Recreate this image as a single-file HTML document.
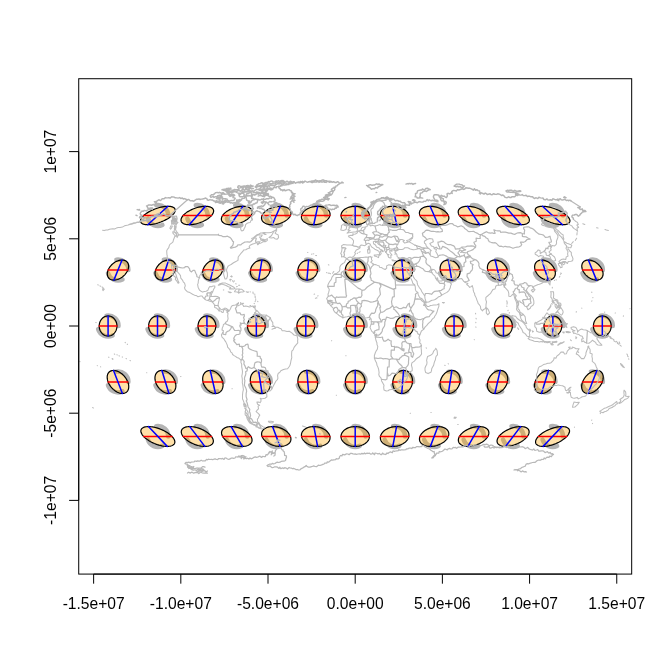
<!DOCTYPE html>
<html><head><meta charset="utf-8"><title>Tissot indicatrix - Robinson</title>
<style>html,body{margin:0;padding:0;background:#fff;width:672px;height:672px;overflow:hidden;font-family:"Liberation Sans",sans-serif}</style></head>
<body>
<svg width="672" height="672" viewBox="0 0 672 672" style="display:block;position:absolute;left:0;top:0">
<rect width="672" height="672" fill="#fff"/>
<defs><clipPath id="pc"><rect x="78.72" y="78.72" width="552.96" height="495.36"/></clipPath></defs>
<g clip-path="url(#pc)">
<g fill="none" stroke="#b4b4b4" stroke-width="4.5" stroke-linecap="round"><path d="M168.31 436.49A10.46 10.46 0 0 0 156.29 426.14M147.86 439.58A10.46 10.46 0 0 0 162.41 445.90"/><path d="M207.78 436.49A10.46 10.46 0 0 0 195.76 426.14M187.33 439.58A10.46 10.46 0 0 0 201.88 445.90"/><path d="M247.25 436.49A10.46 10.46 0 0 0 235.23 426.14M226.80 439.58A10.46 10.46 0 0 0 241.34 445.90"/><path d="M286.72 436.49A10.46 10.46 0 0 0 274.70 426.14M266.27 439.58A10.46 10.46 0 0 0 280.81 445.90"/><path d="M326.19 436.49A10.46 10.46 0 0 0 314.17 426.14M305.74 439.58A10.46 10.46 0 0 0 320.28 445.90"/><path d="M365.66 436.49A10.46 10.46 0 0 0 353.64 426.14M345.21 439.58A10.46 10.46 0 0 0 359.75 445.90"/><path d="M405.13 436.49A10.46 10.46 0 0 0 393.11 426.14M384.67 439.58A10.46 10.46 0 0 0 399.22 445.90"/><path d="M444.60 436.49A10.46 10.46 0 0 0 432.57 426.14M424.14 439.58A10.46 10.46 0 0 0 438.69 445.90"/><path d="M484.07 436.49A10.46 10.46 0 0 0 472.04 426.14M463.61 439.58A10.46 10.46 0 0 0 478.16 445.90"/><path d="M523.54 436.49A10.46 10.46 0 0 0 511.51 426.14M503.08 439.58A10.46 10.46 0 0 0 517.63 445.90"/><path d="M563.01 436.49A10.46 10.46 0 0 0 550.98 426.14M542.55 439.58A10.46 10.46 0 0 0 557.10 445.90"/><path d="M128.43 381.95A10.46 10.46 0 0 0 116.40 371.60M107.97 385.04A10.46 10.46 0 0 0 122.52 391.37"/><path d="M175.88 381.95A10.46 10.46 0 0 0 163.85 371.60M155.42 385.04A10.46 10.46 0 0 0 169.97 391.37"/><path d="M223.32 381.95A10.46 10.46 0 0 0 211.30 371.60M202.87 385.04A10.46 10.46 0 0 0 217.41 391.37"/><path d="M270.77 381.95A10.46 10.46 0 0 0 258.74 371.60M250.31 385.04A10.46 10.46 0 0 0 264.86 391.37"/><path d="M318.22 381.95A10.46 10.46 0 0 0 306.19 371.60M297.76 385.04A10.46 10.46 0 0 0 312.31 391.37"/><path d="M365.66 381.95A10.46 10.46 0 0 0 353.64 371.60M345.21 385.04A10.46 10.46 0 0 0 359.75 391.37"/><path d="M413.11 381.95A10.46 10.46 0 0 0 401.08 371.60M392.65 385.04A10.46 10.46 0 0 0 407.20 391.37"/><path d="M460.56 381.95A10.46 10.46 0 0 0 448.53 371.60M440.10 385.04A10.46 10.46 0 0 0 454.65 391.37"/><path d="M508.00 381.95A10.46 10.46 0 0 0 495.98 371.60M487.54 385.04A10.46 10.46 0 0 0 502.09 391.37"/><path d="M555.45 381.95A10.46 10.46 0 0 0 543.42 371.60M534.99 385.04A10.46 10.46 0 0 0 549.54 391.37"/><path d="M602.90 381.95A10.46 10.46 0 0 0 590.87 371.60M582.44 385.04A10.46 10.46 0 0 0 596.99 391.37"/><path d="M118.55 326.00A10.46 10.46 0 0 0 106.52 315.66M98.09 329.09A10.46 10.46 0 0 0 112.64 335.42"/><path d="M167.97 326.00A10.46 10.46 0 0 0 155.94 315.66M147.51 329.09A10.46 10.46 0 0 0 162.06 335.42"/><path d="M217.39 326.00A10.46 10.46 0 0 0 205.37 315.66M196.93 329.09A10.46 10.46 0 0 0 211.48 335.42"/><path d="M266.82 326.00A10.46 10.46 0 0 0 254.79 315.66M246.36 329.09A10.46 10.46 0 0 0 260.91 335.42"/><path d="M316.24 326.00A10.46 10.46 0 0 0 304.21 315.66M295.78 329.09A10.46 10.46 0 0 0 310.33 335.42"/><path d="M365.66 326.00A10.46 10.46 0 0 0 353.64 315.66M345.21 329.09A10.46 10.46 0 0 0 359.75 335.42"/><path d="M415.09 326.00A10.46 10.46 0 0 0 403.06 315.66M394.63 329.09A10.46 10.46 0 0 0 409.18 335.42"/><path d="M464.51 326.00A10.46 10.46 0 0 0 452.48 315.66M444.05 329.09A10.46 10.46 0 0 0 458.60 335.42"/><path d="M513.93 326.00A10.46 10.46 0 0 0 501.91 315.66M493.48 329.09A10.46 10.46 0 0 0 508.02 335.42"/><path d="M563.36 326.00A10.46 10.46 0 0 0 551.33 315.66M542.90 329.09A10.46 10.46 0 0 0 557.45 335.42"/><path d="M612.78 326.00A10.46 10.46 0 0 0 600.75 315.66M592.32 329.09A10.46 10.46 0 0 0 606.87 335.42"/><path d="M128.43 270.05A10.46 10.46 0 0 0 116.40 259.71M107.97 273.14A10.46 10.46 0 0 0 122.52 279.47"/><path d="M175.88 270.05A10.46 10.46 0 0 0 163.85 259.71M155.42 273.14A10.46 10.46 0 0 0 169.97 279.47"/><path d="M223.32 270.05A10.46 10.46 0 0 0 211.30 259.71M202.87 273.14A10.46 10.46 0 0 0 217.41 279.47"/><path d="M270.77 270.05A10.46 10.46 0 0 0 258.74 259.71M250.31 273.14A10.46 10.46 0 0 0 264.86 279.47"/><path d="M318.22 270.05A10.46 10.46 0 0 0 306.19 259.71M297.76 273.14A10.46 10.46 0 0 0 312.31 279.47"/><path d="M365.66 270.05A10.46 10.46 0 0 0 353.64 259.71M345.21 273.14A10.46 10.46 0 0 0 359.75 279.47"/><path d="M413.11 270.05A10.46 10.46 0 0 0 401.08 259.71M392.65 273.14A10.46 10.46 0 0 0 407.20 279.47"/><path d="M460.56 270.05A10.46 10.46 0 0 0 448.53 259.71M440.10 273.14A10.46 10.46 0 0 0 454.65 279.47"/><path d="M508.00 270.05A10.46 10.46 0 0 0 495.98 259.71M487.54 273.14A10.46 10.46 0 0 0 502.09 279.47"/><path d="M555.45 270.05A10.46 10.46 0 0 0 543.42 259.71M534.99 273.14A10.46 10.46 0 0 0 549.54 279.47"/><path d="M602.90 270.05A10.46 10.46 0 0 0 590.87 259.71M582.44 273.14A10.46 10.46 0 0 0 596.99 279.47"/><path d="M168.31 215.51A10.46 10.46 0 0 0 156.29 205.17M147.86 218.61A10.46 10.46 0 0 0 162.41 224.93"/><path d="M207.78 215.51A10.46 10.46 0 0 0 195.76 205.17M187.33 218.61A10.46 10.46 0 0 0 201.88 224.93"/><path d="M247.25 215.51A10.46 10.46 0 0 0 235.23 205.17M226.80 218.61A10.46 10.46 0 0 0 241.34 224.93"/><path d="M286.72 215.51A10.46 10.46 0 0 0 274.70 205.17M266.27 218.61A10.46 10.46 0 0 0 280.81 224.93"/><path d="M326.19 215.51A10.46 10.46 0 0 0 314.17 205.17M305.74 218.61A10.46 10.46 0 0 0 320.28 224.93"/><path d="M365.66 215.51A10.46 10.46 0 0 0 353.64 205.17M345.21 218.61A10.46 10.46 0 0 0 359.75 224.93"/><path d="M405.13 215.51A10.46 10.46 0 0 0 393.11 205.17M384.67 218.61A10.46 10.46 0 0 0 399.22 224.93"/><path d="M444.60 215.51A10.46 10.46 0 0 0 432.57 205.17M424.14 218.61A10.46 10.46 0 0 0 438.69 224.93"/><path d="M484.07 215.51A10.46 10.46 0 0 0 472.04 205.17M463.61 218.61A10.46 10.46 0 0 0 478.16 224.93"/><path d="M523.54 215.51A10.46 10.46 0 0 0 511.51 205.17M503.08 218.61A10.46 10.46 0 0 0 517.63 224.93"/><path d="M563.01 215.51A10.46 10.46 0 0 0 550.98 205.17M542.55 218.61A10.46 10.46 0 0 0 557.10 224.93"/></g>
<g fill="#ffa500" fill-opacity="0.34" stroke="#000" stroke-width="1.2" stroke-linejoin="round"><polygon points="172.03,436.49 171.16,435.62 170.19,434.77 169.13,433.92 167.97,433.10 166.74,432.30 165.45,431.53 164.09,430.80 162.69,430.12 161.25,429.48 159.79,428.90 158.31,428.37 156.83,427.91 155.35,427.51 153.90,427.18 152.47,426.92 151.08,426.73 149.75,426.62 148.48,426.58 147.28,426.62 146.16,426.73 145.13,426.92 144.19,427.18 143.36,427.51 142.64,427.91 142.04,428.37 141.56,428.90 141.20,429.48 140.96,430.12 140.86,430.80 140.88,431.53 141.04,432.30 141.32,433.10 141.73,433.92 142.26,434.77 142.91,435.62 143.67,436.49 144.54,437.35 145.51,438.21 146.58,439.05 147.73,439.87 148.96,440.67 150.26,441.44 151.61,442.17 153.01,442.85 154.45,443.49 155.92,444.07 157.40,444.60 158.88,445.06 160.35,445.46 161.81,445.79 163.23,446.05 164.62,446.24 165.95,446.35 167.22,446.39 168.43,446.35 169.55,446.24 170.58,446.05 171.51,445.79 172.34,445.46 173.06,445.06 173.66,444.60 174.15,444.07 174.51,443.49 174.74,442.85 174.85,442.17 174.82,441.44 174.67,440.67 174.38,439.87 173.98,439.05 173.45,438.21 172.80,437.35 172.03,436.49"/><polygon points="211.50,436.49 210.80,435.62 209.99,434.77 209.08,433.92 208.08,433.10 207.01,432.30 205.85,431.53 204.64,430.80 203.37,430.12 202.05,429.48 200.69,428.90 199.31,428.37 197.92,427.91 196.52,427.51 195.13,427.18 193.75,426.92 192.40,426.73 191.09,426.62 189.82,426.58 188.62,426.62 187.47,426.73 186.41,426.92 185.42,427.18 184.53,427.51 183.74,427.91 183.04,428.37 182.46,428.90 181.99,429.48 181.64,430.12 181.40,430.80 181.29,431.53 181.30,432.30 181.43,433.10 181.68,433.92 182.05,434.77 182.54,435.62 183.14,436.49 183.85,437.35 184.66,438.21 185.56,439.05 186.56,439.87 187.64,440.67 188.79,441.44 190.00,442.17 191.28,442.85 192.60,443.49 193.95,444.07 195.33,444.60 196.72,445.06 198.12,445.46 199.52,445.79 200.89,446.05 202.24,446.24 203.56,446.35 204.82,446.39 206.03,446.35 207.17,446.24 208.24,446.05 209.22,445.79 210.11,445.46 210.91,445.06 211.60,444.60 212.18,444.07 212.65,443.49 213.01,442.85 213.24,442.17 213.35,441.44 213.34,440.67 213.21,439.87 212.96,439.05 212.59,438.21 212.10,437.35 211.50,436.49"/><polygon points="250.97,436.49 250.43,435.62 249.78,434.77 249.03,433.92 248.19,433.10 247.27,432.30 246.26,431.53 245.18,430.80 244.04,430.12 242.84,429.48 241.60,428.90 240.32,428.37 239.01,427.91 237.69,427.51 236.36,427.18 235.03,426.92 233.72,426.73 232.42,426.62 231.17,426.58 229.95,426.62 228.79,426.73 227.69,426.92 226.66,427.18 225.70,427.51 224.83,427.91 224.05,428.37 223.37,428.90 222.79,429.48 222.31,430.12 221.95,430.80 221.70,431.53 221.56,432.30 221.54,433.10 221.64,433.92 221.85,434.77 222.17,435.62 222.61,436.49 223.15,437.35 223.80,438.21 224.55,439.05 225.39,439.87 226.31,440.67 227.32,441.44 228.40,442.17 229.54,442.85 230.74,443.49 231.98,444.07 233.26,444.60 234.57,445.06 235.89,445.46 237.23,445.79 238.55,446.05 239.87,446.24 241.16,446.35 242.41,446.39 243.63,446.35 244.79,446.24 245.89,446.05 246.93,445.79 247.88,445.46 248.75,445.06 249.53,444.60 250.22,444.07 250.80,443.49 251.27,442.85 251.63,442.17 251.89,441.44 252.02,440.67 252.04,439.87 251.95,439.05 251.73,438.21 251.41,437.35 250.97,436.49"/><polygon points="290.44,436.49 290.06,435.62 289.58,434.77 288.99,433.92 288.31,433.10 287.53,432.30 286.67,431.53 285.73,430.80 284.72,430.12 283.64,429.48 282.51,428.90 281.32,428.37 280.11,427.91 278.86,427.51 277.59,427.18 276.31,426.92 275.03,426.73 273.76,426.62 272.51,426.58 271.29,426.62 270.11,426.73 268.97,426.92 267.89,427.18 266.87,427.51 265.92,427.91 265.05,428.37 264.27,428.90 263.58,429.48 262.99,430.12 262.49,430.80 262.10,431.53 261.82,432.30 261.65,433.10 261.59,433.92 261.64,434.77 261.81,435.62 262.08,436.49 262.46,437.35 262.94,438.21 263.53,439.05 264.22,439.87 264.99,440.67 265.85,441.44 266.79,442.17 267.81,442.85 268.88,443.49 270.02,444.07 271.20,444.60 272.42,445.06 273.66,445.46 274.93,445.79 276.21,446.05 277.49,446.24 278.76,446.35 280.01,446.39 281.23,446.35 282.42,446.24 283.55,446.05 284.63,445.79 285.65,445.46 286.60,445.06 287.47,444.60 288.25,444.07 288.94,443.49 289.54,442.85 290.03,442.17 290.42,441.44 290.70,440.67 290.87,439.87 290.93,439.05 290.88,438.21 290.72,437.35 290.44,436.49"/><polygon points="329.91,436.49 329.70,435.62 329.37,434.77 328.94,433.92 328.42,433.10 327.79,432.30 327.08,431.53 326.27,430.80 325.39,430.12 324.43,429.48 323.41,428.90 322.33,428.37 321.20,427.91 320.03,427.51 318.82,427.18 317.59,426.92 316.35,426.73 315.10,426.62 313.86,426.58 312.63,426.62 311.42,426.73 310.25,426.92 309.12,427.18 308.04,427.51 307.02,427.91 306.06,428.37 305.18,428.90 304.38,429.48 303.66,430.12 303.04,430.80 302.51,431.53 302.08,432.30 301.76,433.10 301.55,433.92 301.44,434.77 301.44,435.62 301.55,436.49 301.77,437.35 302.09,438.21 302.52,439.05 303.04,439.87 303.67,440.67 304.39,441.44 305.19,442.17 306.07,442.85 307.03,443.49 308.05,444.07 309.13,444.60 310.26,445.06 311.44,445.46 312.64,445.79 313.87,446.05 315.11,446.24 316.36,446.35 317.60,446.39 318.83,446.35 320.04,446.24 321.21,446.05 322.34,445.79 323.42,445.46 324.45,445.06 325.40,444.60 326.28,444.07 327.08,443.49 327.80,442.85 328.42,442.17 328.95,441.44 329.38,440.67 329.70,439.87 329.91,439.05 330.02,438.21 330.02,437.35 329.91,436.49"/><polygon points="369.38,436.49 369.33,435.62 369.17,434.77 368.90,433.92 368.53,433.10 368.05,432.30 367.48,431.53 366.82,430.80 366.06,430.12 365.23,429.48 364.32,428.90 363.33,428.37 362.29,427.91 361.19,427.51 360.05,427.18 358.87,426.92 357.66,426.73 356.44,426.62 355.20,426.58 353.96,426.62 352.74,426.73 351.53,426.92 350.35,427.18 349.21,427.51 348.11,427.91 347.07,428.37 346.08,428.90 345.17,429.48 344.34,430.12 343.58,430.80 342.92,431.53 342.35,432.30 341.87,433.10 341.50,433.92 341.23,434.77 341.07,435.62 341.02,436.49 341.07,437.35 341.23,438.21 341.50,439.05 341.87,439.87 342.35,440.67 342.92,441.44 343.58,442.17 344.34,442.85 345.17,443.49 346.08,444.07 347.07,444.60 348.11,445.06 349.21,445.46 350.35,445.79 351.53,446.05 352.74,446.24 353.96,446.35 355.20,446.39 356.44,446.35 357.66,446.24 358.87,446.05 360.05,445.79 361.19,445.46 362.29,445.06 363.33,444.60 364.32,444.07 365.23,443.49 366.06,442.85 366.82,442.17 367.48,441.44 368.05,440.67 368.53,439.87 368.90,439.05 369.17,438.21 369.33,437.35 369.38,436.49"/><polygon points="408.85,436.49 408.96,435.62 408.96,434.77 408.85,433.92 408.64,433.10 408.32,432.30 407.89,431.53 407.36,430.80 406.74,430.12 406.02,429.48 405.22,428.90 404.34,428.37 403.38,427.91 402.36,427.51 401.28,427.18 400.15,426.92 398.98,426.73 397.77,426.62 396.54,426.58 395.30,426.62 394.05,426.73 392.81,426.92 391.58,427.18 390.37,427.51 389.20,427.91 388.07,428.37 386.99,428.90 385.97,429.48 385.01,430.12 384.13,430.80 383.32,431.53 382.61,432.30 381.98,433.10 381.46,433.92 381.03,434.77 380.70,435.62 380.49,436.49 380.38,437.35 380.38,438.21 380.49,439.05 380.70,439.87 381.02,440.67 381.45,441.44 381.98,442.17 382.60,442.85 383.32,443.49 384.12,444.07 385.00,444.60 385.95,445.06 386.98,445.46 388.06,445.79 389.19,446.05 390.36,446.24 391.57,446.35 392.80,446.39 394.04,446.35 395.29,446.24 396.53,446.05 397.76,445.79 398.96,445.46 400.14,445.06 401.27,444.60 402.35,444.07 403.37,443.49 404.33,442.85 405.21,442.17 406.01,441.44 406.73,440.67 407.36,439.87 407.88,439.05 408.31,438.21 408.63,437.35 408.85,436.49"/><polygon points="448.32,436.49 448.59,435.62 448.76,434.77 448.81,433.92 448.75,433.10 448.58,432.30 448.30,431.53 447.91,430.80 447.41,430.12 446.82,429.48 446.13,428.90 445.35,428.37 444.48,427.91 443.53,427.51 442.51,427.18 441.43,426.92 440.29,426.73 439.11,426.62 437.89,426.58 436.64,426.62 435.37,426.73 434.09,426.92 432.81,427.18 431.54,427.51 430.29,427.91 429.08,428.37 427.89,428.90 426.76,429.48 425.68,430.12 424.67,430.80 423.73,431.53 422.87,432.30 422.09,433.10 421.41,433.92 420.82,434.77 420.34,435.62 419.96,436.49 419.68,437.35 419.52,438.21 419.47,439.05 419.53,439.87 419.70,440.67 419.98,441.44 420.37,442.17 420.86,442.85 421.46,443.49 422.15,444.07 422.93,444.60 423.80,445.06 424.75,445.46 425.77,445.79 426.85,446.05 427.98,446.24 429.17,446.35 430.39,446.39 431.64,446.35 432.91,446.24 434.19,446.05 435.47,445.79 436.74,445.46 437.98,445.06 439.20,444.60 440.38,444.07 441.52,443.49 442.59,442.85 443.61,442.17 444.55,441.44 445.41,440.67 446.18,439.87 446.87,439.05 447.46,438.21 447.94,437.35 448.32,436.49"/><polygon points="487.79,436.49 488.23,435.62 488.55,434.77 488.76,433.92 488.86,433.10 488.84,432.30 488.70,431.53 488.45,430.80 488.09,430.12 487.61,429.48 487.03,428.90 486.35,428.37 485.57,427.91 484.70,427.51 483.74,427.18 482.71,426.92 481.61,426.73 480.45,426.62 479.23,426.58 477.98,426.62 476.68,426.73 475.37,426.92 474.04,427.18 472.71,427.51 471.39,427.91 470.08,428.37 468.80,428.90 467.56,429.48 466.36,430.12 465.22,430.80 464.14,431.53 463.13,432.30 462.21,433.10 461.37,433.92 460.62,434.77 459.97,435.62 459.43,436.49 458.99,437.35 458.67,438.21 458.45,439.05 458.36,439.87 458.38,440.67 458.51,441.44 458.77,442.17 459.13,442.85 459.60,443.49 460.18,444.07 460.87,444.60 461.65,445.06 462.52,445.46 463.47,445.79 464.51,446.05 465.61,446.24 466.77,446.35 467.99,446.39 469.24,446.35 470.53,446.24 471.85,446.05 473.17,445.79 474.51,445.46 475.83,445.06 477.14,444.60 478.42,444.07 479.66,443.49 480.86,442.85 482.00,442.17 483.08,441.44 484.09,440.67 485.01,439.87 485.85,439.05 486.60,438.21 487.25,437.35 487.79,436.49"/><polygon points="527.26,436.49 527.86,435.62 528.35,434.77 528.72,433.92 528.97,433.10 529.10,432.30 529.11,431.53 529.00,430.80 528.76,430.12 528.41,429.48 527.94,428.90 527.36,428.37 526.66,427.91 525.87,427.51 524.98,427.18 523.99,426.92 522.93,426.73 521.78,426.62 520.58,426.58 519.31,426.62 518.00,426.73 516.65,426.92 515.27,427.18 513.88,427.51 512.48,427.91 511.09,428.37 509.71,428.90 508.35,429.48 507.03,430.12 505.76,430.80 504.55,431.53 503.39,432.30 502.32,433.10 501.32,433.92 500.41,434.77 499.60,435.62 498.90,436.49 498.30,437.35 497.81,438.21 497.44,439.05 497.19,439.87 497.06,440.67 497.05,441.44 497.16,442.17 497.39,442.85 497.75,443.49 498.22,444.07 498.80,444.60 499.49,445.06 500.29,445.46 501.18,445.79 502.16,446.05 503.23,446.24 504.37,446.35 505.58,446.39 506.84,446.35 508.16,446.24 509.51,446.05 510.88,445.79 512.28,445.46 513.68,445.06 515.07,444.60 516.45,444.07 517.80,443.49 519.12,442.85 520.40,442.17 521.61,441.44 522.76,440.67 523.84,439.87 524.84,439.05 525.74,438.21 526.55,437.35 527.26,436.49"/><polygon points="566.73,436.49 567.49,435.62 568.14,434.77 568.67,433.92 569.08,433.10 569.36,432.30 569.52,431.53 569.54,430.80 569.44,430.12 569.20,429.48 568.84,428.90 568.36,428.37 567.76,427.91 567.04,427.51 566.21,427.18 565.27,426.92 564.24,426.73 563.12,426.62 561.92,426.58 560.65,426.62 559.32,426.73 557.93,426.92 556.50,427.18 555.05,427.51 553.57,427.91 552.09,428.37 550.61,428.90 549.15,429.48 547.71,430.12 546.31,430.80 544.95,431.53 543.66,432.30 542.43,433.10 541.27,433.92 540.21,434.77 539.24,435.62 538.37,436.49 537.60,437.35 536.95,438.21 536.42,439.05 536.02,439.87 535.73,440.67 535.58,441.44 535.55,442.17 535.66,442.85 535.89,443.49 536.25,444.07 536.74,444.60 537.34,445.06 538.06,445.46 538.89,445.79 539.82,446.05 540.85,446.24 541.97,446.35 543.18,446.39 544.45,446.35 545.78,446.24 547.17,446.05 548.59,445.79 550.05,445.46 551.52,445.06 553.00,444.60 554.48,444.07 555.95,443.49 557.39,442.85 558.79,442.17 560.14,441.44 561.44,440.67 562.67,439.87 563.82,439.05 564.89,438.21 565.86,437.35 566.73,436.49"/><polygon points="127.81,381.95 127.39,380.95 126.89,379.95 126.33,378.97 125.71,378.01 125.02,377.08 124.28,376.19 123.50,375.35 122.67,374.55 121.81,373.81 120.91,373.13 120.00,372.52 119.07,371.98 118.13,371.52 117.19,371.13 116.25,370.83 115.33,370.61 114.43,370.48 113.55,370.44 112.71,370.48 111.91,370.61 111.16,370.83 110.45,371.13 109.81,371.52 109.22,371.98 108.71,372.52 108.26,373.13 107.89,373.81 107.59,374.55 107.37,375.35 107.24,376.19 107.18,377.08 107.21,378.01 107.32,378.97 107.51,379.95 107.78,380.95 108.12,381.95 108.55,382.95 109.04,383.95 109.60,384.93 110.23,385.89 110.91,386.81 111.65,387.71 112.44,388.55 113.26,389.35 114.13,390.09 115.02,390.77 115.94,391.38 116.87,391.92 117.81,392.38 118.75,392.77 119.68,393.07 120.61,393.29 121.51,393.42 122.38,393.46 123.22,393.42 124.02,393.29 124.78,393.07 125.48,392.77 126.13,392.38 126.71,391.92 127.23,391.38 127.68,390.77 128.05,390.09 128.35,389.35 128.56,388.55 128.70,387.71 128.75,386.81 128.73,385.89 128.62,384.93 128.43,383.95 128.16,382.95 127.81,381.95"/><polygon points="175.26,381.95 174.91,380.95 174.49,379.95 174.01,378.97 173.46,378.01 172.84,377.08 172.17,376.19 171.45,375.35 170.68,374.55 169.88,373.81 169.04,373.13 168.17,372.52 167.28,371.98 166.37,371.52 165.46,371.13 164.55,370.83 163.64,370.61 162.75,370.48 161.88,370.44 161.04,370.48 160.23,370.61 159.45,370.83 158.73,371.13 158.05,371.52 157.43,371.98 156.87,372.52 156.38,373.13 155.96,373.81 155.60,374.55 155.33,375.35 155.12,376.19 155.00,377.08 154.96,378.01 154.99,378.97 155.11,379.95 155.30,380.95 155.57,381.95 155.92,382.95 156.33,383.95 156.82,384.93 157.37,385.89 157.99,386.81 158.66,387.71 159.38,388.55 160.14,389.35 160.95,390.09 161.79,390.77 162.66,391.38 163.55,391.92 164.45,392.38 165.37,392.77 166.28,393.07 167.18,393.29 168.07,393.42 168.95,393.46 169.79,393.42 170.60,393.29 171.37,393.07 172.10,392.77 172.77,392.38 173.39,391.92 173.95,391.38 174.45,390.77 174.87,390.09 175.22,389.35 175.50,388.55 175.70,387.71 175.83,386.81 175.87,385.89 175.84,384.93 175.72,383.95 175.53,382.95 175.26,381.95"/><polygon points="222.70,381.95 222.44,380.95 222.09,379.95 221.68,378.97 221.20,378.01 220.66,377.08 220.06,376.19 219.40,375.35 218.70,374.55 217.95,373.81 217.16,373.13 216.34,372.52 215.49,371.98 214.62,371.52 213.74,371.13 212.85,370.83 211.96,370.61 211.08,370.48 210.21,370.44 209.36,370.48 208.54,370.61 207.75,370.83 207.00,371.13 206.30,371.52 205.64,371.98 205.04,372.52 204.50,373.13 204.03,373.81 203.62,374.55 203.28,375.35 203.01,376.19 202.82,377.08 202.70,378.01 202.67,378.97 202.71,379.95 202.82,380.95 203.02,381.95 203.29,382.95 203.63,383.95 204.04,384.93 204.52,385.89 205.06,386.81 205.66,387.71 206.32,388.55 207.02,389.35 207.77,390.09 208.56,390.77 209.38,391.38 210.23,391.92 211.10,392.38 211.98,392.77 212.87,393.07 213.76,393.29 214.64,393.42 215.51,393.46 216.36,393.42 217.18,393.29 217.97,393.07 218.72,392.77 219.42,392.38 220.08,391.92 220.68,391.38 221.22,390.77 221.69,390.09 222.10,389.35 222.44,388.55 222.71,387.71 222.90,386.81 223.02,385.89 223.05,384.93 223.01,383.95 222.90,382.95 222.70,381.95"/><polygon points="270.15,381.95 269.96,380.95 269.69,379.95 269.36,378.97 268.95,378.01 268.48,377.08 267.95,376.19 267.36,375.35 266.71,374.55 266.02,373.81 265.28,373.13 264.51,372.52 263.70,371.98 262.87,371.52 262.01,371.13 261.15,370.83 260.28,370.61 259.41,370.48 258.54,370.44 257.69,370.48 256.86,370.61 256.05,370.83 255.28,371.13 254.55,371.52 253.86,371.98 253.21,372.52 252.63,373.13 252.10,373.81 251.63,374.55 251.23,375.35 250.90,376.19 250.64,377.08 250.45,378.01 250.34,378.97 250.31,379.95 250.35,380.95 250.46,381.95 250.66,382.95 250.92,383.95 251.26,384.93 251.66,385.89 252.13,386.81 252.67,387.71 253.26,388.55 253.90,389.35 254.60,390.09 255.33,390.77 256.11,391.38 256.91,391.92 257.75,392.38 258.60,392.77 259.47,393.07 260.34,393.29 261.21,393.42 262.07,393.46 262.92,393.42 263.76,393.29 264.56,393.07 265.33,392.77 266.07,392.38 266.76,391.92 267.40,391.38 267.99,390.77 268.52,390.09 268.98,389.35 269.38,388.55 269.71,387.71 269.97,386.81 270.16,385.89 270.27,384.93 270.31,383.95 270.27,382.95 270.15,381.95"/><polygon points="317.60,381.95 317.48,380.95 317.29,379.95 317.03,378.97 316.70,378.01 316.30,377.08 315.84,376.19 315.31,375.35 314.73,374.55 314.09,373.81 313.40,373.13 312.68,372.52 311.91,371.98 311.11,371.52 310.29,371.13 309.45,370.83 308.59,370.61 307.73,370.48 306.87,370.44 306.02,370.48 305.17,370.61 304.35,370.83 303.56,371.13 302.79,371.52 302.07,371.98 301.38,372.52 300.75,373.13 300.17,373.81 299.65,374.55 299.18,375.35 298.79,376.19 298.46,377.08 298.20,378.01 298.02,378.97 297.91,379.95 297.87,380.95 297.91,381.95 298.02,382.95 298.21,383.95 298.47,384.93 298.81,385.89 299.21,386.81 299.67,387.71 300.20,388.55 300.78,389.35 301.42,390.09 302.10,390.77 302.83,391.38 303.60,391.92 304.39,392.38 305.22,392.77 306.06,393.07 306.91,393.29 307.78,393.42 308.64,393.46 309.49,393.42 310.33,393.29 311.15,393.07 311.95,392.77 312.71,392.38 313.44,391.92 314.12,391.38 314.76,390.77 315.34,390.09 315.86,389.35 316.32,388.55 316.72,387.71 317.05,386.81 317.30,385.89 317.49,384.93 317.60,383.95 317.64,382.95 317.60,381.95"/><polygon points="365.04,381.95 365.01,380.95 364.89,379.95 364.71,378.97 364.45,378.01 364.12,377.08 363.72,376.19 363.26,375.35 362.74,374.55 362.16,373.81 361.53,373.13 360.85,372.52 360.12,371.98 359.36,371.52 358.57,371.13 357.75,370.83 356.91,370.61 356.06,370.48 355.20,370.44 354.34,370.48 353.49,370.61 352.65,370.83 351.83,371.13 351.04,371.52 350.28,371.98 349.55,372.52 348.87,373.13 348.24,373.81 347.66,374.55 347.14,375.35 346.68,376.19 346.28,377.08 345.95,378.01 345.69,378.97 345.51,379.95 345.39,380.95 345.36,381.95 345.39,382.95 345.51,383.95 345.69,384.93 345.95,385.89 346.28,386.81 346.68,387.71 347.14,388.55 347.66,389.35 348.24,390.09 348.87,390.77 349.55,391.38 350.28,391.92 351.04,392.38 351.83,392.77 352.65,393.07 353.49,393.29 354.34,393.42 355.20,393.46 356.06,393.42 356.91,393.29 357.75,393.07 358.57,392.77 359.36,392.38 360.12,391.92 360.85,391.38 361.53,390.77 362.16,390.09 362.74,389.35 363.26,388.55 363.72,387.71 364.12,386.81 364.45,385.89 364.71,384.93 364.89,383.95 365.01,382.95 365.04,381.95"/><polygon points="412.49,381.95 412.53,380.95 412.49,379.95 412.38,378.97 412.20,378.01 411.94,377.08 411.61,376.19 411.22,375.35 410.75,374.55 410.23,373.81 409.65,373.13 409.02,372.52 408.33,371.98 407.61,371.52 406.84,371.13 406.05,370.83 405.23,370.61 404.38,370.48 403.53,370.44 402.67,370.48 401.81,370.61 400.95,370.83 400.11,371.13 399.29,371.52 398.49,371.98 397.72,372.52 397.00,373.13 396.31,373.81 395.67,374.55 395.09,375.35 394.56,376.19 394.10,377.08 393.70,378.01 393.37,378.97 393.11,379.95 392.92,380.95 392.80,381.95 392.76,382.95 392.80,383.95 392.91,384.93 393.10,385.89 393.35,386.81 393.68,387.71 394.08,388.55 394.54,389.35 395.06,390.09 395.64,390.77 396.28,391.38 396.96,391.92 397.69,392.38 398.45,392.77 399.25,393.07 400.07,393.29 400.91,393.42 401.76,393.46 402.62,393.42 403.49,393.29 404.34,393.07 405.18,392.77 406.01,392.38 406.80,391.92 407.57,391.38 408.30,390.77 408.98,390.09 409.62,389.35 410.20,388.55 410.73,387.71 411.19,386.81 411.59,385.89 411.93,384.93 412.19,383.95 412.38,382.95 412.49,381.95"/><polygon points="459.94,381.95 460.05,380.95 460.09,379.95 460.06,378.97 459.95,378.01 459.76,377.08 459.50,376.19 459.17,375.35 458.77,374.55 458.30,373.81 457.77,373.13 457.19,372.52 456.54,371.98 455.85,371.52 455.12,371.13 454.35,370.83 453.54,370.61 452.71,370.48 451.86,370.44 450.99,370.48 450.12,370.61 449.25,370.83 448.39,371.13 447.53,371.52 446.70,371.98 445.89,372.52 445.12,373.13 444.38,373.81 443.69,374.55 443.04,375.35 442.45,376.19 441.92,377.08 441.45,378.01 441.04,378.97 440.71,379.95 440.44,380.95 440.25,381.95 440.13,382.95 440.09,383.95 440.13,384.93 440.24,385.89 440.43,386.81 440.69,387.71 441.02,388.55 441.42,389.35 441.88,390.09 442.41,390.77 443.00,391.38 443.64,391.92 444.33,392.38 445.07,392.77 445.84,393.07 446.64,393.29 447.48,393.42 448.33,393.46 449.19,393.42 450.06,393.29 450.93,393.07 451.80,392.77 452.65,392.38 453.49,391.92 454.29,391.38 455.07,390.77 455.80,390.09 456.50,389.35 457.14,388.55 457.73,387.71 458.27,386.81 458.74,385.89 459.14,384.93 459.48,383.95 459.74,382.95 459.94,381.95"/><polygon points="507.38,381.95 507.58,380.95 507.69,379.95 507.73,378.97 507.70,378.01 507.58,377.08 507.39,376.19 507.12,375.35 506.78,374.55 506.37,373.81 505.90,373.13 505.36,372.52 504.76,371.98 504.10,371.52 503.40,371.13 502.65,370.83 501.86,370.61 501.04,370.48 500.19,370.44 499.32,370.48 498.44,370.61 497.55,370.83 496.66,371.13 495.78,371.52 494.91,371.98 494.06,372.52 493.24,373.13 492.45,373.81 491.70,374.55 491.00,375.35 490.34,376.19 489.74,377.08 489.20,378.01 488.72,378.97 488.31,379.95 487.96,380.95 487.70,381.95 487.50,382.95 487.39,383.95 487.35,384.93 487.38,385.89 487.50,386.81 487.69,387.71 487.96,388.55 488.30,389.35 488.71,390.09 489.18,390.77 489.72,391.38 490.32,391.92 490.98,392.38 491.68,392.77 492.43,393.07 493.22,393.29 494.04,393.42 494.89,393.46 495.76,393.42 496.64,393.29 497.53,393.07 498.42,392.77 499.30,392.38 500.17,391.92 501.02,391.38 501.84,390.77 502.63,390.09 503.38,389.35 504.08,388.55 504.74,387.71 505.34,386.81 505.88,385.89 506.36,384.93 506.77,383.95 507.11,382.95 507.38,381.95"/><polygon points="554.83,381.95 555.10,380.95 555.29,379.95 555.41,378.97 555.44,378.01 555.40,377.08 555.28,376.19 555.07,375.35 554.80,374.55 554.44,373.81 554.02,373.13 553.53,372.52 552.97,371.98 552.35,371.52 551.67,371.13 550.95,370.83 550.17,370.61 549.36,370.48 548.52,370.44 547.65,370.48 546.76,370.61 545.85,370.83 544.94,371.13 544.03,371.52 543.12,371.98 542.23,372.52 541.36,373.13 540.52,373.81 539.72,374.55 538.95,375.35 538.23,376.19 537.56,377.08 536.94,378.01 536.39,378.97 535.91,379.95 535.49,380.95 535.14,381.95 534.87,382.95 534.68,383.95 534.56,384.93 534.53,385.89 534.57,386.81 534.70,387.71 534.90,388.55 535.18,389.35 535.53,390.09 535.95,390.77 536.45,391.38 537.01,391.92 537.63,392.38 538.30,392.77 539.03,393.07 539.80,393.29 540.61,393.42 541.45,393.46 542.33,393.42 543.22,393.29 544.12,393.07 545.03,392.77 545.95,392.38 546.85,391.92 547.74,391.38 548.61,390.77 549.45,390.09 550.26,389.35 551.02,388.55 551.74,387.71 552.41,386.81 553.03,385.89 553.58,384.93 554.07,383.95 554.48,382.95 554.83,381.95"/><polygon points="602.28,381.95 602.62,380.95 602.89,379.95 603.08,378.97 603.19,378.01 603.22,377.08 603.16,376.19 603.03,375.35 602.81,374.55 602.51,373.81 602.14,373.13 601.69,372.52 601.18,371.98 600.59,371.52 599.95,371.13 599.24,370.83 598.49,370.61 597.69,370.48 596.85,370.44 595.97,370.48 595.07,370.61 594.15,370.83 593.21,371.13 592.27,371.52 591.33,371.98 590.40,372.52 589.49,373.13 588.59,373.81 587.73,374.55 586.90,375.35 586.12,376.19 585.38,377.08 584.69,378.01 584.07,378.97 583.51,379.95 583.01,380.95 582.59,381.95 582.24,382.95 581.97,383.95 581.78,384.93 581.67,385.89 581.65,386.81 581.70,387.71 581.84,388.55 582.05,389.35 582.35,390.09 582.72,390.77 583.17,391.38 583.69,391.92 584.27,392.38 584.92,392.77 585.62,393.07 586.38,393.29 587.18,393.42 588.02,393.46 588.89,393.42 589.79,393.29 590.72,393.07 591.65,392.77 592.59,392.38 593.53,391.92 594.46,391.38 595.38,390.77 596.27,390.09 597.14,389.35 597.96,388.55 598.75,387.71 599.49,386.81 600.17,385.89 600.80,384.93 601.36,383.95 601.85,382.95 602.28,381.95"/><polygon points="116.96,326.00 116.93,325.12 116.83,324.25 116.66,323.40 116.43,322.56 116.13,321.75 115.77,320.97 115.36,320.23 114.88,319.54 114.36,318.89 113.79,318.30 113.18,317.77 112.52,317.29 111.84,316.89 111.12,316.55 110.38,316.29 109.62,316.10 108.86,315.99 108.08,315.95 107.31,315.99 106.54,316.10 105.78,316.29 105.05,316.55 104.33,316.89 103.64,317.29 102.99,317.77 102.37,318.30 101.80,318.89 101.28,319.54 100.81,320.23 100.39,320.97 100.03,321.75 99.74,322.56 99.51,323.40 99.34,324.25 99.24,325.12 99.20,326.00 99.24,326.88 99.34,327.75 99.51,328.60 99.74,329.44 100.03,330.25 100.39,331.03 100.81,331.77 101.28,332.46 101.80,333.11 102.37,333.70 102.99,334.23 103.64,334.71 104.33,335.11 105.05,335.45 105.78,335.71 106.54,335.90 107.31,336.01 108.08,336.05 108.86,336.01 109.62,335.90 110.38,335.71 111.12,335.45 111.84,335.11 112.52,334.71 113.18,334.23 113.79,333.70 114.36,333.11 114.88,332.46 115.36,331.77 115.77,331.03 116.13,330.25 116.43,329.44 116.66,328.60 116.83,327.75 116.93,326.88 116.96,326.00"/><polygon points="166.39,326.00 166.35,325.12 166.25,324.25 166.08,323.40 165.85,322.56 165.55,321.75 165.20,320.97 164.78,320.23 164.31,319.54 163.78,318.89 163.21,318.30 162.60,317.77 161.95,317.29 161.26,316.89 160.54,316.55 159.80,316.29 159.05,316.10 158.28,315.99 157.51,315.95 156.73,315.99 155.96,316.10 155.21,316.29 154.47,316.55 153.75,316.89 153.07,317.29 152.41,317.77 151.80,318.30 151.23,318.89 150.70,319.54 150.23,320.23 149.82,320.97 149.46,321.75 149.16,322.56 148.93,323.40 148.76,324.25 148.66,325.12 148.63,326.00 148.66,326.88 148.76,327.75 148.93,328.60 149.16,329.44 149.46,330.25 149.82,331.03 150.23,331.77 150.70,332.46 151.23,333.11 151.80,333.70 152.41,334.23 153.07,334.71 153.75,335.11 154.47,335.45 155.21,335.71 155.96,335.90 156.73,336.01 157.51,336.05 158.28,336.01 159.05,335.90 159.80,335.71 160.54,335.45 161.26,335.11 161.95,334.71 162.60,334.23 163.21,333.70 163.78,333.11 164.31,332.46 164.78,331.77 165.20,331.03 165.55,330.25 165.85,329.44 166.08,328.60 166.25,327.75 166.35,326.88 166.39,326.00"/><polygon points="215.81,326.00 215.78,325.12 215.67,324.25 215.51,323.40 215.27,322.56 214.98,321.75 214.62,320.97 214.20,320.23 213.73,319.54 213.21,318.89 212.64,318.30 212.02,317.77 211.37,317.29 210.68,316.89 209.97,316.55 209.23,316.29 208.47,316.10 207.70,315.99 206.93,315.95 206.16,315.99 205.39,316.10 204.63,316.29 203.89,316.55 203.18,316.89 202.49,317.29 201.84,317.77 201.22,318.30 200.65,318.89 200.13,319.54 199.66,320.23 199.24,320.97 198.88,321.75 198.59,322.56 198.35,323.40 198.18,324.25 198.08,325.12 198.05,326.00 198.08,326.88 198.18,327.75 198.35,328.60 198.59,329.44 198.88,330.25 199.24,331.03 199.66,331.77 200.13,332.46 200.65,333.11 201.22,333.70 201.84,334.23 202.49,334.71 203.18,335.11 203.89,335.45 204.63,335.71 205.39,335.90 206.16,336.01 206.93,336.05 207.70,336.01 208.47,335.90 209.23,335.71 209.97,335.45 210.68,335.11 211.37,334.71 212.02,334.23 212.64,333.70 213.21,333.11 213.73,332.46 214.20,331.77 214.62,331.03 214.98,330.25 215.27,329.44 215.51,328.60 215.67,327.75 215.78,326.88 215.81,326.00"/><polygon points="265.23,326.00 265.20,325.12 265.10,324.25 264.93,323.40 264.70,322.56 264.40,321.75 264.04,320.97 263.63,320.23 263.16,319.54 262.63,318.89 262.06,318.30 261.45,317.77 260.79,317.29 260.11,316.89 259.39,316.55 258.65,316.29 257.89,316.10 257.13,315.99 256.35,315.95 255.58,315.99 254.81,316.10 254.05,316.29 253.32,316.55 252.60,316.89 251.91,317.29 251.26,317.77 250.65,318.30 250.07,318.89 249.55,319.54 249.08,320.23 248.66,320.97 248.31,321.75 248.01,322.56 247.78,323.40 247.61,324.25 247.51,325.12 247.47,326.00 247.51,326.88 247.61,327.75 247.78,328.60 248.01,329.44 248.31,330.25 248.66,331.03 249.08,331.77 249.55,332.46 250.07,333.11 250.65,333.70 251.26,334.23 251.91,334.71 252.60,335.11 253.32,335.45 254.05,335.71 254.81,335.90 255.58,336.01 256.35,336.05 257.13,336.01 257.89,335.90 258.65,335.71 259.39,335.45 260.11,335.11 260.79,334.71 261.45,334.23 262.06,333.70 262.63,333.11 263.16,332.46 263.63,331.77 264.04,331.03 264.40,330.25 264.70,329.44 264.93,328.60 265.10,327.75 265.20,326.88 265.23,326.00"/><polygon points="314.66,326.00 314.62,325.12 314.52,324.25 314.35,323.40 314.12,322.56 313.82,321.75 313.47,320.97 313.05,320.23 312.58,319.54 312.06,318.89 311.48,318.30 310.87,317.77 310.22,317.29 309.53,316.89 308.81,316.55 308.07,316.29 307.32,316.10 306.55,315.99 305.78,315.95 305.00,315.99 304.23,316.10 303.48,316.29 302.74,316.55 302.02,316.89 301.34,317.29 300.68,317.77 300.07,318.30 299.50,318.89 298.97,319.54 298.50,320.23 298.09,320.97 297.73,321.75 297.43,322.56 297.20,323.40 297.03,324.25 296.93,325.12 296.90,326.00 296.93,326.88 297.03,327.75 297.20,328.60 297.43,329.44 297.73,330.25 298.09,331.03 298.50,331.77 298.97,332.46 299.50,333.11 300.07,333.70 300.68,334.23 301.34,334.71 302.02,335.11 302.74,335.45 303.48,335.71 304.23,335.90 305.00,336.01 305.78,336.05 306.55,336.01 307.32,335.90 308.07,335.71 308.81,335.45 309.53,335.11 310.22,334.71 310.87,334.23 311.48,333.70 312.06,333.11 312.58,332.46 313.05,331.77 313.47,331.03 313.82,330.25 314.12,329.44 314.35,328.60 314.52,327.75 314.62,326.88 314.66,326.00"/><polygon points="364.08,326.00 364.05,325.12 363.94,324.25 363.78,323.40 363.54,322.56 363.25,321.75 362.89,320.97 362.47,320.23 362.00,319.54 361.48,318.89 360.91,318.30 360.29,317.77 359.64,317.29 358.95,316.89 358.24,316.55 357.50,316.29 356.74,316.10 355.97,315.99 355.20,315.95 354.43,315.99 353.66,316.10 352.90,316.29 352.16,316.55 351.45,316.89 350.76,317.29 350.11,317.77 349.49,318.30 348.92,318.89 348.40,319.54 347.93,320.23 347.51,320.97 347.15,321.75 346.86,322.56 346.62,323.40 346.46,324.25 346.35,325.12 346.32,326.00 346.35,326.88 346.46,327.75 346.62,328.60 346.86,329.44 347.15,330.25 347.51,331.03 347.93,331.77 348.40,332.46 348.92,333.11 349.49,333.70 350.11,334.23 350.76,334.71 351.45,335.11 352.16,335.45 352.90,335.71 353.66,335.90 354.43,336.01 355.20,336.05 355.97,336.01 356.74,335.90 357.50,335.71 358.24,335.45 358.95,335.11 359.64,334.71 360.29,334.23 360.91,333.70 361.48,333.11 362.00,332.46 362.47,331.77 362.89,331.03 363.25,330.25 363.54,329.44 363.78,328.60 363.94,327.75 364.05,326.88 364.08,326.00"/><polygon points="413.50,326.00 413.47,325.12 413.37,324.25 413.20,323.40 412.97,322.56 412.67,321.75 412.31,320.97 411.90,320.23 411.43,319.54 410.90,318.89 410.33,318.30 409.72,317.77 409.06,317.29 408.38,316.89 407.66,316.55 406.92,316.29 406.17,316.10 405.40,315.99 404.62,315.95 403.85,315.99 403.08,316.10 402.33,316.29 401.59,316.55 400.87,316.89 400.18,317.29 399.53,317.77 398.92,318.30 398.34,318.89 397.82,319.54 397.35,320.23 396.93,320.97 396.58,321.75 396.28,322.56 396.05,323.40 395.88,324.25 395.78,325.12 395.74,326.00 395.78,326.88 395.88,327.75 396.05,328.60 396.28,329.44 396.58,330.25 396.93,331.03 397.35,331.77 397.82,332.46 398.34,333.11 398.92,333.70 399.53,334.23 400.18,334.71 400.87,335.11 401.59,335.45 402.33,335.71 403.08,335.90 403.85,336.01 404.62,336.05 405.40,336.01 406.17,335.90 406.92,335.71 407.66,335.45 408.38,335.11 409.06,334.71 409.72,334.23 410.33,333.70 410.90,333.11 411.43,332.46 411.90,331.77 412.31,331.03 412.67,330.25 412.97,329.44 413.20,328.60 413.37,327.75 413.47,326.88 413.50,326.00"/><polygon points="462.93,326.00 462.89,325.12 462.79,324.25 462.62,323.40 462.39,322.56 462.09,321.75 461.74,320.97 461.32,320.23 460.85,319.54 460.33,318.89 459.75,318.30 459.14,317.77 458.49,317.29 457.80,316.89 457.08,316.55 456.35,316.29 455.59,316.10 454.82,315.99 454.05,315.95 453.27,315.99 452.51,316.10 451.75,316.29 451.01,316.55 450.29,316.89 449.61,317.29 448.95,317.77 448.34,318.30 447.77,318.89 447.24,319.54 446.77,320.23 446.36,320.97 446.00,321.75 445.70,322.56 445.47,323.40 445.30,324.25 445.20,325.12 445.17,326.00 445.20,326.88 445.30,327.75 445.47,328.60 445.70,329.44 446.00,330.25 446.36,331.03 446.77,331.77 447.24,332.46 447.77,333.11 448.34,333.70 448.95,334.23 449.61,334.71 450.29,335.11 451.01,335.45 451.75,335.71 452.51,335.90 453.27,336.01 454.05,336.05 454.82,336.01 455.59,335.90 456.35,335.71 457.08,335.45 457.80,335.11 458.49,334.71 459.14,334.23 459.75,333.70 460.33,333.11 460.85,332.46 461.32,331.77 461.74,331.03 462.09,330.25 462.39,329.44 462.62,328.60 462.79,327.75 462.89,326.88 462.93,326.00"/><polygon points="512.35,326.00 512.32,325.12 512.22,324.25 512.05,323.40 511.81,322.56 511.52,321.75 511.16,320.97 510.74,320.23 510.27,319.54 509.75,318.89 509.18,318.30 508.56,317.77 507.91,317.29 507.22,316.89 506.51,316.55 505.77,316.29 505.01,316.10 504.24,315.99 503.47,315.95 502.70,315.99 501.93,316.10 501.17,316.29 500.43,316.55 499.72,316.89 499.03,317.29 498.38,317.77 497.76,318.30 497.19,318.89 496.67,319.54 496.20,320.23 495.78,320.97 495.42,321.75 495.13,322.56 494.89,323.40 494.73,324.25 494.62,325.12 494.59,326.00 494.62,326.88 494.73,327.75 494.89,328.60 495.13,329.44 495.42,330.25 495.78,331.03 496.20,331.77 496.67,332.46 497.19,333.11 497.76,333.70 498.38,334.23 499.03,334.71 499.72,335.11 500.43,335.45 501.17,335.71 501.93,335.90 502.70,336.01 503.47,336.05 504.24,336.01 505.01,335.90 505.77,335.71 506.51,335.45 507.22,335.11 507.91,334.71 508.56,334.23 509.18,333.70 509.75,333.11 510.27,332.46 510.74,331.77 511.16,331.03 511.52,330.25 511.81,329.44 512.05,328.60 512.22,327.75 512.32,326.88 512.35,326.00"/><polygon points="561.77,326.00 561.74,325.12 561.64,324.25 561.47,323.40 561.24,322.56 560.94,321.75 560.58,320.97 560.17,320.23 559.70,319.54 559.17,318.89 558.60,318.30 557.99,317.77 557.33,317.29 556.65,316.89 555.93,316.55 555.19,316.29 554.44,316.10 553.67,315.99 552.89,315.95 552.12,315.99 551.35,316.10 550.60,316.29 549.86,316.55 549.14,316.89 548.45,317.29 547.80,317.77 547.19,318.30 546.62,318.89 546.09,319.54 545.62,320.23 545.20,320.97 544.85,321.75 544.55,322.56 544.32,323.40 544.15,324.25 544.05,325.12 544.01,326.00 544.05,326.88 544.15,327.75 544.32,328.60 544.55,329.44 544.85,330.25 545.20,331.03 545.62,331.77 546.09,332.46 546.62,333.11 547.19,333.70 547.80,334.23 548.45,334.71 549.14,335.11 549.86,335.45 550.60,335.71 551.35,335.90 552.12,336.01 552.89,336.05 553.67,336.01 554.44,335.90 555.19,335.71 555.93,335.45 556.65,335.11 557.33,334.71 557.99,334.23 558.60,333.70 559.17,333.11 559.70,332.46 560.17,331.77 560.58,331.03 560.94,330.25 561.24,329.44 561.47,328.60 561.64,327.75 561.74,326.88 561.77,326.00"/><polygon points="611.20,326.00 611.16,325.12 611.06,324.25 610.89,323.40 610.66,322.56 610.37,321.75 610.01,320.97 609.59,320.23 609.12,319.54 608.60,318.89 608.03,318.30 607.41,317.77 606.76,317.29 606.07,316.89 605.35,316.55 604.62,316.29 603.86,316.10 603.09,315.99 602.32,315.95 601.54,315.99 600.78,316.10 600.02,316.29 599.28,316.55 598.56,316.89 597.88,317.29 597.22,317.77 596.61,318.30 596.04,318.89 595.52,319.54 595.04,320.23 594.63,320.97 594.27,321.75 593.97,322.56 593.74,323.40 593.57,324.25 593.47,325.12 593.44,326.00 593.47,326.88 593.57,327.75 593.74,328.60 593.97,329.44 594.27,330.25 594.63,331.03 595.04,331.77 595.52,332.46 596.04,333.11 596.61,333.70 597.22,334.23 597.88,334.71 598.56,335.11 599.28,335.45 600.02,335.71 600.78,335.90 601.54,336.01 602.32,336.05 603.09,336.01 603.86,335.90 604.62,335.71 605.35,335.45 606.07,335.11 606.76,334.71 607.41,334.23 608.03,333.70 608.60,333.11 609.12,332.46 609.59,331.77 610.01,331.03 610.37,330.25 610.66,329.44 610.89,328.60 611.06,327.75 611.16,326.88 611.20,326.00"/><polygon points="127.81,270.05 128.13,269.17 128.37,268.30 128.53,267.45 128.61,266.61 128.61,265.80 128.52,265.02 128.36,264.28 128.12,263.59 127.80,262.94 127.41,262.35 126.94,261.81 126.41,261.34 125.81,260.94 125.15,260.60 124.44,260.34 123.68,260.15 122.87,260.03 122.03,260.00 121.16,260.03 120.26,260.15 119.34,260.34 118.42,260.60 117.49,260.94 116.56,261.34 115.65,261.81 114.75,262.35 113.88,262.94 113.04,263.59 112.24,264.28 111.47,265.02 110.76,265.80 110.11,266.61 109.51,267.45 108.98,268.30 108.52,269.17 108.12,270.05 107.81,270.93 107.57,271.80 107.41,272.65 107.33,273.49 107.33,274.30 107.41,275.08 107.57,275.82 107.82,276.51 108.13,277.16 108.53,277.75 108.99,278.29 109.53,278.76 110.12,279.16 110.78,279.50 111.49,279.76 112.26,279.95 113.06,280.07 113.90,280.10 114.78,280.07 115.67,279.95 116.59,279.76 117.52,279.50 118.44,279.16 119.37,278.76 120.28,278.29 121.18,277.75 122.05,277.16 122.90,276.51 123.70,275.82 124.46,275.08 125.17,274.30 125.83,273.49 126.42,272.65 126.96,271.80 127.42,270.93 127.81,270.05"/><polygon points="175.26,270.05 175.50,269.17 175.67,268.30 175.76,267.45 175.78,266.61 175.71,265.80 175.56,265.02 175.34,264.28 175.04,263.59 174.67,262.94 174.23,262.35 173.72,261.81 173.15,261.34 172.52,260.94 171.84,260.60 171.10,260.34 170.32,260.15 169.51,260.03 168.66,260.00 167.79,260.03 166.91,260.15 166.01,260.34 165.10,260.60 164.20,260.94 163.31,261.34 162.43,261.81 161.58,262.35 160.75,262.94 159.96,263.59 159.22,264.28 158.51,265.02 157.87,265.80 157.28,266.61 156.75,267.45 156.28,268.30 155.89,269.17 155.57,270.05 155.32,270.93 155.16,271.80 155.06,272.65 155.05,273.49 155.12,274.30 155.26,275.08 155.49,275.82 155.78,276.51 156.15,277.16 156.60,277.75 157.11,278.29 157.68,278.76 158.31,279.16 158.99,279.50 159.73,279.76 160.50,279.95 161.32,280.07 162.16,280.10 163.03,280.07 163.92,279.95 164.82,279.76 165.73,279.50 166.63,279.16 167.52,278.76 168.40,278.29 169.25,277.75 170.08,277.16 170.86,276.51 171.61,275.82 172.31,275.08 172.96,274.30 173.55,273.49 174.08,272.65 174.54,271.80 174.94,270.93 175.26,270.05"/><polygon points="222.70,270.05 222.88,269.17 222.98,268.30 223.00,267.45 222.94,266.61 222.81,265.80 222.60,265.02 222.32,264.28 221.97,263.59 221.54,262.94 221.06,262.35 220.50,261.81 219.89,261.34 219.23,260.94 218.52,260.60 217.76,260.34 216.97,260.15 216.15,260.03 215.30,260.00 214.43,260.03 213.55,260.15 212.67,260.34 211.78,260.60 210.91,260.94 210.05,261.34 209.21,261.81 208.40,262.35 207.62,262.94 206.89,263.59 206.20,264.28 205.56,265.02 204.97,265.80 204.44,266.61 203.98,267.45 203.59,268.30 203.27,269.17 203.02,270.05 202.84,270.93 202.74,271.80 202.72,272.65 202.78,273.49 202.91,274.30 203.12,275.08 203.40,275.82 203.75,276.51 204.18,277.16 204.67,277.75 205.22,278.29 205.83,278.76 206.49,279.16 207.20,279.50 207.96,279.76 208.75,279.95 209.57,280.07 210.42,280.10 211.29,280.07 212.17,279.95 213.05,279.76 213.94,279.50 214.81,279.16 215.67,278.76 216.51,278.29 217.32,277.75 218.10,277.16 218.83,276.51 219.52,275.82 220.17,275.08 220.75,274.30 221.28,273.49 221.74,272.65 222.13,271.80 222.45,270.93 222.70,270.05"/><polygon points="270.15,270.05 270.25,269.17 270.28,268.30 270.24,267.45 270.11,266.61 269.91,265.80 269.64,265.02 269.30,264.28 268.89,263.59 268.42,262.94 267.88,262.35 267.28,261.81 266.64,261.34 265.94,260.94 265.20,260.60 264.42,260.34 263.62,260.15 262.78,260.03 261.93,260.00 261.07,260.03 260.20,260.15 259.33,260.34 258.47,260.60 257.62,260.94 256.79,261.34 255.99,261.81 255.23,262.35 254.50,262.94 253.81,263.59 253.18,264.28 252.60,265.02 252.07,265.80 251.61,266.61 251.22,267.45 250.90,268.30 250.64,269.17 250.46,270.05 250.36,270.93 250.33,271.80 250.38,272.65 250.50,273.49 250.70,274.30 250.97,275.08 251.31,275.82 251.72,276.51 252.20,277.16 252.73,277.75 253.33,278.29 253.98,278.76 254.67,279.16 255.41,279.50 256.19,279.76 257.00,279.95 257.83,280.07 258.68,280.10 259.55,280.07 260.42,279.95 261.28,279.76 262.15,279.50 262.99,279.16 263.82,278.76 264.62,278.29 265.39,277.75 266.12,277.16 266.80,276.51 267.44,275.82 268.02,275.08 268.54,274.30 269.00,273.49 269.39,272.65 269.72,271.80 269.97,270.93 270.15,270.05"/><polygon points="317.60,270.05 317.63,269.17 317.59,268.30 317.47,267.45 317.28,266.61 317.02,265.80 316.68,265.02 316.28,264.28 315.82,263.59 315.29,262.94 314.70,262.35 314.06,261.81 313.38,261.34 312.65,260.94 311.88,260.60 311.09,260.34 310.26,260.15 309.42,260.03 308.57,260.00 307.71,260.03 306.84,260.15 305.99,260.34 305.15,260.60 304.33,260.94 303.54,261.34 302.77,261.81 302.05,262.35 301.37,262.94 300.74,263.59 300.16,264.28 299.64,265.02 299.18,265.80 298.78,266.61 298.46,267.45 298.20,268.30 298.02,269.17 297.91,270.05 297.88,270.93 297.92,271.80 298.04,272.65 298.23,273.49 298.49,274.30 298.82,275.08 299.22,275.82 299.69,276.51 300.22,277.16 300.80,277.75 301.44,278.29 302.13,278.76 302.86,279.16 303.62,279.50 304.42,279.76 305.24,279.95 306.09,280.07 306.94,280.10 307.80,280.07 308.66,279.95 309.52,279.76 310.36,279.50 311.18,279.16 311.97,278.76 312.73,278.29 313.46,277.75 314.14,277.16 314.77,276.51 315.35,275.82 315.87,275.08 316.33,274.30 316.72,273.49 317.05,272.65 317.31,271.80 317.49,270.93 317.60,270.05"/><polygon points="365.04,270.05 365.01,269.17 364.89,268.30 364.71,267.45 364.45,266.61 364.12,265.80 363.72,265.02 363.26,264.28 362.74,263.59 362.16,262.94 361.53,262.35 360.85,261.81 360.12,261.34 359.36,260.94 358.57,260.60 357.75,260.34 356.91,260.15 356.06,260.03 355.20,260.00 354.34,260.03 353.49,260.15 352.65,260.34 351.83,260.60 351.04,260.94 350.28,261.34 349.55,261.81 348.87,262.35 348.24,262.94 347.66,263.59 347.14,264.28 346.68,265.02 346.28,265.80 345.95,266.61 345.69,267.45 345.51,268.30 345.39,269.17 345.36,270.05 345.39,270.93 345.51,271.80 345.69,272.65 345.95,273.49 346.28,274.30 346.68,275.08 347.14,275.82 347.66,276.51 348.24,277.16 348.87,277.75 349.55,278.29 350.28,278.76 351.04,279.16 351.83,279.50 352.65,279.76 353.49,279.95 354.34,280.07 355.20,280.10 356.06,280.07 356.91,279.95 357.75,279.76 358.57,279.50 359.36,279.16 360.12,278.76 360.85,278.29 361.53,277.75 362.16,277.16 362.74,276.51 363.26,275.82 363.72,275.08 364.12,274.30 364.45,273.49 364.71,272.65 364.89,271.80 365.01,270.93 365.04,270.05"/><polygon points="412.49,270.05 412.38,269.17 412.20,268.30 411.94,267.45 411.62,266.61 411.22,265.80 410.76,265.02 410.24,264.28 409.66,263.59 409.03,262.94 408.35,262.35 407.63,261.81 406.86,261.34 406.07,260.94 405.25,260.60 404.41,260.34 403.56,260.15 402.69,260.03 401.83,260.00 400.98,260.03 400.14,260.15 399.31,260.34 398.52,260.60 397.75,260.94 397.02,261.34 396.34,261.81 395.70,262.35 395.11,262.94 394.58,263.59 394.12,264.28 393.72,265.02 393.38,265.80 393.12,266.61 392.93,267.45 392.81,268.30 392.77,269.17 392.80,270.05 392.91,270.93 393.09,271.80 393.35,272.65 393.68,273.49 394.07,274.30 394.53,275.08 395.05,275.82 395.63,276.51 396.26,277.16 396.94,277.75 397.67,278.29 398.43,278.76 399.22,279.16 400.04,279.50 400.88,279.76 401.74,279.95 402.60,280.07 403.46,280.10 404.31,280.07 405.16,279.95 405.98,279.76 406.78,279.50 407.54,279.16 408.27,278.76 408.96,278.29 409.60,277.75 410.18,277.16 410.71,276.51 411.18,275.82 411.58,275.08 411.91,274.30 412.17,273.49 412.36,272.65 412.48,271.80 412.52,270.93 412.49,270.05"/><polygon points="459.94,270.05 459.76,269.17 459.50,268.30 459.18,267.45 458.79,266.61 458.33,265.80 457.80,265.02 457.22,264.28 456.59,263.59 455.90,262.94 455.17,262.35 454.41,261.81 453.61,261.34 452.78,260.94 451.93,260.60 451.07,260.34 450.20,260.15 449.33,260.03 448.47,260.00 447.62,260.03 446.78,260.15 445.98,260.34 445.20,260.60 444.46,260.94 443.76,261.34 443.12,261.81 442.52,262.35 441.98,262.94 441.51,263.59 441.10,264.28 440.76,265.02 440.49,265.80 440.29,266.61 440.16,267.45 440.12,268.30 440.15,269.17 440.25,270.05 440.43,270.93 440.68,271.80 441.01,272.65 441.40,273.49 441.86,274.30 442.38,275.08 442.96,275.82 443.60,276.51 444.28,277.16 445.01,277.75 445.78,278.29 446.58,278.76 447.41,279.16 448.25,279.50 449.12,279.76 449.98,279.95 450.85,280.07 451.72,280.10 452.57,280.07 453.40,279.95 454.21,279.76 454.99,279.50 455.73,279.16 456.42,278.76 457.07,278.29 457.67,277.75 458.20,277.16 458.68,276.51 459.09,275.82 459.43,275.08 459.70,274.30 459.90,273.49 460.02,272.65 460.07,271.80 460.04,270.93 459.94,270.05"/><polygon points="507.38,270.05 507.13,269.17 506.81,268.30 506.42,267.45 505.96,266.61 505.43,265.80 504.84,265.02 504.20,264.28 503.51,263.59 502.78,262.94 502.00,262.35 501.19,261.81 500.35,261.34 499.49,260.94 498.62,260.60 497.73,260.34 496.85,260.15 495.97,260.03 495.10,260.00 494.25,260.03 493.43,260.15 492.64,260.34 491.88,260.60 491.17,260.94 490.51,261.34 489.90,261.81 489.34,262.35 488.86,262.94 488.43,263.59 488.08,264.28 487.80,265.02 487.59,265.80 487.46,266.61 487.40,267.45 487.42,268.30 487.52,269.17 487.70,270.05 487.95,270.93 488.27,271.80 488.66,272.65 489.12,273.49 489.65,274.30 490.23,275.08 490.88,275.82 491.57,276.51 492.30,277.16 493.08,277.75 493.89,278.29 494.73,278.76 495.59,279.16 496.46,279.50 497.35,279.76 498.23,279.95 499.11,280.07 499.98,280.10 500.83,280.07 501.65,279.95 502.44,279.76 503.20,279.50 503.91,279.16 504.57,278.76 505.18,278.29 505.73,277.75 506.22,277.16 506.65,276.51 507.00,275.82 507.28,275.08 507.49,274.30 507.62,273.49 507.68,272.65 507.66,271.80 507.56,270.93 507.38,270.05"/><polygon points="554.83,270.05 554.51,269.17 554.12,268.30 553.65,267.45 553.12,266.61 552.53,265.80 551.89,265.02 551.18,264.28 550.44,263.59 549.65,262.94 548.82,262.35 547.97,261.81 547.09,261.34 546.20,260.94 545.30,260.60 544.39,260.34 543.49,260.15 542.61,260.03 541.74,260.00 540.89,260.03 540.08,260.15 539.30,260.34 538.56,260.60 537.88,260.94 537.25,261.34 536.68,261.81 536.17,262.35 535.73,262.94 535.36,263.59 535.06,264.28 534.84,265.02 534.69,265.80 534.62,266.61 534.64,267.45 534.73,268.30 534.90,269.17 535.14,270.05 535.46,270.93 535.86,271.80 536.32,272.65 536.85,273.49 537.44,274.30 538.09,275.08 538.79,275.82 539.54,276.51 540.32,277.16 541.15,277.75 542.00,278.29 542.88,278.76 543.77,279.16 544.67,279.50 545.58,279.76 546.48,279.95 547.37,280.07 548.24,280.10 549.08,280.07 549.90,279.95 550.67,279.76 551.41,279.50 552.09,279.16 552.72,278.76 553.29,278.29 553.80,277.75 554.25,277.16 554.62,276.51 554.91,275.82 555.14,275.08 555.28,274.30 555.35,273.49 555.34,272.65 555.24,271.80 555.08,270.93 554.83,270.05"/><polygon points="602.28,270.05 601.88,269.17 601.42,268.30 600.89,267.45 600.29,266.61 599.64,265.80 598.93,265.02 598.16,264.28 597.36,263.59 596.52,262.94 595.65,262.35 594.75,261.81 593.84,261.34 592.91,260.94 591.98,260.60 591.06,260.34 590.14,260.15 589.24,260.03 588.37,260.00 587.53,260.03 586.72,260.15 585.96,260.34 585.25,260.60 584.59,260.94 583.99,261.34 583.46,261.81 582.99,262.35 582.60,262.94 582.28,263.59 582.04,264.28 581.88,265.02 581.79,265.80 581.79,266.61 581.87,267.45 582.03,268.30 582.27,269.17 582.59,270.05 582.98,270.93 583.44,271.80 583.98,272.65 584.57,273.49 585.23,274.30 585.94,275.08 586.70,275.82 587.50,276.51 588.35,277.16 589.22,277.75 590.12,278.29 591.03,278.76 591.96,279.16 592.88,279.50 593.81,279.76 594.73,279.95 595.62,280.07 596.50,280.10 597.34,280.07 598.14,279.95 598.91,279.76 599.62,279.50 600.28,279.16 600.87,278.76 601.41,278.29 601.87,277.75 602.27,277.16 602.58,276.51 602.83,275.82 602.99,275.08 603.07,274.30 603.07,273.49 602.99,272.65 602.83,271.80 602.59,270.93 602.28,270.05"/><polygon points="172.03,215.51 172.86,214.71 173.57,213.92 174.16,213.13 174.62,212.37 174.96,211.62 175.16,210.91 175.24,210.24 175.18,209.60 174.99,209.01 174.68,208.46 174.23,207.98 173.66,207.54 172.96,207.17 172.16,206.87 171.24,206.62 170.22,206.45 169.11,206.35 167.91,206.31 166.64,206.35 165.30,206.45 163.90,206.62 162.46,206.87 160.98,207.17 159.47,207.54 157.96,207.98 156.44,208.46 154.94,209.01 153.45,209.60 152.00,210.24 150.60,210.91 149.25,211.62 147.97,212.37 146.76,213.13 145.63,213.92 144.60,214.71 143.67,215.51 142.85,216.32 142.14,217.11 141.55,217.90 141.08,218.66 140.75,219.40 140.54,220.12 140.46,220.79 140.52,221.43 140.71,222.02 141.03,222.57 141.48,223.05 142.05,223.49 142.74,223.86 143.55,224.16 144.46,224.41 145.48,224.58 146.59,224.68 147.79,224.72 149.07,224.68 150.41,224.58 151.80,224.41 153.25,224.16 154.73,223.86 156.23,223.49 157.75,223.05 159.26,222.57 160.77,222.02 162.25,221.43 163.70,220.79 165.10,220.12 166.45,219.40 167.74,218.66 168.95,217.90 170.07,217.11 171.10,216.32 172.03,215.51"/><polygon points="211.50,215.51 212.15,214.71 212.69,213.92 213.10,213.13 213.40,212.37 213.58,211.62 213.63,210.91 213.56,210.24 213.36,209.60 213.04,209.01 212.60,208.46 212.05,207.98 211.38,207.54 210.61,207.17 209.74,206.87 208.77,206.62 207.71,206.45 206.58,206.35 205.37,206.31 204.10,206.35 202.79,206.45 201.43,206.62 200.03,206.87 198.62,207.17 197.20,207.54 195.78,207.98 194.37,208.46 192.98,209.01 191.63,209.60 190.32,210.24 189.06,210.91 187.87,211.62 186.75,212.37 185.71,213.13 184.75,213.92 183.89,214.71 183.14,215.51 182.49,216.32 181.96,217.11 181.54,217.90 181.24,218.66 181.07,219.40 181.01,220.12 181.09,220.79 181.28,221.43 181.60,222.02 182.04,222.57 182.59,223.05 183.26,223.49 184.03,223.86 184.91,224.16 185.88,224.41 186.93,224.58 188.07,224.68 189.27,224.72 190.54,224.68 191.86,224.58 193.22,224.41 194.61,224.16 196.02,223.86 197.44,223.49 198.86,223.05 200.27,222.57 201.66,222.02 203.01,221.43 204.32,220.79 205.58,220.12 206.77,219.40 207.90,218.66 208.94,217.90 209.89,217.11 210.75,216.32 211.50,215.51"/><polygon points="250.97,215.51 251.45,214.71 251.81,213.92 252.05,213.13 252.18,212.37 252.20,211.62 252.09,210.91 251.87,210.24 251.54,209.60 251.09,209.01 250.53,208.46 249.87,207.98 249.11,207.54 248.26,207.17 247.31,206.87 246.29,206.62 245.20,206.45 244.04,206.35 242.83,206.31 241.57,206.35 240.27,206.45 238.95,206.62 237.61,206.87 236.27,207.17 234.93,207.54 233.60,207.98 232.30,208.46 231.03,209.01 229.81,209.60 228.64,210.24 227.53,210.91 226.49,211.62 225.53,212.37 224.65,213.13 223.87,213.92 223.19,214.71 222.61,215.51 222.14,216.32 221.78,217.11 221.53,217.90 221.40,218.66 221.39,219.40 221.49,220.12 221.71,220.79 222.05,221.43 222.49,222.02 223.05,222.57 223.71,223.05 224.47,223.49 225.33,223.86 226.27,224.16 227.29,224.41 228.38,224.58 229.54,224.68 230.75,224.72 232.01,224.68 233.31,224.58 234.63,224.41 235.97,224.16 237.31,223.86 238.65,223.49 239.98,223.05 241.28,222.57 242.55,222.02 243.78,221.43 244.95,220.79 246.06,220.12 247.09,219.40 248.05,218.66 248.93,217.90 249.71,217.11 250.39,216.32 250.97,215.51"/><polygon points="290.44,215.51 290.74,214.71 290.93,213.92 291.00,213.13 290.96,212.37 290.82,211.62 290.56,210.91 290.19,210.24 289.71,209.60 289.13,209.01 288.46,208.46 287.69,207.98 286.84,207.54 285.90,207.17 284.89,206.87 283.82,206.62 282.69,206.45 281.51,206.35 280.29,206.31 279.03,206.35 277.76,206.45 276.48,206.62 275.19,206.87 273.91,207.17 272.65,207.54 271.42,207.98 270.23,208.46 269.08,209.01 267.98,209.60 266.95,210.24 265.99,210.91 265.11,211.62 264.31,212.37 263.60,213.13 262.99,213.92 262.48,214.71 262.08,215.51 261.78,216.32 261.60,217.11 261.52,217.90 261.56,218.66 261.71,219.40 261.97,220.12 262.34,220.79 262.81,221.43 263.39,222.02 264.06,222.57 264.83,223.05 265.68,223.49 266.62,223.86 267.63,224.16 268.70,224.41 269.83,224.58 271.02,224.68 272.24,224.72 273.49,224.68 274.76,224.58 276.04,224.41 277.33,224.16 278.61,223.86 279.87,223.49 281.10,223.05 282.29,222.57 283.44,222.02 284.54,221.43 285.57,220.79 286.53,220.12 287.41,219.40 288.21,218.66 288.92,217.90 289.53,217.11 290.04,216.32 290.44,215.51"/><polygon points="329.91,215.51 330.03,214.71 330.05,213.92 329.95,213.13 329.75,212.37 329.43,211.62 329.02,210.91 328.50,210.24 327.89,209.60 327.18,209.01 326.39,208.46 325.51,207.98 324.56,207.54 323.55,207.17 322.47,206.87 321.34,206.62 320.17,206.45 318.97,206.35 317.74,206.31 316.50,206.35 315.25,206.45 314.00,206.62 312.77,206.87 311.56,207.17 310.38,207.54 309.24,207.98 308.16,208.46 307.12,209.01 306.16,209.60 305.27,210.24 304.45,210.91 303.73,211.62 303.09,212.37 302.55,213.13 302.11,213.92 301.78,214.71 301.55,215.51 301.43,216.32 301.41,217.11 301.51,217.90 301.72,218.66 302.03,219.40 302.44,220.12 302.96,220.79 303.57,221.43 304.28,222.02 305.07,222.57 305.95,223.05 306.90,223.49 307.91,223.86 308.99,224.16 310.12,224.41 311.29,224.58 312.49,224.68 313.72,224.72 314.96,224.68 316.21,224.58 317.46,224.41 318.69,224.16 319.90,223.86 321.08,223.49 322.22,223.05 323.31,222.57 324.34,222.02 325.30,221.43 326.19,220.79 327.01,220.12 327.73,219.40 328.37,218.66 328.91,217.90 329.35,217.11 329.68,216.32 329.91,215.51"/><polygon points="369.38,215.51 369.33,214.71 369.17,213.92 368.90,213.13 368.53,212.37 368.05,211.62 367.48,210.91 366.82,210.24 366.06,209.60 365.23,209.01 364.32,208.46 363.33,207.98 362.29,207.54 361.19,207.17 360.05,206.87 358.87,206.62 357.66,206.45 356.44,206.35 355.20,206.31 353.96,206.35 352.74,206.45 351.53,206.62 350.35,206.87 349.21,207.17 348.11,207.54 347.07,207.98 346.08,208.46 345.17,209.01 344.34,209.60 343.58,210.24 342.92,210.91 342.35,211.62 341.87,212.37 341.50,213.13 341.23,213.92 341.07,214.71 341.02,215.51 341.07,216.32 341.23,217.11 341.50,217.90 341.87,218.66 342.35,219.40 342.92,220.12 343.58,220.79 344.34,221.43 345.17,222.02 346.08,222.57 347.07,223.05 348.11,223.49 349.21,223.86 350.35,224.16 351.53,224.41 352.74,224.58 353.96,224.68 355.20,224.72 356.44,224.68 357.66,224.58 358.87,224.41 360.05,224.16 361.19,223.86 362.29,223.49 363.33,223.05 364.32,222.57 365.23,222.02 366.06,221.43 366.82,220.79 367.48,220.12 368.05,219.40 368.53,218.66 368.90,217.90 369.17,217.11 369.33,216.32 369.38,215.51"/><polygon points="408.85,215.51 408.62,214.71 408.29,213.92 407.85,213.13 407.31,212.37 406.67,211.62 405.95,210.91 405.13,210.24 404.24,209.60 403.28,209.01 402.24,208.46 401.16,207.98 400.02,207.54 398.84,207.17 397.63,206.87 396.40,206.62 395.15,206.45 393.90,206.35 392.66,206.31 391.43,206.35 390.23,206.45 389.06,206.62 387.93,206.87 386.85,207.17 385.84,207.54 384.89,207.98 384.01,208.46 383.22,209.01 382.51,209.60 381.90,210.24 381.38,210.91 380.97,211.62 380.65,212.37 380.45,213.13 380.35,213.92 380.37,214.71 380.49,215.51 380.72,216.32 381.05,217.11 381.49,217.90 382.03,218.66 382.67,219.40 383.39,220.12 384.21,220.79 385.10,221.43 386.06,222.02 387.09,222.57 388.18,223.05 389.32,223.49 390.50,223.86 391.71,224.16 392.94,224.41 394.19,224.58 395.44,224.68 396.68,224.72 397.91,224.68 399.11,224.58 400.28,224.41 401.41,224.16 402.49,223.86 403.50,223.49 404.45,223.05 405.33,222.57 406.12,222.02 406.83,221.43 407.44,220.79 407.96,220.12 408.37,219.40 408.68,218.66 408.89,217.90 408.99,217.11 408.97,216.32 408.85,215.51"/><polygon points="448.32,215.51 447.92,214.71 447.41,213.92 446.80,213.13 446.09,212.37 445.29,211.62 444.41,210.91 443.45,210.24 442.42,209.60 441.32,209.01 440.17,208.46 438.98,207.98 437.75,207.54 436.49,207.17 435.21,206.87 433.92,206.62 432.64,206.45 431.37,206.35 430.11,206.31 428.89,206.35 427.71,206.45 426.58,206.62 425.51,206.87 424.50,207.17 423.56,207.54 422.71,207.98 421.94,208.46 421.27,209.01 420.69,209.60 420.21,210.24 419.84,210.91 419.58,211.62 419.44,212.37 419.40,213.13 419.47,213.92 419.66,214.71 419.96,215.51 420.36,216.32 420.87,217.11 421.48,217.90 422.19,218.66 422.99,219.40 423.87,220.12 424.83,220.79 425.86,221.43 426.96,222.02 428.11,222.57 429.30,223.05 430.53,223.49 431.79,223.86 433.07,224.16 434.36,224.41 435.64,224.58 436.91,224.68 438.16,224.72 439.38,224.68 440.57,224.58 441.70,224.41 442.77,224.16 443.78,223.86 444.72,223.49 445.57,223.05 446.34,222.57 447.01,222.02 447.59,221.43 448.06,220.79 448.43,220.12 448.69,219.40 448.84,218.66 448.88,217.90 448.80,217.11 448.62,216.32 448.32,215.51"/><polygon points="487.79,215.51 487.21,214.71 486.53,213.92 485.75,213.13 484.87,212.37 483.91,211.62 482.87,210.91 481.76,210.24 480.59,209.60 479.37,209.01 478.10,208.46 476.80,207.98 475.47,207.54 474.13,207.17 472.79,206.87 471.45,206.62 470.13,206.45 468.83,206.35 467.57,206.31 466.36,206.35 465.20,206.45 464.11,206.62 463.09,206.87 462.14,207.17 461.29,207.54 460.53,207.98 459.87,208.46 459.31,209.01 458.86,209.60 458.53,210.24 458.31,210.91 458.20,211.62 458.22,212.37 458.35,213.13 458.59,213.92 458.95,214.71 459.43,215.51 460.01,216.32 460.69,217.11 461.47,217.90 462.35,218.66 463.31,219.40 464.34,220.12 465.45,220.79 466.62,221.43 467.85,222.02 469.12,222.57 470.42,223.05 471.75,223.49 473.09,223.86 474.43,224.16 475.77,224.41 477.09,224.58 478.39,224.68 479.65,224.72 480.86,224.68 482.02,224.58 483.11,224.41 484.13,224.16 485.07,223.86 485.93,223.49 486.69,223.05 487.35,222.57 487.91,222.02 488.35,221.43 488.69,220.79 488.91,220.12 489.01,219.40 489.00,218.66 488.87,217.90 488.62,217.11 488.26,216.32 487.79,215.51"/><polygon points="527.26,215.51 526.51,214.71 525.65,213.92 524.69,213.13 523.65,212.37 522.53,211.62 521.34,210.91 520.08,210.24 518.77,209.60 517.42,209.01 516.03,208.46 514.62,207.98 513.20,207.54 511.78,207.17 510.37,206.87 508.97,206.62 507.61,206.45 506.30,206.35 505.03,206.31 503.82,206.35 502.69,206.45 501.63,206.62 500.66,206.87 499.79,207.17 499.02,207.54 498.35,207.98 497.80,208.46 497.36,209.01 497.04,209.60 496.84,210.24 496.77,210.91 496.82,211.62 497.00,212.37 497.30,213.13 497.71,213.92 498.25,214.71 498.90,215.51 499.65,216.32 500.51,217.11 501.46,217.90 502.50,218.66 503.63,219.40 504.82,220.12 506.08,220.79 507.39,221.43 508.74,222.02 510.13,222.57 511.54,223.05 512.96,223.49 514.38,223.86 515.79,224.16 517.18,224.41 518.54,224.58 519.86,224.68 521.13,224.72 522.33,224.68 523.47,224.58 524.52,224.41 525.49,224.16 526.37,223.86 527.14,223.49 527.81,223.05 528.36,222.57 528.80,222.02 529.12,221.43 529.31,220.79 529.39,220.12 529.33,219.40 529.16,218.66 528.86,217.90 528.44,217.11 527.91,216.32 527.26,215.51"/><polygon points="566.73,215.51 565.80,214.71 564.77,213.92 563.64,213.13 562.43,212.37 561.15,211.62 559.80,210.91 558.40,210.24 556.95,209.60 555.46,209.01 553.96,208.46 552.44,207.98 550.93,207.54 549.42,207.17 547.94,206.87 546.50,206.62 545.10,206.45 543.76,206.35 542.49,206.31 541.29,206.35 540.18,206.45 539.16,206.62 538.24,206.87 537.44,207.17 536.74,207.54 536.17,207.98 535.72,208.46 535.41,209.01 535.22,209.60 535.16,210.24 535.24,210.91 535.44,211.62 535.78,212.37 536.24,213.13 536.83,213.92 537.54,214.71 538.37,215.51 539.30,216.32 540.33,217.11 541.45,217.90 542.66,218.66 543.95,219.40 545.30,220.12 546.70,220.79 548.15,221.43 549.63,222.02 551.14,222.57 552.65,223.05 554.17,223.49 555.67,223.86 557.15,224.16 558.60,224.41 559.99,224.58 561.33,224.68 562.61,224.72 563.81,224.68 564.92,224.58 565.94,224.41 566.85,224.16 567.66,223.86 568.35,223.49 568.92,223.05 569.37,222.57 569.69,222.02 569.88,221.43 569.94,220.79 569.86,220.12 569.65,219.40 569.32,218.66 568.85,217.90 568.26,217.11 567.55,216.32 566.73,215.51"/></g>
<g stroke="#ff0000" stroke-width="1.5" stroke-linecap="round"><line x1="143.67" y1="436.49" x2="172.03" y2="436.49"/><line x1="183.14" y1="436.49" x2="211.50" y2="436.49"/><line x1="222.61" y1="436.49" x2="250.97" y2="436.49"/><line x1="262.08" y1="436.49" x2="290.44" y2="436.49"/><line x1="301.55" y1="436.49" x2="329.91" y2="436.49"/><line x1="341.02" y1="436.49" x2="369.38" y2="436.49"/><line x1="380.49" y1="436.49" x2="408.85" y2="436.49"/><line x1="419.96" y1="436.49" x2="448.32" y2="436.49"/><line x1="459.43" y1="436.49" x2="487.79" y2="436.49"/><line x1="498.90" y1="436.49" x2="527.26" y2="436.49"/><line x1="538.37" y1="436.49" x2="566.73" y2="436.49"/><line x1="108.12" y1="381.95" x2="127.81" y2="381.95"/><line x1="155.57" y1="381.95" x2="175.26" y2="381.95"/><line x1="203.02" y1="381.95" x2="222.70" y2="381.95"/><line x1="250.46" y1="381.95" x2="270.15" y2="381.95"/><line x1="297.91" y1="381.95" x2="317.60" y2="381.95"/><line x1="345.36" y1="381.95" x2="365.04" y2="381.95"/><line x1="392.80" y1="381.95" x2="412.49" y2="381.95"/><line x1="440.25" y1="381.95" x2="459.94" y2="381.95"/><line x1="487.70" y1="381.95" x2="507.38" y2="381.95"/><line x1="535.14" y1="381.95" x2="554.83" y2="381.95"/><line x1="582.59" y1="381.95" x2="602.28" y2="381.95"/><line x1="99.20" y1="326.00" x2="116.96" y2="326.00"/><line x1="148.63" y1="326.00" x2="166.39" y2="326.00"/><line x1="198.05" y1="326.00" x2="215.81" y2="326.00"/><line x1="247.47" y1="326.00" x2="265.23" y2="326.00"/><line x1="296.90" y1="326.00" x2="314.66" y2="326.00"/><line x1="346.32" y1="326.00" x2="364.08" y2="326.00"/><line x1="395.74" y1="326.00" x2="413.50" y2="326.00"/><line x1="445.17" y1="326.00" x2="462.93" y2="326.00"/><line x1="494.59" y1="326.00" x2="512.35" y2="326.00"/><line x1="544.01" y1="326.00" x2="561.77" y2="326.00"/><line x1="593.44" y1="326.00" x2="611.20" y2="326.00"/><line x1="108.12" y1="270.05" x2="127.81" y2="270.05"/><line x1="155.57" y1="270.05" x2="175.26" y2="270.05"/><line x1="203.02" y1="270.05" x2="222.70" y2="270.05"/><line x1="250.46" y1="270.05" x2="270.15" y2="270.05"/><line x1="297.91" y1="270.05" x2="317.60" y2="270.05"/><line x1="345.36" y1="270.05" x2="365.04" y2="270.05"/><line x1="392.80" y1="270.05" x2="412.49" y2="270.05"/><line x1="440.25" y1="270.05" x2="459.94" y2="270.05"/><line x1="487.70" y1="270.05" x2="507.38" y2="270.05"/><line x1="535.14" y1="270.05" x2="554.83" y2="270.05"/><line x1="582.59" y1="270.05" x2="602.28" y2="270.05"/><line x1="143.67" y1="215.51" x2="172.03" y2="215.51"/><line x1="183.14" y1="215.51" x2="211.50" y2="215.51"/><line x1="222.61" y1="215.51" x2="250.97" y2="215.51"/><line x1="262.08" y1="215.51" x2="290.44" y2="215.51"/><line x1="301.55" y1="215.51" x2="329.91" y2="215.51"/><line x1="341.02" y1="215.51" x2="369.38" y2="215.51"/><line x1="380.49" y1="215.51" x2="408.85" y2="215.51"/><line x1="419.96" y1="215.51" x2="448.32" y2="215.51"/><line x1="459.43" y1="215.51" x2="487.79" y2="215.51"/><line x1="498.90" y1="215.51" x2="527.26" y2="215.51"/><line x1="538.37" y1="215.51" x2="566.73" y2="215.51"/></g>
<g stroke="#0000ff" stroke-width="1.5" stroke-linecap="round"><line x1="167.22" y1="446.39" x2="148.48" y2="426.58"/><line x1="204.82" y1="446.39" x2="189.82" y2="426.58"/><line x1="242.41" y1="446.39" x2="231.17" y2="426.58"/><line x1="280.01" y1="446.39" x2="272.51" y2="426.58"/><line x1="317.60" y1="446.39" x2="313.86" y2="426.58"/><line x1="355.20" y1="446.39" x2="355.20" y2="426.58"/><line x1="392.80" y1="446.39" x2="396.54" y2="426.58"/><line x1="430.39" y1="446.39" x2="437.89" y2="426.58"/><line x1="467.99" y1="446.39" x2="479.23" y2="426.58"/><line x1="505.58" y1="446.39" x2="520.58" y2="426.58"/><line x1="543.18" y1="446.39" x2="561.92" y2="426.58"/><line x1="122.38" y1="393.46" x2="113.55" y2="370.44"/><line x1="168.95" y1="393.46" x2="161.88" y2="370.44"/><line x1="215.51" y1="393.46" x2="210.21" y2="370.44"/><line x1="262.07" y1="393.46" x2="258.54" y2="370.44"/><line x1="308.64" y1="393.46" x2="306.87" y2="370.44"/><line x1="355.20" y1="393.46" x2="355.20" y2="370.44"/><line x1="401.76" y1="393.46" x2="403.53" y2="370.44"/><line x1="448.33" y1="393.46" x2="451.86" y2="370.44"/><line x1="494.89" y1="393.46" x2="500.19" y2="370.44"/><line x1="541.45" y1="393.46" x2="548.52" y2="370.44"/><line x1="588.02" y1="393.46" x2="596.85" y2="370.44"/><line x1="108.08" y1="336.05" x2="108.08" y2="315.95"/><line x1="157.51" y1="336.05" x2="157.51" y2="315.95"/><line x1="206.93" y1="336.05" x2="206.93" y2="315.95"/><line x1="256.35" y1="336.05" x2="256.35" y2="315.95"/><line x1="305.78" y1="336.05" x2="305.78" y2="315.95"/><line x1="355.20" y1="336.05" x2="355.20" y2="315.95"/><line x1="404.62" y1="336.05" x2="404.62" y2="315.95"/><line x1="454.05" y1="336.05" x2="454.05" y2="315.95"/><line x1="503.47" y1="336.05" x2="503.47" y2="315.95"/><line x1="552.89" y1="336.05" x2="552.89" y2="315.95"/><line x1="602.32" y1="336.05" x2="602.32" y2="315.95"/><line x1="113.90" y1="280.10" x2="122.03" y2="260.00"/><line x1="162.16" y1="280.10" x2="168.66" y2="260.00"/><line x1="210.42" y1="280.10" x2="215.30" y2="260.00"/><line x1="258.68" y1="280.10" x2="261.93" y2="260.00"/><line x1="306.94" y1="280.10" x2="308.57" y2="260.00"/><line x1="355.20" y1="280.10" x2="355.20" y2="260.00"/><line x1="403.46" y1="280.10" x2="401.83" y2="260.00"/><line x1="451.72" y1="280.10" x2="448.47" y2="260.00"/><line x1="499.98" y1="280.10" x2="495.10" y2="260.00"/><line x1="548.24" y1="280.10" x2="541.74" y2="260.00"/><line x1="596.50" y1="280.10" x2="588.37" y2="260.00"/><line x1="147.79" y1="224.72" x2="167.91" y2="206.31"/><line x1="189.27" y1="224.72" x2="205.37" y2="206.31"/><line x1="230.75" y1="224.72" x2="242.83" y2="206.31"/><line x1="272.24" y1="224.72" x2="280.29" y2="206.31"/><line x1="313.72" y1="224.72" x2="317.74" y2="206.31"/><line x1="355.20" y1="224.72" x2="355.20" y2="206.31"/><line x1="396.68" y1="224.72" x2="392.66" y2="206.31"/><line x1="438.16" y1="224.72" x2="430.11" y2="206.31"/><line x1="479.65" y1="224.72" x2="467.57" y2="206.31"/><line x1="521.13" y1="224.72" x2="505.03" y2="206.31"/><line x1="562.61" y1="224.72" x2="542.49" y2="206.31"/></g>
<path d="M230.1 220.7 231.8 220.6 233.5 220.7 235.7 221.6 237.4 222.3 238.6 223.7 240.0 223.3 241.9 223.8 241.6 225.7 240.6 227.7 240.9 229.9 241.8 231.0 243.5 230.2 244.1 228.7 245.2 226.8 245.6 224.7 246.7 223.6 248.4 222.8 250.2 222.4 250.9 220.6 252.2 219.8M271.7 221.6 272.9 223.7 275.1 225.1 276.5 226.8 276.7 229.5 274.5 230.6 272.6 231.6 271.0 232.6 269.0 232.8 266.7 232.8 264.3 232.4 262.4 232.8 260.4 233.1 259.1 234.0 257.0 234.7 255.5 235.8 253.8 237.4 251.6 238.6 254.2 237.5 255.7 236.5 257.4 235.2 259.5 234.7 262.3 234.9 261.3 236.7 259.5 236.9 260.7 238.6 260.7 240.0 262.0 240.4 264.8 240.7 265.9 239.4 267.3 238.6 267.2 240.6 265.3 241.7 263.1 241.8 261.2 242.9 259.0 243.6 257.7 244.8 257.1 243.5 258.8 243.0 260.1 241.7 257.9 241.8 256.2 242.6 254.7 243.5 252.7 244.0 250.1 245.3 249.1 246.8 249.9 248.1 247.4 248.8 245.8 249.7 243.6 249.9 242.8 251.4 240.7 253.7 239.3 255.5 238.2 257.0 238.1 258.9 238.0 260.4 235.4 261.7 233.5 262.8 231.1 264.5 229.3 265.4 228.0 266.3 226.7 269.1 226.6 271.0 227.3 272.8 227.5 276.0 226.6 278.8 225.1 279.0 224.4 277.1 223.6 274.2 223.8 271.9 222.3 270.1 219.9 270.4 217.8 269.3 216.0 269.2 214.6 269.5 213.6 271.5 211.7 271.5 209.5 270.8 206.3 270.8 204.5 271.9 202.8 273.5 200.8 274.2 199.7 275.8 199.6 277.5 198.7 279.3 198.3 281.2 198.2 283.1 197.6 284.4 198.1 287.2 199.4 290.0 201.1 291.3 202.6 292.1 204.4 291.5 206.0 291.3 207.7 290.6 208.9 287.8 209.8 286.6 211.6 286.8 213.2 285.9 214.8 285.9 214.9 287.2 213.5 289.6 212.7 291.9 211.7 293.4 211.1 296.2 210.5 296.5 212.7 296.5 215.1 296.2 217.5 296.5 219.5 298.0 219.1 300.2 218.7 301.8 218.1 304.6 218.2 305.9 219.4 307.9 220.6 309.2 222.2 309.6 223.9 308.8 224.8 308.1 226.4 308.5 228.1 310.0M228.1 310.0 227.2 312.6 226.8 310.5 224.7 309.4 223.3 310.5 223.4 312.2 222.1 312.4 221.0 311.1 219.1 310.7 218.0 309.6 216.3 307.9 214.7 307.4 214.6 305.5 214.1 304.1 212.9 302.7 212.1 301.8 210.5 301.4 208.2 300.4 205.8 299.9 204.6 298.8 203.2 297.8 202.1 296.0 200.5 296.0 198.0 296.7 196.4 295.6 194.9 295.4 192.6 294.3 189.9 292.6 187.3 291.7 185.2 289.6 184.5 287.8 185.3 285.9 184.6 283.1 183.2 281.8 182.7 280.3 180.8 278.1 180.5 275.6 179.2 273.8 177.5 271.9 176.9 269.7 176.9 267.8 174.7 266.7 174.1 269.1 175.1 271.9 176.0 274.7 176.9 277.5 177.9 280.3 179.0 282.7 178.1 283.3 176.9 281.2 175.3 279.4 175.8 277.5 174.0 276.0 172.1 274.2 173.6 272.8 173.4 270.9 172.2 269.5 171.7 266.9 171.6 265.4 171.6 264.5 170.4 263.0 169.1 262.0 167.6 261.5 167.7 259.8 167.2 257.4 167.2 255.5 166.9 254.6 166.8 252.4 166.7 250.7 167.6 249.1 168.8 247.7 169.2 245.9 169.9 244.4 171.6 243.1 173.0 241.8 173.4 240.0 174.3 237.8 175.0 236.0 177.3 236.2 177.1 237.6 178.4 234.9 177.9 233.1 176.3 231.3 175.5 229.5 176.2 226.8 175.9 224.7 176.4 223.3 175.9 221.6M143.6 220.7 141.9 221.0 140.4 221.8 139.0 222.4 137.1 222.4 135.3 223.3 133.5 223.6 131.7 224.2 129.8 224.6 128.2 224.9 130.1 224.1 132.2 223.4 133.9 222.8 135.9 222.5 137.5 221.9 139.2 221.7 141.1 220.5 142.5 219.8M127.4 225.3 125.6 225.6 124.1 226.1 122.4 227.1 120.0 227.4 118.2 227.5 116.4 228.1 114.5 229.0 112.9 228.8 111.0 229.0 109.5 229.3 107.7 230.1 106.1 229.9 104.2 230.6 102.6 230.2M173.3 220.7 171.6 222.1 171.6 224.2 173.9 223.8 174.9 221.9 174.8 220.2M174.7 221.4 174.8 223.7M172.8 219.8 172.1 221.9 172.6 223.3M170.9 225.8 172.4 226.1 171.8 227.6 170.6 229.2 169.9 228.1 170.9 225.8M172.8 231.7 174.3 232.2 176.0 232.8 176.7 234.1 176.7 236.0 174.9 235.5 172.9 233.1 172.8 231.7M218.3 285.2 219.9 283.7 222.4 282.9 225.6 283.1 227.9 284.2 230.2 285.3 232.5 286.5 233.9 287.3 235.2 288.3 233.8 288.9 231.4 288.7 229.4 289.0 230.7 287.6 228.4 286.8 226.1 285.5 223.3 284.6 221.8 283.9 219.7 285.0 218.3 285.2M234.5 291.7 235.5 290.0 236.6 288.9 238.7 288.9 240.3 289.3 241.9 289.3 244.3 291.3 243.2 291.9 240.8 292.1 238.7 293.0 237.5 292.1 234.5 291.7M228.2 291.7 229.7 291.9 231.3 292.4 230.1 292.8 228.2 291.7M246.2 291.7 248.7 291.9 248.0 292.4 246.2 291.7M230.6 276.4 231.8 277.0M229.8 279.4 230.3 280.9M232.4 280.7 233.5 282.0M236.5 286.8 237.3 286.5M253.9 306.0 255.4 305.9 255.2 307.2 253.9 307.2 253.9 306.0M254.9 295.8 255.3 296.3M255.7 298.8 255.8 299.1M269.0 237.5 271.4 235.8 273.0 233.1 273.6 231.6 275.3 230.4 276.7 230.4 275.1 233.1 276.3 234.0 278.2 234.9 278.4 236.7 278.6 237.6 277.0 239.3 274.9 238.7 273.8 237.5 271.3 237.9 269.0 237.5M262.9 233.3 264.4 233.6 266.1 234.6 264.7 234.4 262.9 233.3M261.7 238.9 264.4 239.6 262.8 240.2 261.7 238.9M102.9 288.3 104.3 289.1 103.0 290.6 102.6 289.4 102.9 288.3M102.0 287.0 103.1 287.4M99.9 285.9 100.6 286.3M97.7 284.8 98.3 285.0M228.1 310.0 229.1 311.1 230.5 308.8 231.4 306.4 232.6 305.5 235.6 304.9 237.3 303.6 238.5 302.9 237.6 304.6 238.0 305.9 240.6 304.6 240.6 303.4 243.0 305.1 243.7 306.4 245.6 306.0 247.0 306.2 249.4 307.0 251.2 306.6 252.8 306.0 253.5 307.4 255.1 308.3 255.4 310.1 257.0 310.7 259.1 312.9 261.1 314.8 263.9 315.0 266.4 315.2 268.8 316.7 270.4 318.0 271.2 320.4 272.8 322.6 272.8 325.1 273.7 326.0 275.3 327.3 277.8 327.3 279.6 328.3 281.1 328.8 282.2 330.7 284.4 330.7 286.9 331.4 289.3 331.2 291.8 332.9 294.0 335.0 297.0 335.7 297.5 337.5 297.8 339.1 297.6 341.1 297.8 342.8 296.5 344.3 295.4 345.6 294.1 347.4 293.1 349.9 291.8 351.2 291.6 354.0 291.6 355.7 291.8 357.7 291.0 360.5 290.5 363.3 290.0 365.2 289.1 366.7 287.6 368.7 285.5 368.9 283.5 369.5 280.8 370.8 279.7 372.5 278.3 373.2 277.6 375.4 277.9 378.2 277.4 379.6 276.0 381.0 274.5 383.8 273.3 386.1 271.8 388.9 270.5 390.7 268.2 391.1 265.7 390.3 264.1 389.4 265.8 390.5 266.5 391.8 266.7 393.7 266.9 396.9 265.0 398.2 263.4 398.6 261.4 398.7 260.2 398.3 261.0 399.6 260.9 401.5 260.1 402.6 258.5 402.1 256.9 402.1 257.6 404.3 259.6 405.2 258.1 406.1 258.5 408.9 257.1 410.2 256.1 411.6 258.2 413.4 259.8 415.1 258.8 416.6 258.4 418.0 257.4 419.2 257.6 421.6 259.0 423.0 257.6 423.4 256.1 423.9 256.6 425.7 254.2 425.2 251.6 423.9 249.9 423.1 248.8 421.6 247.6 419.7 246.9 418.0 246.5 416.1 245.2 414.9 245.1 413.4 245.5 410.7 246.0 408.0 246.2 405.8 245.5 404.3 244.1 402.8 243.3 400.6 242.5 399.1 242.5 396.9 242.5 395.0 242.8 392.2 243.4 389.7 243.1 387.5 242.8 385.0 242.3 382.9 242.4 380.7 242.2 378.2 241.8 376.1 242.3 373.6 242.5 371.4 242.1 368.9 241.7 366.6 241.7 364.2 240.9 362.4 241.1 360.1 239.0 358.3 237.0 357.5 235.5 356.4 234.1 355.6 232.6 354.5 232.0 352.9 230.6 351.9 230.0 349.9 228.8 348.4 227.6 347.1 227.3 345.2 226.5 343.4 225.8 341.9 224.7 340.4 224.1 339.1 222.0 337.2 221.4 334.8 223.0 332.3 223.5 330.7 222.0 330.1 222.3 327.9 223.2 326.0 223.4 324.5 225.2 323.6 225.4 322.5 227.2 321.2 228.1 318.9 227.7 315.7 228.1 313.5 227.2 312.6M259.1 423.7 260.5 425.2 261.8 426.0 263.3 426.9 265.3 427.3 263.9 428.2 262.1 428.9 259.1 428.3 257.8 427.3 255.7 426.7 257.2 425.5 257.3 424.1 259.1 423.7M243.5 403.9 244.8 404.3 245.5 406.8 244.2 406.5 243.5 403.9M268.4 421.2 270.9 421.2 273.5 421.8 272.3 423.0 269.2 422.5 268.4 421.2M272.0 326.4 274.5 326.4 275.3 328.4 273.8 328.4 272.0 329.2M204.3 326.7 205.3 326.4 205.5 327.9 204.6 327.9 204.3 326.7M346.1 259.2 347.0 259.0 348.8 260.2 350.5 260.2 351.8 260.5 353.7 259.4 355.2 259.0 357.5 257.9 359.8 257.4 362.9 257.4 366.0 257.0 368.4 257.2 370.3 256.4 371.1 257.4 372.1 257.0 371.4 258.3 371.6 259.8 372.3 260.7 370.8 262.2 372.1 263.1 373.2 264.1 374.8 264.8 375.9 264.6 377.3 265.4 379.1 265.8 379.6 267.3 381.4 267.5 382.8 268.4 385.2 269.5 386.7 268.2 386.6 265.9 388.9 264.8 391.3 265.2 393.0 265.7 394.5 267.1 397.7 267.4 399.1 267.7 400.9 268.4 402.4 267.6 404.0 267.3 406.1 267.8 409.1 267.6M406.1 267.8 406.6 270.1 407.1 271.9 408.5 273.8 409.4 275.3 410.3 277.0 410.9 278.4 412.2 281.2 412.7 283.1 414.7 285.0 415.3 286.8 415.4 289.6 416.0 291.1 417.7 292.4 418.2 294.4 419.0 296.2 419.9 297.7 422.1 298.8 423.2 300.2 424.5 301.4 426.0 302.7 425.6 304.6 427.3 306.4 429.0 306.4 430.5 305.5 432.2 305.3 433.9 305.0 435.5 304.9 437.3 304.8 439.0 303.8 438.8 306.6 437.9 308.9 437.3 311.1 436.7 312.8 435.8 314.8 434.7 316.3 434.2 317.6 432.8 318.7 431.7 319.9 431.0 321.3 429.2 322.6 427.7 324.1 426.6 325.7 425.2 326.9 423.6 329.4 421.4 331.0 420.4 333.5 419.3 336.3 419.0 338.1 420.1 340.0 419.7 342.8 420.9 343.9 421.4 345.6 421.1 348.0 421.4 350.2 421.4 352.0 421.6 354.0 420.6 355.4 419.5 356.8 417.8 357.8 416.1 359.0 414.4 361.1 411.9 362.9 411.4 365.2 412.2 368.0 412.2 370.8 410.2 371.8 408.9 373.0 407.5 374.5 407.5 377.3 406.4 380.1 404.2 381.9 403.6 383.6 402.4 384.7 401.0 385.7 399.8 387.2 397.3 388.9 395.3 389.4 393.3 389.5 391.8 389.6 389.5 389.8 388.0 390.8 386.3 390.9 384.0 390.0 383.7 387.2 384.0 385.3 382.5 382.5 381.6 380.9 381.4 379.3 380.8 377.6 379.4 376.4 378.8 374.5 379.1 372.6 378.8 370.5 378.5 368.7 377.8 366.9 377.0 365.2 376.6 363.0 375.5 361.1 374.4 358.1 374.4 355.5 375.4 352.5 376.4 350.6 377.3 349.3 377.8 346.5 377.0 344.6 376.9 342.8 376.1 340.8 375.7 339.1 375.3 337.2 375.3 335.3 374.5 333.8 373.3 332.5 371.8 331.4 371.2 330.1 370.0 327.5 370.7 325.4 371.3 323.8 371.3 321.3 371.2 319.1 370.0 317.6 368.9 317.4 366.7 317.8 365.1 318.0 363.9 315.7 362.6 314.3 360.1 314.1 357.7 314.4 355.2 315.4 352.7 316.7 351.1 316.7 348.6 316.3 347.2 316.8 345.3 317.0 342.9 317.8 340.4 316.3 339.0 315.5 337.9 314.3 336.3 313.1 334.7 312.0 333.5 310.1 333.4 308.3 331.4 306.4 330.6 305.5 329.0 303.6 327.9 302.7 327.7 300.8 326.6 298.6 328.3 296.2 328.0 294.3 328.7 292.4 329.3 289.6 328.5 287.8 327.7 286.8 327.9 285.0 328.7 283.2 329.5 281.8 331.3 279.4 332.0 277.1 334.0 274.7 334.7 274.0 336.9 273.2 339.4 271.2 339.9 269.1 339.8 267.3 340.6 265.4 342.7 263.5 344.6 262.6 345.1 261.0 346.1 259.2M435.9 348.4 437.0 350.3 437.3 352.1 437.5 354.9 436.2 356.1 435.7 357.7 435.4 359.8 434.6 361.4 434.1 363.2 433.6 365.4 432.6 367.0 431.7 368.7 431.5 370.6 430.9 372.3 428.1 373.6 425.7 372.6 425.0 370.1 425.0 368.0 425.8 366.0 426.8 364.2 427.0 362.2 426.6 360.5 427.0 358.6 427.6 356.4 430.6 355.3 432.7 353.6 433.6 351.2 434.7 350.0 435.9 348.4M329.8 273.4 330.5 273.8M328.2 273.2 329.1 273.0M316.1 298.0 316.9 297.8M426.1 347.8 426.4 348.2M444.7 365.2 445.1 365.5M448.2 363.7 448.5 364.0M369.4 319.1 369.9 319.5 369.4 319.8 369.4 319.1M366.1 325.4 366.2 325.8M346.9 258.7 345.5 257.7 343.8 256.6 341.5 257.0 341.7 254.4 340.7 253.7 341.7 251.1 342.1 248.1 341.5 245.9 343.3 244.6 345.3 244.7 347.0 245.0 350.0 245.0 352.5 245.2 353.3 243.1 353.6 240.7 352.0 238.6 350.3 237.6 349.0 237.1 348.4 236.0 350.9 235.3 352.9 235.6 352.8 233.7 353.8 234.2 355.5 234.0 357.3 232.8 357.6 231.5 358.7 231.1 360.2 230.6 361.1 229.5 361.8 227.9 362.9 227.2 365.0 227.0 366.6 226.7 367.4 226.0 367.0 224.4 366.3 223.1 366.3 221.0 368.0 220.3M369.2 221.4 369.9 221.9 368.6 223.3 368.4 224.4 369.0 225.1 370.4 225.3 370.5 226.0 372.5 225.3 374.6 226.0 375.1 226.1 377.3 225.4 380.0 224.5 380.9 225.3 382.6 225.3 382.7 224.4 384.0 223.7 383.9 221.6 384.2 220.0M377.4 219.8 377.0 222.1 375.0 222.4 374.7 223.5 373.0 223.5 372.2 221.9 371.1 219.8M573.4 219.3 574.6 220.4 575.9 221.5 577.5 222.4 578.1 224.2 578.4 224.5 576.9 225.1 578.6 227.4 577.0 227.9 577.3 229.9 577.7 231.3 576.1 229.9 574.2 228.6 572.9 227.5 572.0 226.0 570.3 225.1 568.7 223.8 567.2 222.6 566.1 221.0M543.3 219.5 542.8 222.4 541.5 224.5 543.1 225.6 545.2 226.0 546.5 226.7 548.6 227.1 550.6 227.4 552.8 227.7 554.1 229.2 554.7 231.3 556.1 232.9 557.1 234.3 557.9 235.8 557.9 237.5 557.1 239.5 556.4 241.2 556.6 243.1 556.0 244.7 554.6 245.9 552.2 245.5 551.2 247.2 550.6 248.7 551.3 249.9 549.0 251.8 549.6 252.9 551.3 254.0 552.2 255.1 554.5 257.0 555.3 258.9 555.7 260.4 554.1 260.9 552.2 262.0 551.1 259.8 550.3 257.4 550.0 256.6 549.0 255.5 547.0 255.5 546.2 254.8 545.9 252.4 544.0 251.6 541.7 252.5 540.3 253.7 540.0 250.5 538.2 249.9 536.8 251.8 535.1 252.9 535.2 254.2 537.5 255.5 538.6 256.6 540.4 255.5 543.5 256.3 543.8 257.2 541.6 258.3 541.2 259.0 540.5 260.7 542.3 262.6 544.3 264.5 545.6 265.6 546.7 266.7 547.4 268.4 545.6 269.5 548.2 270.2 548.6 272.8 547.5 274.2 546.7 276.0 546.6 277.9 545.7 279.7 544.6 280.7 543.3 282.2 541.9 283.3 539.4 284.2 538.2 284.6 535.9 285.5 533.6 286.5 533.6 288.1 532.5 287.2 532.4 285.9 530.3 285.5 528.8 286.3 527.7 287.8 526.5 289.6 526.6 290.9 528.2 292.8 530.1 295.0 531.6 296.2 533.0 298.0 533.8 300.8 533.9 303.6 533.0 305.3 530.9 306.6 530.2 308.3 527.9 309.8 527.1 307.7 526.5 306.6 525.0 306.2 523.9 304.6 522.6 303.2 520.4 302.3 520.1 301.0 518.6 301.0 518.6 302.7 518.6 304.6 517.8 306.4 518.1 308.8 519.4 310.1 520.3 312.6 522.0 313.3 523.2 314.4 525.1 316.7 525.4 318.5 525.6 321.0 526.8 323.4 525.7 323.6 524.0 322.1 522.0 320.4 520.8 318.2 520.2 315.7 520.1 313.9 518.7 312.0 517.3 310.7 516.5 309.2 516.9 307.0 516.8 304.2 516.3 301.8 515.2 299.5 514.4 297.1 514.2 295.2 512.6 294.3 510.6 296.5 508.8 296.2 508.8 293.4 508.1 290.9 506.5 289.1 504.7 287.2 503.6 285.3 503.1 284.2 501.0 284.0 501.2 285.2 498.8 285.3 497.2 285.3 495.7 286.3 495.5 287.8 494.9 288.9 492.9 289.6 491.5 291.7 490.7 293.3 489.1 294.7 487.6 296.0 485.9 297.3 485.8 299.9 486.5 301.8 486.0 304.6 486.0 306.8 485.2 308.7 483.5 309.4 482.5 310.9 480.7 308.8 480.5 306.5 479.3 304.7 478.2 303.6 477.7 301.9 476.9 300.1 476.4 298.4 475.6 296.6 474.8 295.2 474.6 293.4 473.7 291.9 473.2 290.2 473.1 288.3 472.6 286.8 472.2 285.5 471.5 286.5 469.6 287.4 468.4 285.8 466.7 284.6 467.9 283.5 465.9 282.7 463.7 281.4 462.6 279.7 461.7 278.6 458.5 279.0 456.1 278.7 453.9 279.0 452.0 278.4 449.7 278.6 446.9 278.3 445.8 275.6 443.0 276.4 441.4 276.4 438.8 274.7 438.0 273.6 436.2 272.8 435.5 271.0 434.2 269.7 432.6 269.3 431.9 270.1 431.3 271.2 431.9 272.8 433.3 274.7 435.0 276.2 435.5 278.1 436.7 279.7 437.1 277.5 437.9 279.0 437.9 280.7 439.5 280.9 441.9 280.9 443.8 278.8 445.2 277.1 445.6 279.6 446.8 281.4 449.4 282.0 451.5 284.0 450.6 285.9 450.3 287.8 448.9 290.6 446.9 292.4 444.9 293.4 443.1 294.4 441.8 295.1 440.2 296.2 438.2 297.1 436.9 298.3 435.2 299.5 433.6 300.1 432.0 300.2 430.4 301.0 428.8 302.1 426.3 302.3 425.8 301.0 425.0 298.4 424.7 295.6 423.6 294.3 422.7 293.0 421.7 291.5 420.8 289.4 419.6 288.0 418.5 286.3 417.7 284.9 417.2 283.2 417.1 281.6 416.2 280.4 414.8 279.0 413.5 277.1 412.8 275.3 411.2 273.8 410.5 271.0 409.8 273.8 409.6 274.2 407.9 272.8 406.8 270.1M409.1 267.6 409.9 265.4 410.1 264.3 410.7 262.6 411.0 260.7 410.9 258.9 411.0 257.7 409.2 257.6 407.7 258.3 405.4 258.7 403.9 257.6 402.4 257.4 400.8 258.5 398.4 257.6 397.2 256.6 396.8 254.4 395.6 252.7 395.0 251.4 396.9 250.7 399.0 249.6 402.0 249.4 403.5 249.1 404.8 247.7 407.8 247.7 410.2 249.0 412.1 249.4 413.4 249.8 415.6 249.6 417.7 248.7 416.4 245.9 414.0 244.6 411.5 243.1 409.8 242.2 409.1 241.5 411.0 240.4 411.0 238.4 412.5 238.4 410.0 238.9 408.7 240.0 406.6 240.4 407.4 241.7 409.0 241.8 407.6 242.2 404.8 243.1 403.1 241.5 404.4 240.4 402.0 239.5 400.3 239.5 399.0 241.7 397.8 244.0 396.8 245.5 396.5 246.8 397.3 247.7 397.7 248.7 399.0 249.2M399.0 249.6 396.7 249.6 395.7 250.7 394.5 250.1 391.9 249.9 390.8 250.9 392.1 251.2 389.7 250.5 389.9 252.4 390.6 253.3 392.0 255.1 390.8 255.3 391.0 257.9 389.8 257.9 388.6 257.2 387.9 255.5 388.9 254.6 387.3 254.4 386.8 253.3 385.6 251.8 384.6 250.5 384.5 248.3 382.9 246.8 380.6 245.5 378.2 244.0 376.6 241.8 375.6 242.6 375.2 241.1 373.3 241.7 373.6 243.7 375.5 245.0 376.5 247.0 379.2 247.9 379.3 248.8 380.8 249.6 382.4 250.3 383.3 251.2 383.0 251.8 380.9 250.5 380.4 252.0 381.3 253.3 380.5 254.6 379.7 255.3 379.2 254.8 379.6 253.7 379.0 251.4 377.1 250.3 374.8 249.2 373.5 248.1 371.7 247.0 370.6 245.3 370.1 244.0 368.2 243.3 366.4 244.4 364.9 245.7 362.7 245.3 361.2 245.0 359.7 246.3 360.0 247.9 358.5 249.0 356.3 249.9 355.2 251.8 354.7 252.5 355.5 253.8 354.1 255.9 352.1 257.4 350.1 257.0 348.4 257.6 346.9 258.7M374.2 255.1 376.1 255.0 377.5 254.8 379.1 254.6 378.5 257.6 376.6 256.6 374.4 255.9 374.2 255.1M367.6 249.6 369.9 249.6 370.0 251.3 369.8 252.9 368.0 253.3 367.6 251.2 367.6 249.6M368.1 247.0 369.2 245.9 369.5 248.7 368.5 248.7 368.1 247.0M391.8 259.8 393.9 260.3 396.0 260.4 394.4 261.0 392.5 260.7 391.8 259.8M405.4 260.7 406.4 260.0 408.8 259.4 407.9 260.9 406.5 261.5 405.4 260.7M359.0 252.4 360.2 251.8M357.2 253.5 357.5 253.1M398.4 258.1 398.2 258.9M394.8 252.9 395.6 253.3M395.0 254.6 395.1 254.0M347.1 233.1 348.6 232.7 350.2 232.6 352.2 232.2 353.8 231.9 355.6 231.9 357.2 231.0 357.6 228.3 355.6 227.7 355.2 226.7 353.5 224.9 352.5 222.8 351.1 222.4 352.5 219.6M347.1 219.8 347.7 221.9 348.3 223.8 350.7 224.4 351.0 226.1 350.9 227.2 348.9 227.2 349.3 228.6 347.9 229.9 350.2 230.6 348.8 231.3 347.1 233.1M346.6 227.2 346.2 229.2 344.9 230.1 343.2 230.4 340.8 229.9 341.5 227.2 341.4 225.6 343.8 223.8 345.6 223.7 347.5 224.7 346.9 226.0 346.6 227.2M370.5 223.0 372.3 222.4 372.4 223.8 370.7 223.8 370.5 223.0M368.9 223.3 369.9 224.0M377.5 221.9 378.1 220.2M582.8 223.7 584.8 224.5M596.5 227.8 598.0 228.1M605.0 229.5 606.4 229.9 608.4 230.4M551.7 225.4 553.8 226.2 555.1 227.7 556.5 229.3 558.3 230.7 559.7 232.2 561.2 233.7 563.2 234.9 563.1 236.7 563.8 238.6 563.6 240.4 562.5 238.6 561.0 236.7 559.1 235.0 558.2 233.1 557.0 231.4 555.4 230.6 554.2 228.6 552.8 227.4 551.7 225.4M566.1 248.7 566.6 245.9 565.5 244.6 564.4 243.3 563.9 241.5 565.3 242.3 566.9 243.3 568.4 243.8 570.3 244.4 571.8 245.2 570.8 247.7 568.8 247.5 566.4 246.8 566.1 248.7M568.3 248.8 569.6 251.0 571.3 252.4 571.4 255.1 572.3 256.7 573.0 258.9 572.6 260.7 571.0 261.3 568.3 261.5 567.4 263.5 565.2 261.5 563.3 261.5 561.6 262.2 559.5 262.6 559.0 261.5 561.2 259.6 563.4 259.0 565.8 259.4 566.2 257.0 568.0 256.1 567.6 253.8 568.0 251.8 566.7 249.6 568.3 248.8M558.3 263.5 561.1 263.5 562.0 265.5 562.1 267.3 560.5 267.8 559.9 266.4 558.6 265.0 558.3 263.5M561.9 262.8 564.8 262.2 564.7 263.9 563.2 264.8 561.9 262.8M571.7 243.5 573.3 241.7M575.3 240.4 576.6 238.2M576.9 234.9 577.1 232.6M559.3 277.1 559.9 276.2M549.9 279.0 550.7 280.3 550.1 282.6 550.0 285.0 548.7 283.1 549.1 281.3 548.9 279.7 549.9 279.0M531.3 290.2 534.0 288.7 535.0 289.6 532.9 292.1 531.3 290.2M486.4 307.7 487.5 308.6 488.5 310.1 489.6 312.9 487.7 314.8 486.3 312.9 486.4 310.1 486.4 307.7M552.4 263.5 553.5 263.7M424.4 241.3 426.9 239.5 429.6 238.6 432.6 238.9 433.3 241.7 430.7 243.1 429.8 243.5 431.4 245.9 433.8 246.8 434.3 248.7 436.5 249.6 435.7 251.4 436.8 253.3 438.2 256.1 438.1 257.2 435.4 257.7 432.6 256.4 430.5 255.9 430.0 254.4 430.3 252.7 430.2 250.9 431.3 250.7 429.0 248.7 428.1 248.1 426.2 245.9 425.7 244.0 424.4 243.1 424.4 241.3M550.7 291.5 553.5 291.7 553.6 293.5 553.7 295.2 553.4 298.0 554.9 298.9 556.2 299.6 557.8 300.3 558.0 302.5 556.9 301.3 555.3 300.3 552.5 300.3 551.8 298.4 550.8 297.1 551.0 295.2 551.1 293.4 550.7 291.5M555.7 312.9 557.2 311.5 558.0 310.1 559.4 309.0 561.0 307.7 562.1 309.6 563.0 311.1 563.1 312.5 562.3 314.3 561.3 315.2 559.0 313.3 558.1 311.8 555.7 312.9M558.5 302.7 560.6 303.2 561.1 305.1 560.1 307.0 559.1 305.1 558.5 302.7M555.0 304.2 556.6 304.6 557.2 307.4 557.0 308.8 556.0 307.7 555.2 306.4 555.0 304.2M547.6 310.1 549.6 307.7 550.9 304.9M552.0 301.0 553.7 301.4 553.7 303.1 552.8 302.7 552.0 301.0M557.6 306.4 558.4 305.5 558.5 307.4M511.9 315.6 513.8 315.9 515.6 316.3 516.6 317.6 517.6 318.8 518.9 319.7 520.5 320.8 522.1 321.5 523.6 322.8 524.5 324.3 526.0 325.6 526.2 327.3 527.3 328.8 528.7 329.8 529.7 331.6 529.3 333.5 529.8 334.9 529.2 336.8 527.1 336.3 526.1 334.9 524.8 333.4 523.1 332.5 522.5 331.0 521.8 329.3 520.8 327.9 519.7 326.2 518.7 324.8 518.3 323.2 516.2 321.8 514.9 319.8 513.4 318.4 512.3 317.0 511.9 315.6M528.1 338.5 529.5 337.0 531.7 337.1 533.6 338.1 535.8 338.0 537.7 338.1 540.6 338.9 543.3 340.5 542.8 342.0 541.0 341.4 539.4 342.0 537.5 341.5 535.8 341.4 534.3 341.2 532.6 340.5 530.0 339.8 528.1 338.5M534.7 323.0 536.4 322.8 538.5 321.5 541.2 320.0 543.1 318.5 544.4 316.7 545.7 314.5 547.0 312.9 548.9 314.8 551.0 316.3 549.4 318.0 549.2 320.4 550.4 322.2 551.1 324.1 548.9 325.1 548.8 327.9 546.7 329.7 547.1 331.6 546.6 333.1 543.8 333.6 541.2 332.0 539.1 332.2 536.7 331.2 536.4 328.4 534.8 326.6 534.8 324.5 534.7 323.0M552.6 324.5 554.2 323.6 555.8 324.3 557.8 324.3 559.9 324.0 561.4 323.2 560.3 325.3 558.5 325.4 556.2 325.1 554.5 325.1 552.9 327.7 555.4 327.7 558.3 327.5 555.8 329.4 556.1 331.6 557.3 333.5 557.5 335.9 555.9 334.8 555.2 333.2 555.3 331.6 554.1 331.0 553.5 332.7 553.2 334.4 553.1 336.4 551.7 336.3 551.9 334.2 551.9 332.5 550.8 331.2 551.4 328.9 552.4 327.3 552.6 324.5M544.0 341.3 545.2 341.5 544.3 342.4 544.0 341.3M545.7 341.5 546.8 341.7 545.9 342.6 545.7 341.5M547.0 341.7 549.4 341.5 550.6 341.9 548.9 342.6 547.2 342.8 547.0 341.7M552.1 341.7 553.9 341.7 556.9 341.3 556.8 342.2 553.8 342.6 552.2 342.4 552.1 341.7M557.7 345.2 559.0 343.8 560.3 342.8 562.2 342.7 564.2 341.7 561.9 343.3 559.8 343.9 558.5 345.0 557.7 345.2M550.4 343.7 552.4 343.5 553.3 344.8 552.0 345.0 550.4 343.7M565.2 322.3 566.1 323.8 567.4 323.6 566.1 325.4 566.9 327.5 565.7 326.9 565.2 324.5 565.2 322.3M566.0 331.6 568.0 331.6 570.5 332.2 568.9 332.7 566.2 332.5 566.0 331.6M562.6 332.0 564.3 332.0 563.9 333.1 562.6 332.0M575.9 336.8 576.7 337.7 575.9 338.7 575.9 336.8M570.4 339.8 571.3 340.7M529.8 329.0 530.9 330.7 529.7 331.6 529.8 329.0M532.6 330.8 533.4 331.6 532.5 332.0 532.6 330.8M515.5 323.4 516.3 324.9M517.6 327.9 518.6 329.4M571.0 327.5 573.5 326.7 575.9 327.5 576.9 329.2 577.5 330.6 577.5 332.2 578.7 330.7 579.9 329.8 581.7 329.0 583.3 329.7 585.8 330.1 587.4 330.8 589.4 331.9 590.7 332.7 593.1 333.1 594.4 334.4 595.0 335.9 597.7 337.2 596.8 338.7 598.3 340.9 599.2 342.3 600.6 343.7 601.9 345.2 600.1 345.2 597.9 345.0 596.2 343.9 595.7 342.4 593.8 341.3 592.6 340.2 590.8 341.9 589.0 343.2 586.6 343.0 584.8 342.3 583.5 340.9 581.8 341.7 581.7 339.1 583.3 338.7 582.2 336.3 580.4 335.8 579.0 334.6 576.7 334.1 574.9 333.1 573.8 333.5 572.6 331.2 575.0 330.7 572.9 330.0 571.3 328.8 571.0 327.5M599.4 336.4 601.9 336.3 603.5 335.2 605.4 333.8 605.8 335.3 604.3 336.7 602.6 337.7 600.2 337.6 599.4 336.4M603.5 330.8 605.4 332.2 606.6 334.4M609.6 336.3 610.9 337.2 611.4 338.7 610.3 338.1 609.6 336.3M612.4 338.7 614.0 340.0M613.9 340.9 615.4 341.9M616.3 341.3 617.8 342.8M617.4 343.3 618.9 344.3M619.2 341.9 619.8 343.7M620.0 345.2 621.2 346.1M626.9 354.0 627.6 355.3M627.6 356.2 628.3 356.8M628.5 358.8 628.9 359.2M620.5 363.5 622.5 365.2 624.3 367.6 622.9 367.0 621.0 364.8 620.5 363.5M643.3 358.6 645.4 358.8 644.6 359.9 643.0 359.8 643.3 358.6M646.1 357.0 648.1 356.2M73.0 351.2 73.9 351.6M74.4 351.9 75.1 352.1M72.1 365.4 72.5 365.5M112.3 358.8 112.9 359.2M588.7 346.0 588.9 347.7 590.0 349.3 590.2 351.4 589.9 353.0 592.2 354.0 591.9 356.5 592.4 358.6 592.3 361.4 594.7 363.3 595.6 364.9 596.3 367.0 597.7 369.8 598.7 370.9 599.7 372.6 600.1 374.5 599.6 376.4 599.1 379.2 598.3 380.8 597.5 382.1 596.4 383.8 594.6 385.4 593.3 387.2 592.1 388.3 591.0 389.4 589.5 390.7 588.3 391.7 587.5 393.1 586.7 394.5 585.7 395.9 583.7 396.4 582.2 396.7 580.4 397.9 578.3 398.9 577.2 397.4 574.4 398.3 572.9 397.9 571.2 397.2 570.5 394.6 570.5 392.4 569.0 392.4 570.4 390.0 568.9 391.6 568.8 389.4 571.0 387.2 569.5 387.8 567.9 389.6 566.7 390.7 565.6 390.3 565.1 388.7 565.1 387.2 562.6 385.7 560.5 385.5 558.1 384.9 556.7 385.6 554.4 385.5 552.9 386.2 551.2 386.4 549.3 387.5 547.8 389.2 546.1 389.0 544.2 389.1 542.4 389.2 540.3 390.5 538.5 391.3 535.5 390.9 534.3 390.0 534.8 388.1 536.4 387.3 537.0 385.7 537.1 383.5 537.1 381.9 536.7 379.6 536.8 377.3 536.4 374.5 537.3 372.8 537.8 370.8 538.4 368.0 539.4 366.7 541.5 365.9 543.5 364.6 545.7 364.0 547.8 363.3 549.4 363.2 551.1 362.7 552.6 361.2 553.8 359.6 554.1 357.7 555.9 358.3 556.8 356.2 559.0 354.5 561.0 352.1 563.4 352.1 564.5 354.0 566.4 353.8 567.3 351.2 569.2 349.1 572.1 348.6 572.2 347.1 574.4 347.7 576.1 348.8 579.1 348.8 577.4 351.2 576.2 354.0 578.0 354.8 579.1 355.8 580.4 357.3 581.4 358.6 584.0 358.6 584.9 356.8 585.8 354.9 586.0 352.7 586.9 350.2 587.8 348.5 587.9 346.5 588.7 346.0M574.1 401.9 576.4 402.6 579.3 402.2 577.6 404.6 576.2 405.8 574.9 407.0 572.5 407.2 573.1 404.6 574.1 401.9M566.8 392.4 568.4 392.4 568.7 393.0 567.1 393.1 566.8 392.4M568.6 347.3 570.3 347.1 569.3 348.0 568.6 347.3M578.2 351.7 578.7 352.5M624.1 390.2 625.6 391.8 625.9 394.3 625.5 396.1 627.2 396.5 629.2 396.3 627.8 398.1 626.2 399.1 624.6 399.6 623.0 401.1 621.5 402.4 619.1 403.5 618.6 403.0 620.2 401.9 620.9 400.6 619.9 399.5 622.4 397.8 623.5 396.8 624.2 395.0 623.9 393.0 623.9 391.3 624.1 390.2M616.7 401.5 617.5 403.7 616.1 404.2 615.0 405.8 613.3 406.5 612.1 407.6 609.2 408.5 608.0 410.1 606.2 411.3 604.4 411.7 603.0 412.7 600.7 412.0 599.8 411.3 601.2 410.4 603.1 409.1 604.4 408.3 606.3 407.8 608.2 406.8 609.9 406.1 611.4 405.5 612.9 404.5 614.3 403.3 616.7 401.5M600.1 413.1 600.4 413.6M454.3 417.1 456.3 417.3 455.6 418.2 454.1 418.2 454.3 417.1M302.5 426.0 305.5 426.9M591.7 301.2 592.0 300.8M95.8 322.5 96.1 322.6M558.8 304.7 560.0 305.1 560.5 307.0 559.9 307.4 558.8 304.7M557.6 307.4 557.9 306.2 558.3 305.1M558.2 307.5 559.3 307.2 559.1 308.1 558.2 307.5M556.9 302.9 558.2 303.6M547.6 310.3 549.6 308.3 550.2 306.7 550.9 304.9 550.8 306.4 550.0 307.8 548.9 309.2 547.8 309.8 547.6 310.3M552.6 315.7 553.5 315.0 554.5 314.8M552.3 288.0 552.3 287.2M554.6 302.7 555.0 303.4M551.6 303.6 552.2 304.2M506.8 300.8 507.2 302.7 507.0 304.2M506.8 306.0 507.0 306.4M509.3 312.6 509.2 313.1M507.9 310.7 508.1 310.3M475.5 313.3 475.7 313.9M476.0 318.2 476.2 318.9M475.8 322.3 475.9 322.8M475.8 326.9 476.0 327.3M474.2 339.6 474.3 339.8M560.7 273.0 561.4 273.4M560.4 274.2 560.6 274.3M554.4 280.5 554.7 280.3M556.1 279.7 556.3 279.9M592.8 297.8 592.9 297.5M591.8 292.4 591.8 292.1M576.2 312.2 576.3 311.6M581.8 308.3 581.9 308.1M604.6 312.2 604.8 312.0M615.2 313.1 615.3 312.9M623.3 316.1 623.5 315.9M636.5 312.8 636.7 312.6M629.9 308.8 630.0 308.7M640.2 323.4 640.3 323.2M649.4 341.9 649.6 341.7M125.1 342.4 125.4 342.8M127.2 344.1 127.4 344.5M114.3 354.0 114.7 354.2M116.9 354.7 117.2 354.9M119.0 355.8 119.4 356.0M122.2 357.0 122.5 357.1M126.1 358.6 126.5 358.8M130.0 360.5 130.4 360.7M112.1 358.6 112.8 358.7 113.0 359.3 112.4 359.2 112.1 358.6M108.7 357.1 108.9 357.4M97.2 365.5 97.3 365.6M100.5 366.8 100.7 366.9M114.8 369.6 114.9 369.7M146.7 372.7 146.8 372.8M180.6 376.5 180.9 376.6M232.0 388.7 232.2 388.8M206.1 327.0 206.6 327.3M207.6 327.5 208.1 327.7M205.6 326.5 205.9 326.7M79.8 361.4 80.0 361.6M92.6 407.6 93.4 408.0M73.0 360.7 73.2 360.9M64.5 352.7 64.6 352.6M73.3 343.2 73.4 343.1M311.5 254.2 312.1 254.0M313.5 253.8 313.8 253.9M315.6 255.5 316.5 255.6M307.7 252.5 307.9 252.4M328.3 264.8 328.9 265.0M332.6 273.2 333.1 272.5M333.3 272.1 333.8 271.5M326.6 272.5 326.9 272.7M316.6 297.8 316.9 298.0M314.1 294.3 314.6 294.1M317.7 296.0 318.1 295.8M315.4 298.2 315.6 298.3M253.5 265.8 253.7 265.7M331.5 340.8 331.7 340.7M345.8 355.7 346.0 355.8M336.3 395.2 336.4 395.3M446.4 334.6 446.5 334.8M442.4 302.5 444.4 302.5 443.6 303.1 442.4 302.5M457.7 424.4 458.2 424.4M430.9 412.4 431.2 412.4M410.2 413.3 410.5 413.2M574.5 427.1 574.4 427.3M591.8 420.0 591.6 420.3M592.6 423.4 592.5 423.6M252.8 292.2 253.1 292.4M253.1 293.6 253.3 293.7M254.6 294.1 254.9 294.3M255.0 297.1 255.3 297.5M255.6 300.0 255.7 300.3M255.1 301.2 255.2 301.6M254.1 303.3 254.4 303.6M257.7 301.4 257.9 301.6M250.1 291.8 250.4 291.9M252.8 292.1 253.0 292.0M243.3 303.2 243.6 303.4M242.1 303.2 242.6 303.4M240.6 302.5 240.8 302.8M250.0 305.6 250.7 305.5M223.3 290.0 223.8 289.9M238.6 285.3 239.7 285.3M235.7 283.7 236.2 283.9M234.2 280.7 234.4 281.1M230.5 279.2 231.3 279.4M231.5 275.8 232.2 276.6M172.0 220.7 172.3 221.4 171.7 222.4 172.3 223.1 172.2 224.2M173.8 220.3 173.2 221.6 173.5 222.4 173.7 223.3 173.8 224.0 174.0 224.5M175.0 221.0 174.8 222.1 175.0 223.0 175.3 223.8M174.1 220.7 174.6 221.6M171.5 221.0 171.5 222.1M174.6 225.4 174.3 226.7 174.7 227.4 174.3 228.4 174.6 229.2 174.3 230.2 174.1 231.1M175.3 226.3 175.5 227.2 175.0 228.3M174.5 231.9 175.3 232.8 176.0 233.8 176.5 234.6M244.6 408.0 245.9 409.8 245.1 411.6 246.1 412.7 247.2 414.4 246.6 416.2 247.9 417.4 248.7 418.9 248.7 420.7 250.9 422.5 253.1 424.3 254.7 424.6 256.0 426.0 258.7 427.5 261.0 427.8M246.7 409.8 248.1 412.5 248.0 415.3 249.5 418.0 249.9 420.7 250.8 421.9 252.3 423.0" fill="none" stroke="#bbbbbb" stroke-width="1.05" stroke-linejoin="round" stroke-linecap="round"/>
<path d="M187.5 199.8 170.2 215.0M170.2 215.0 172.5 215.3 172.4 217.4 174.1 216.3 176.4 216.0 177.1 218.3 176.9 219.8 176.4 221.4 177.9 222.4 175.9 224.7M178.4 234.9 218.1 234.9M218.1 234.9 218.5 234.2 218.7 235.5 221.0 235.6 222.7 236.6 225.5 236.7 227.5 236.2 230.2 237.6 231.4 238.9 231.5 239.6 232.3 240.2 232.5 241.1 233.6 241.7 233.0 244.8 231.7 246.6 230.4 247.5 231.1 248.3 233.7 247.4 235.3 247.1 237.1 246.3 237.5 245.0 239.0 244.9 240.9 244.8 242.0 243.7 244.5 242.2 245.9 242.0 247.6 241.9 249.6 242.2 250.9 241.5 252.8 239.5 254.5 237.8 255.8 238.0 256.3 238.6 255.6 240.7 255.8 241.8 256.2 242.6M171.6 265.4 173.6 265.5 175.5 265.0 175.2 265.4 177.0 265.8 178.3 267.2 180.4 267.6 182.6 268.0 184.8 267.6 185.1 266.7 187.8 266.7 189.6 268.9 189.8 270.6 191.5 271.9 193.0 270.4 194.7 270.4 195.8 273.2 196.7 274.7 196.9 276.8 199.7 277.7M204.7 299.0 204.9 297.7 205.9 296.0 208.0 296.0 206.6 293.9 207.3 293.8 207.4 292.8 210.4 292.8 212.0 291.5M210.4 292.8 210.1 294.8 209.9 296.3 210.4 296.3M209.9 296.3 209.4 299.1 208.0 300.4M209.4 299.1 210.7 300.1 211.7 301.0M212.5 301.8 213.5 301.2 215.2 300.1 216.7 298.4 219.5 298.0M214.8 305.3 216.4 305.5 218.1 305.7M219.1 310.9 219.2 308.3 219.7 308.1M239.1 289.3 238.7 291.3 238.8 292.8M259.1 423.7 260.8 427.6M228.1 310.0 228.4 311.3 227.2 312.6M238.5 302.9 236.8 305.1 236.7 306.8 235.4 308.3 236.2 310.5 236.9 312.8 240.0 312.9 240.9 314.6 242.9 314.8 244.2 314.4 244.4 316.1 243.5 317.6 244.4 319.7 243.6 320.8 244.3 322.4 244.8 323.8 245.0 323.8M256.7 310.3 255.8 311.9 254.5 312.9 255.7 314.8 254.2 315.0 255.3 316.3 256.5 316.5 256.3 317.6 257.1 318.7 256.6 321.5 258.0 323.6 258.8 323.6M255.3 316.3 253.5 317.7 251.8 318.5 249.0 318.4 249.8 321.3 250.8 321.9 249.8 322.6 247.3 324.5 245.0 323.8M261.1 314.8 260.9 316.1 259.9 317.4 259.7 318.7 260.9 319.8 262.1 322.5 263.0 322.5 263.1 321.7 265.3 321.7 266.0 320.8 266.3 319.3 265.5 316.7 266.4 315.2M262.1 322.5 260.3 323.3 258.8 323.6M265.3 321.7 268.1 321.9 268.8 320.1 270.1 318.4 270.4 318.0M245.0 323.8 243.5 323.2 241.7 323.5 240.2 322.8 241.2 324.9 239.9 325.1 239.9 326.4 240.9 328.1 241.0 330.2 240.1 332.0 240.0 333.8M225.2 323.4 227.0 324.5 229.2 325.4 231.1 326.2 231.3 327.7 230.7 328.8 229.1 330.8 227.1 331.6 226.1 332.5 225.7 334.6 224.2 334.4 223.1 334.2 223.0 332.3M231.1 326.2 232.6 326.9 233.5 328.6 234.6 330.3 236.6 330.5 238.8 330.3 239.9 331.0 240.0 333.8M240.0 333.8 238.5 334.5 236.9 334.5 235.3 335.5 233.7 338.3 234.9 339.8 233.6 340.0 234.1 341.5 235.6 343.0 236.8 344.6 239.4 344.1 239.5 346.5 241.2 346.3 242.2 347.5 242.8 349.3 242.5 351.4 242.8 353.6 242.1 355.1 242.9 356.8 242.1 358.5 242.3 358.8 241.1 360.1M241.2 346.3 243.3 346.5 244.9 345.8 246.0 344.5 247.9 344.1 248.3 346.2 248.3 347.8 249.8 349.1 252.5 350.2 255.5 351.2 256.9 351.6 257.3 353.8 257.2 356.2 260.1 356.4 260.4 358.3 261.5 359.2 261.5 361.4 261.0 363.3M242.3 358.8 243.3 360.3 244.2 361.4 243.9 364.0 245.1 366.1 245.9 368.5 247.4 368.9 247.1 370.8M245.9 368.5 247.0 368.3 248.4 366.7 250.0 367.9 251.7 368.5 254.1 367.4 255.6 368.9 257.3 370.4 258.8 370.8 260.9 372.3 262.6 372.8 262.3 374.7 261.8 376.7 264.4 377.3 266.3 377.1 267.9 375.8 267.8 373.7 269.4 374.9 269.4 376.7 268.0 378.2 266.5 378.8 265.1 380.6 264.2 382.3 264.2 382.3 265.4 382.1 267.1 383.6 269.3 384.7 271.5 386.8 271.8 388.9M254.1 367.4 254.5 364.2 255.1 362.6 257.2 361.9 259.5 362.0 261.0 363.3 261.2 365.4 261.9 367.2 263.7 367.1 265.4 367.8 266.2 370.8 268.0 370.9 267.8 373.7M264.2 382.3 263.6 384.3 263.9 386.6 264.1 389.4M247.1 370.8 245.6 371.7 245.9 373.3 245.6 375.0 244.7 377.1 244.4 379.0 244.9 380.6 244.6 382.7 244.4 385.3 245.8 388.1 246.4 389.8 246.6 391.4 246.2 393.1 246.1 396.3 246.5 397.8 247.1 399.6 246.3 400.9 247.0 402.4 247.5 404.3 248.1 407.0 249.8 409.4 249.4 411.4 250.1 413.1 250.6 415.8 249.7 418.0 251.5 418.9 252.3 420.1 253.3 422.5 255.3 422.2 257.4 422.8 259.0 423.0M351.8 260.5 352.4 261.8 352.5 264.1 353.3 265.9 350.5 266.9 349.4 268.4 347.3 270.1 345.7 270.8 343.3 271.2 341.4 272.5 341.3 274.3M341.3 274.3 334.2 274.3M341.3 274.3 341.3 277.5 336.0 277.5 335.9 282.2 334.3 283.1 334.2 286.3 327.8 286.3M341.3 275.1 347.5 279.4 344.8 279.4 346.2 295.2 346.6 295.6 346.1 297.1 340.0 297.1 337.8 297.3 336.5 296.9 335.3 298.4M328.3 296.2 330.0 296.0 331.6 295.0 333.5 297.1 335.3 298.4 335.5 300.6 336.5 302.9 334.8 302.8 332.8 302.5 331.3 302.7 329.4 303.3 327.9 302.9M327.8 300.6 330.7 300.3 332.6 301.0 330.7 301.4 327.7 301.6M332.8 302.5 332.8 304.2 330.6 305.5M333.4 309.2 334.9 307.5 336.8 307.4 337.8 309.2 338.3 310.1 337.6 311.7 336.3 313.1M338.3 310.1 339.8 310.3 339.9 312.2 341.2 311.8 341.6 314.1 342.9 315.2 342.9 317.8M341.2 311.8 342.2 309.6 342.1 307.0 341.6 305.5 339.8 303.2 337.7 303.6 336.5 302.9M342.1 307.0 345.0 306.4 346.2 306.6 347.5 307.9 350.6 307.9 350.8 311.1 349.9 313.3 350.4 314.9 350.4 316.5M350.6 307.9 350.6 305.5 352.8 305.3 354.9 305.3 355.9 308.3 356.2 310.7 356.4 313.3 357.2 314.6M356.7 305.5 357.1 307.3 357.8 309.2 357.4 311.2 358.3 312.9 357.8 314.4M361.1 304.2 361.4 306.4 360.1 307.7 359.8 309.2 360.1 311.0 359.6 312.2 359.6 314.1M354.9 305.3 356.7 305.5 357.5 303.6 358.8 302.9 361.1 304.2M346.2 306.6 346.5 304.0 348.0 303.1 348.2 301.4 349.8 300.8 350.8 299.5 351.9 299.3 354.1 297.8 355.5 298.2 356.8 301.0 358.8 302.9M355.5 298.2 357.2 298.1 358.8 297.2 360.9 297.3 362.0 295.2 361.7 293.5 361.8 292.2 362.0 290.4M362.0 290.4 360.4 289.1 358.1 288.1 347.5 279.4M362.0 290.4 364.6 289.8 367.3 287.0 374.5 282.2M361.1 304.2 362.0 302.4 361.9 300.8 364.1 300.4 365.8 300.6 368.3 301.2 370.7 302.1 372.9 301.8 374.8 301.4 377.4 300.4M377.4 300.4 377.2 299.0 380.4 294.5 379.6 288.7 381.0 285.9 379.3 283.1M374.5 282.2 379.3 283.1M374.5 282.2 372.8 281.0 371.2 280.3 371.0 278.4 370.2 277.1 370.3 275.3 371.0 273.8 370.6 271.6 370.2 269.7M370.2 269.7 369.7 267.8 369.3 266.3 368.3 265.0 366.9 263.5 368.1 261.1 368.0 259.3 368.4 257.2M370.2 269.7 371.4 266.9 373.2 265.4 373.2 264.1M394.5 267.1 395.5 285.0M395.5 285.0 395.7 288.7 394.0 288.7 394.1 289.6 379.3 283.1M395.5 285.0 414.7 285.0M394.1 289.6 394.3 296.7M394.3 296.7 392.5 297.1 392.1 299.2 391.5 301.8 391.8 303.4 392.1 305.5 392.7 305.7M392.7 305.7 391.2 307.0 389.7 308.3 387.8 308.9 386.4 309.4 383.9 311.5 382.2 312.3 380.7 312.0M380.7 312.0 380.2 309.7 379.8 307.5 380.6 307.2 380.0 305.4 379.1 304.3 378.4 302.7 378.3 301.6 377.4 300.4M378.3 301.6 377.6 303.2 377.8 305.5 376.6 307.6 375.7 309.8 375.4 311.8 374.1 313.3 371.6 313.1 370.2 315.2 369.3 317.0M380.7 312.0 379.2 314.8 379.2 317.6 380.3 319.2 380.9 320.5 381.7 321.9M381.7 321.9 376.9 321.9 373.8 321.9 371.3 321.7M373.8 321.9 373.8 324.1 371.3 324.1M376.9 321.9 378.9 323.4 378.6 324.9 379.1 326.9 378.9 329.7 377.2 329.9 375.8 330.5 374.3 331.2 374.8 332.7 373.5 333.3M381.7 321.9 382.5 319.5 384.4 319.3 385.8 319.5M385.8 319.5 384.8 322.3 384.8 324.1 384.5 326.0 383.3 327.8 382.4 329.4 382.3 331.0 381.5 332.5 380.2 334.0 378.9 335.1 377.2 335.1 376.6 334.6 376.3 334.2 374.9 335.3M376.6 334.6 376.8 334.8 375.8 336.8 375.3 336.8M385.8 319.5 386.5 317.2 388.4 317.5 390.1 318.3 392.2 318.4 394.0 317.9 395.5 316.7 397.8 316.6 400.3 316.5M400.3 316.5 398.9 314.8 398.0 313.3 396.8 312.0 394.9 309.8 393.8 309.4 393.9 307.7 392.7 305.7M393.9 307.7 396.2 306.8 398.7 308.3 401.1 308.7 403.6 307.4 406.0 307.9 406.9 306.0 408.1 304.0 409.5 303.2 409.3 305.9 411.0 308.3M411.0 308.3 410.4 309.8 409.4 311.1 411.0 310.3 411.7 312.4 413.0 314.0 413.3 315.9M413.3 315.9 411.2 318.2 409.4 318.1 408.1 319.3 406.2 319.1 406.1 319.5 403.7 317.6 402.0 317.6 400.3 316.5M411.0 308.3 412.4 305.9 413.8 304.2 414.2 302.3 414.8 299.3 415.2 297.5 415.6 296.0 415.4 294.3 417.7 292.4M414.8 299.3 417.2 298.8 418.9 299.1 420.5 299.1 421.7 300.5 423.0 301.6 424.6 302.7 425.7 302.3M424.6 302.7 423.7 305.5 425.6 304.6M423.7 305.5 425.3 305.7 426.2 307.5 427.4 309.2 428.8 310.0 430.6 310.0 432.4 311.1 434.0 311.1 432.5 312.5 431.5 313.7 430.1 315.2 429.2 316.7 427.7 316.9 426.0 317.2 424.3 318.2M424.3 318.2 422.7 318.7 420.2 319.7 417.8 319.3 416.0 318.8 414.4 317.8 413.3 315.9M424.3 318.2 422.7 320.8 422.9 322.5 422.6 324.5 422.7 326.0 422.7 327.5 423.6 329.2M411.2 318.2 412.0 320.4 412.8 322.8 411.2 325.4 411.2 327.9M411.2 327.9 413.0 328.4 414.3 329.2 415.5 331.0 417.1 331.6 417.3 332.5 418.1 334.0 419.7 334.8M406.1 319.5 406.3 321.7 404.6 323.8 404.1 326.2 404.0 328.6M404.0 328.6 405.4 327.9 407.3 327.3 409.5 328.0 411.2 327.9M404.0 328.6 403.3 330.8 403.0 331.2 403.4 334.2 405.0 333.6 405.9 332.2 405.4 330.5 405.9 327.9M403.0 331.2 405.4 330.5M403.4 334.2 403.7 337.2 404.7 339.0 405.6 341.3M405.6 341.3 402.6 341.9 401.8 343.3 402.1 345.6 401.7 348.0 402.6 349.1 404.0 348.8 403.9 351.0 401.8 349.9 399.7 348.0 398.4 347.4 396.6 346.9 395.2 347.1 394.5 346.3M394.5 346.3 391.7 346.5 391.0 343.7 391.2 340.9 389.6 340.5 388.1 339.1 387.2 340.0 385.7 341.1 383.9 341.1 382.7 339.0 382.5 337.0 380.5 337.5 379.3 337.4 377.2 337.0 375.4 337.2M394.5 346.3 394.4 350.2 391.2 350.2 391.0 356.2 393.2 358.8M393.2 358.8 391.3 358.9 389.3 359.6 387.5 358.8 385.3 358.5 383.3 358.9 381.4 358.2 380.0 358.2 378.0 358.5 376.1 358.1 374.4 358.1M393.2 358.8 396.3 359.2M389.3 359.6 389.1 367.0 387.5 367.0 387.3 372.3 387.0 379.0M387.0 379.0 385.4 379.9 382.8 379.5 381.4 379.3M387.3 372.3 387.9 374.3 388.4 376.0 390.4 375.0 392.0 373.2 394.3 373.3 396.0 373.9 397.1 373.0 398.2 371.3 398.9 369.5 400.3 368.5 402.6 367.4M402.6 367.4 401.7 365.8 400.0 364.2 398.6 362.9 397.7 361.4 396.3 359.2M396.3 359.2 399.0 359.6 400.0 357.9 401.0 357.3 402.3 355.8 404.7 355.1M404.7 355.1 406.8 356.0 408.7 357.1 408.7 359.4 408.5 361.4 408.5 363.8 407.7 365.7 405.6 367.8M402.6 367.4 405.6 367.8 406.3 369.8 406.6 371.7 406.4 374.3 407.7 376.0M404.8 374.1 406.4 374.5 406.2 376.4 404.6 376.7 404.8 374.1M398.0 381.2 399.3 380.4 400.6 379.3 401.8 380.8 399.9 383.1 398.3 382.5 398.0 381.2M404.7 355.1 404.5 353.6 406.2 352.9 408.1 353.0 409.4 352.1 408.6 351.2 409.2 349.3 409.5 347.9 409.8 346.1 409.2 343.5M409.2 343.5 407.2 343.1 406.1 342.0 405.6 341.3M409.2 343.5 411.0 343.7 411.2 345.9 411.9 347.6M411.9 347.6 414.1 347.6 415.8 347.2 417.4 347.1 419.8 346.8 421.4 345.6M411.9 347.6 412.0 349.3 412.4 351.2 413.8 353.8 413.1 355.4 412.6 357.3 411.2 356.2 411.1 354.3 411.2 352.9 409.4 352.1M571.0 200.9 580.0 206.8M345.2 224.2 344.1 225.1 346.5 225.8M342.0 247.9 342.9 247.7 345.3 247.9 345.9 248.5 344.8 249.6 344.6 252.0 343.8 252.2 344.5 254.8 343.8 256.6M352.5 245.2 354.2 246.2 356.2 246.3 358.1 247.1 360.0 247.0M366.4 244.4 365.5 242.2 365.5 240.6 364.1 240.0 365.4 237.8 366.2 237.5 367.0 234.9 364.4 234.0 363.5 234.0 361.2 233.1 358.7 231.1M360.0 230.6 362.3 230.6 363.7 231.3 363.7 231.7 363.9 232.9 364.4 234.0M363.7 231.7 363.7 229.9 365.0 228.8 365.2 227.2M367.0 224.4 368.7 224.5M375.1 226.1 375.7 228.6 376.5 231.3 376.2 231.5 374.2 231.8 372.7 232.6 373.8 234.0 375.1 235.3 374.1 237.6 372.2 238.1 370.5 237.6 369.2 237.6 366.2 237.5M365.5 240.6 367.7 240.0 368.4 240.6 370.4 239.3 369.2 238.4 369.2 237.6M370.4 239.3 373.0 238.6 375.2 239.5 377.0 239.1 378.7 238.9M375.1 235.3 376.8 234.9 379.6 235.6 380.0 236.7 378.7 238.9M376.2 231.5 378.3 232.2 379.8 233.4 382.2 233.8 383.7 234.4 385.9 234.7 387.6 234.7M382.2 233.8 379.6 235.6M380.0 236.7 382.5 237.1 384.8 235.8 387.1 236.0M382.6 225.3 384.7 225.0 386.7 225.3 387.8 226.1 388.7 228.3 388.6 230.4 389.4 232.0 388.0 233.2 387.6 234.7 387.1 236.0 388.4 236.7 391.4 237.3 393.7 236.2 394.9 236.0 397.5 236.7 398.2 238.1 399.1 239.6 396.7 241.3 399.0 241.7M393.7 236.2 395.1 237.6 395.7 239.4 396.7 241.3M386.7 225.3 386.6 224.2 384.3 223.7M384.0 222.3 385.5 221.9 387.6 222.2 389.2 221.9 391.6 223.0 390.9 225.4 387.8 226.1M387.9 219.1 390.1 219.3 392.1 219.8 392.0 217.4 392.2 216.4M392.1 219.8 393.6 222.1 391.6 223.0M393.6 222.1 395.5 222.3 397.5 223.1 398.4 224.7 399.4 226.3 400.8 227.0 400.0 229.3 398.0 229.4 396.2 230.4 394.1 230.4 392.3 230.3 390.5 229.7 388.6 230.4M400.0 229.3 402.1 229.5 403.7 229.9 404.8 231.3 405.8 232.4 407.9 232.5 409.6 233.3 412.7 233.8 412.6 235.4 412.8 237.1 410.9 238.4M388.4 236.7 386.8 238.3 386.0 240.0 385.0 240.2 383.0 240.6 381.1 240.5 379.3 239.5 378.7 238.9M385.0 240.2 387.0 242.6 388.9 243.7 389.4 244.4 391.1 244.3 393.1 244.6 395.3 243.9 397.8 244.6M388.9 243.7 388.7 246.3 388.8 247.2 389.9 249.0 392.9 249.0 394.8 248.3 397.3 247.7M394.8 248.3 394.9 249.8 394.5 250.1M375.2 241.3 377.7 241.3 379.3 239.5M378.5 241.8 380.1 241.8 383.3 242.2 384.0 243.7 383.8 245.0 382.9 246.6M378.5 241.8 379.2 243.7 381.5 245.9 382.9 246.6M384.4 247.9 385.1 246.6 386.2 247.9 386.1 249.4 387.0 249.9 386.5 251.2 385.6 252.0M387.0 249.9 389.9 249.0M386.2 247.9 388.8 247.2M385.1 246.6 385.8 245.5 383.8 245.0M370.1 217.4 371.2 215.2 371.4 213.0 370.8 210.4 371.3 209.0 372.8 208.0 373.7 205.2 375.3 202.8 377.1 201.5 379.8 200.7 382.0 201.3 383.7 202.4 384.3 203.8 384.9 205.5 385.2 205.8M379.8 200.7 381.8 200.4 383.7 200.4 386.0 200.4 386.0 199.1 388.3 199.0 389.9 200.4 392.0 199.8M389.9 200.4 389.4 200.9 391.7 202.8 390.8 204.0 392.5 206.0 392.6 208.0 394.1 208.8 395.5 210.6 394.2 211.9 394.0 213.5 391.6 214.7M417.7 248.7 419.5 248.6 420.9 249.4 421.5 251.4 423.3 252.0 422.2 252.5 423.0 254.4 424.1 256.6 422.2 256.2 420.5 256.8 418.7 257.5 416.9 257.4 413.8 257.4 411.9 258.5 410.9 259.0M414.8 245.2 416.3 245.5 417.7 246.1 419.6 246.6 421.4 247.6 423.5 247.8 425.1 248.1 428.1 248.1M425.1 248.1 423.1 249.0 420.9 249.4M423.1 249.0 424.3 250.7 426.0 252.4 425.6 253.5M423.3 252.0 425.6 253.5 428.3 252.4 430.0 254.4M420.5 256.8 420.2 258.8 419.2 261.1 417.7 262.9 415.8 263.7 414.3 264.4 412.9 265.8 411.1 265.0M411.2 261.5 412.2 262.2 411.3 263.9 410.1 264.3M411.1 265.0 411.1 267.3 411.2 269.2 410.6 271.0M409.1 267.6 409.5 269.7 410.5 271.0M410.7 271.2 412.3 271.5 414.5 270.1 415.2 269.1 413.4 267.3 416.5 266.3 416.8 266.1 415.8 263.7M416.8 266.1 418.7 266.5 421.4 268.0 423.3 269.0 424.4 270.7 426.1 271.5 428.9 271.7 430.6 269.9 431.1 270.2M428.9 271.7 430.6 272.1 432.1 272.8M424.1 256.6 425.3 257.7 426.4 259.2 425.9 260.8 426.0 262.6 427.2 264.5 428.9 265.5 430.3 266.7 431.0 269.1 431.9 270.1M424.9 295.4 425.4 293.5 428.3 293.5 430.2 293.8 431.6 294.3 432.8 292.8 434.7 291.3 436.4 291.1 438.0 291.1 439.5 290.6 441.4 290.3 442.6 289.3 444.2 288.7 444.1 286.9 444.9 285.0 444.1 283.7 442.2 283.4 439.9 283.3 438.1 281.1M444.1 283.7 444.8 280.9 445.2 279.9 445.6 279.6M439.5 290.6 439.9 292.0 441.1 293.8 441.6 295.0M436.7 279.9 437.3 280.1M438.1 256.4 439.3 255.4 441.3 255.0 443.0 254.8 444.5 255.3 446.3 256.1 447.6 257.0 449.6 257.7 449.2 259.5 449.2 260.9 449.5 262.6 450.3 264.1 450.6 265.7 451.2 267.3 452.5 267.4 451.6 270.4 453.4 271.8 455.1 273.4 456.1 276.0 454.7 277.5 453.9 279.0M451.6 270.4 453.0 271.1 454.9 270.7 456.6 271.2 458.3 270.8 460.1 270.2 460.3 267.8 461.9 266.9 464.1 266.5 463.9 264.3 464.3 262.6 465.9 261.8 465.6 259.9 465.7 257.9 468.1 257.9 469.9 257.0M449.6 257.7 450.0 259.6 452.5 260.2 454.8 258.3 456.6 257.4 457.4 256.3 459.9 257.0 461.9 255.9 463.0 255.9 464.4 254.6 464.5 256.3 465.6 257.6 468.2 256.3 470.4 256.6M464.8 281.8 466.9 281.5 469.2 280.5 468.2 278.4 467.0 276.6 467.2 273.8 469.7 273.2 470.7 271.5 472.1 270.1 472.6 268.2 472.3 265.4 473.3 264.8 470.8 263.5 470.3 261.3 472.6 261.0 474.5 259.8 475.8 259.8M470.4 256.6 471.4 257.8 472.7 258.9 475.8 259.8 477.3 260.9 478.2 262.0 479.0 263.5 478.8 265.4 480.0 268.2 481.5 269.1 483.2 269.7M483.2 269.7 482.3 272.3 484.3 272.7 485.8 273.8 487.4 274.7 489.6 275.3 491.7 276.0 493.7 276.5 496.0 276.8 495.4 274.0 493.9 274.3 492.0 273.8 490.7 272.6 488.7 272.6 487.6 271.5 485.5 270.9 483.2 269.7M495.4 274.0 496.9 275.1 497.8 273.4 499.3 273.8 501.0 274.2 502.0 275.8 500.3 276.0 498.6 276.2 496.9 275.1M501.0 274.2 502.5 272.6 504.2 271.5 507.4 271.4 508.9 272.1 509.9 273.4M509.9 273.4 508.6 275.3 507.5 277.5 506.8 279.4 506.2 281.4 505.1 281.2 505.3 282.9 505.8 285.0 504.5 285.2 504.3 287.2M498.8 285.3 498.2 283.3 497.8 280.7 496.5 279.9 496.4 276.8 498.8 277.5 499.0 278.8 501.4 279.1 503.3 279.4 501.7 281.2 502.3 282.7 503.6 282.0 504.0 283.7 504.5 285.2M509.9 273.4 512.4 274.7 512.5 276.2 513.1 277.9 511.7 280.5 514.1 281.2 514.1 283.3 515.1 284.8 517.1 285.0 518.5 285.9M518.5 285.9 517.1 288.0 515.4 288.5 514.8 289.9 513.9 291.5 513.2 291.5 513.6 293.2 514.9 294.3 516.2 295.6 515.3 297.7 515.9 299.2 517.3 300.8 517.4 302.3 518.3 304.0 517.2 306.8M517.1 288.0 518.1 289.6 519.3 289.6 519.2 292.8 520.9 292.1 524.0 291.9 525.5 293.7 525.8 295.8 527.1 296.7 527.4 299.0M527.4 299.0 526.9 299.3 525.2 299.7 523.4 299.5 522.5 300.6 523.6 302.3 523.7 304.2M519.9 284.2 521.1 285.4 522.0 287.2 524.2 288.0 523.6 289.3 525.8 290.9 526.9 292.7 528.4 294.3 529.1 295.9 530.4 296.9 530.6 298.6M530.6 298.6 530.4 300.8 531.1 302.9 528.8 304.2 528.5 305.5 526.5 306.6M527.4 299.0 528.2 299.3 530.6 298.6M518.5 285.9 519.9 284.2 521.1 284.0 523.2 283.6 524.6 282.5 526.8 283.3 527.3 285.0 529.5 285.9M519.7 313.9 521.3 315.2 521.5 315.6 523.1 314.4M535.7 322.3 536.4 324.1 539.4 324.1 541.0 323.4 542.7 323.3 544.1 323.2 545.4 320.4 545.6 318.2 548.7 318.2M542.8 317.4 544.1 318.5 544.9 318.0 544.4 316.7M481.4 234.6 483.1 235.9 484.8 236.3 486.3 238.0 487.9 238.7 488.3 240.2 489.4 241.8 491.0 242.3 493.2 242.8 495.2 242.7 496.6 243.5 497.8 245.0 499.5 246.4 501.4 246.2 503.4 247.0 505.1 246.3 507.3 246.8 509.5 246.9 511.2 247.5 513.0 248.3 515.2 247.5 517.0 247.2 519.2 246.8 520.8 246.0 521.7 244.6 520.4 242.2 522.2 242.1 523.5 242.3 525.3 241.5 527.1 239.5 530.1 239.1 528.3 238.3 526.3 236.9 523.3 236.7 522.4 236.4 522.3 233.5M481.4 234.6 483.4 233.3 485.1 232.4 486.4 231.7 488.0 232.6 490.3 233.1 492.1 232.8 493.5 233.4 495.1 233.3 494.6 231.8 493.9 229.9 495.8 230.5 497.9 230.9 500.0 230.8 500.8 232.4 502.8 232.0 505.3 232.2 507.2 232.6 508.8 233.1 510.9 233.1 512.8 233.9 514.7 234.4 516.2 233.5 518.0 232.8 520.3 232.6 522.3 233.5M522.3 233.5 524.4 234.0 524.3 232.4 524.7 230.2 523.6 228.6 523.7 227.4 525.7 227.0 527.2 226.8 528.7 226.8 530.1 227.9 531.8 228.3 533.4 229.3 534.8 230.5 536.2 232.1 537.5 233.1 539.1 234.2 541.6 234.5 543.5 235.1 545.4 237.3 548.0 237.1 550.0 236.2 550.4 238.2 551.1 239.9 551.4 242.0 548.9 242.4 549.7 244.1 550.9 245.2 551.1 247.0M551.1 247.0 549.1 245.9 547.8 247.7 548.1 248.8 545.9 248.1 545.5 249.8 544.0 251.2M548.8 255.7 549.6 254.6 551.5 254.0M480.7 234.6 480.0 236.5 480.3 238.4 478.0 238.5 476.1 238.2 476.3 241.3 473.9 242.2 474.6 244.1 475.8 245.7 475.5 247.4M475.5 247.4 474.2 248.3 473.0 249.6 470.4 250.7 467.4 251.8 467.4 252.5 467.8 254.2 469.1 255.2 470.5 256.3M480.7 234.6 478.8 234.3 477.0 233.1 475.0 232.3 473.6 231.3 471.4 231.5 469.1 231.7 467.7 230.9 466.5 229.7 464.7 228.6 463.9 227.2 461.2 225.8 459.4 226.4 457.4 226.8 455.9 225.8 454.1 225.2 452.5 223.7 449.7 223.7 447.7 224.6 445.3 225.3 443.4 225.3 441.7 225.4 439.9 226.1 440.4 228.1 442.0 229.2 442.5 231.3 439.9 232.0 438.0 231.7 436.4 231.8 434.7 231.5 433.3 231.3 430.9 231.3 428.7 230.4 426.9 230.1 425.5 230.6 424.4 232.0 422.4 233.3 423.0 236.0 424.3 236.8 425.7 238.0 426.9 239.5M475.5 247.4 473.3 246.1 471.4 245.8 469.5 246.2 467.3 246.1 465.4 247.0 463.3 247.0 461.7 247.2 461.7 247.5 459.2 248.8 457.5 248.8 455.5 249.2 454.8 247.2 453.8 245.9 452.4 245.4 450.4 244.5 449.0 244.7 447.2 244.3 445.6 243.5 444.4 242.3 443.2 241.6 441.4 241.1 439.6 241.9 437.9 242.2 438.2 243.9 438.6 245.6 439.7 247.2 439.6 249.0 437.6 248.5 436.2 247.2 434.2 248.1M439.6 249.0 441.2 249.0 442.7 246.4 445.2 247.4 447.1 248.3 448.7 249.6 450.2 250.9 451.8 252.0 453.7 253.5 455.3 255.3 457.4 256.3M459.9 257.0 459.5 254.9 457.9 252.9 459.1 251.4 460.0 249.9 462.1 251.1 463.7 250.4 465.7 249.9 463.4 248.8 461.7 247.5M462.1 251.1 460.7 252.4 462.2 252.0 463.8 252.7 465.7 252.8 467.4 252.5M587.4 330.8 586.6 343.0" fill="none" stroke="#b8b8b8" stroke-width="1.2" stroke-linejoin="round" stroke-linecap="round"/>
<path d="M172.8 197.1 174.0 197.0 175.2 197.8 177.0 197.9 178.1 198.1 179.7 197.6 180.8 198.5 182.3 198.0 183.5 199.1 184.6 198.6 186.5 199.5 187.5 199.8 188.6 199.4 190.2 200.7 191.1 200.7 192.2 200.6 193.1 201.2 194.4 200.7 195.6 199.9 196.4 199.2 198.1 199.2 199.0 198.9 200.1 199.5 201.3 199.1 202.5 199.0 204.4 198.5 205.7 198.0 207.2 199.1 207.4 200.1 208.5 200.3 209.9 199.7 210.9 199.9 212.3 199.9 213.6 200.9 214.9 200.9 215.6 202.6 216.9 202.1 218.4 202.6 219.1 202.9 220.2 203.3 221.8 202.4 223.5 201.9 224.8 201.8 226.5 201.5 228.0 202.3 229.3 201.6 230.3 203.0 231.4 202.6 232.5 203.2 234.0 202.8 235.2 202.5 236.5 202.3 238.3 202.7 239.2 202.0 240.4 200.8 241.5 199.9 242.0 198.5 243.7 198.4 244.3 198.2 245.0 196.7 245.9 196.2 246.3 198.4 246.6 200.2 248.4 201.0 248.6 203.1 249.5 201.9 251.0 202.3 251.4 201.3 252.7 200.0 254.0 199.9 255.0 199.2 256.9 199.4 257.9 199.4 257.4 201.5 257.0 202.8 255.3 203.2 254.8 203.9 253.2 203.9 252.8 205.0 251.5 205.0 250.0 205.2 249.2 204.9 247.7 204.9 246.7 206.6 245.4 208.0 244.4 208.8 242.6 208.8 241.2 209.6 239.5 209.6 238.6 209.9 237.9 211.4 236.4 211.3 235.6 212.1 234.0 212.0 233.5 213.2 232.7 213.8 231.8 214.2 230.6 215.5 229.3 216.4 229.5 217.6 229.2 219.5 230.1 220.7M252.2 219.8 252.1 218.9 251.4 217.6 251.5 216.5 252.2 215.8 253.1 214.7 254.6 213.6 254.7 212.5 255.6 211.5 256.7 210.8 258.3 211.4 259.9 211.8 260.6 212.9 262.3 213.3 263.5 214.7 263.9 216.5 262.9 217.2 264.3 218.4 265.6 218.1 267.4 217.6 268.1 217.0 269.7 215.6 270.3 215.0 270.2 216.9 271.1 218.1 271.7 219.1 272.1 220.5 271.7 221.6M175.9 221.6 176.0 219.9 176.3 219.0 175.1 218.1 174.0 217.8 172.6 218.6 172.6 217.2 171.3 215.9 169.7 215.5 168.2 215.9 166.4 215.5 164.7 214.7 163.6 213.8 162.6 214.7 161.6 215.1 160.2 215.2 158.1 215.9 156.8 216.8 155.8 216.7 154.6 216.7 155.7 215.5 156.2 214.7 157.6 214.0 158.4 213.9 159.5 213.5 158.6 213.8 157.3 214.5 155.9 215.9 154.6 215.5 153.5 216.6 151.8 216.3 150.7 217.2 149.6 218.3 148.1 219.0 146.7 219.4 146.1 220.5 145.0 220.6 143.6 220.7M142.5 219.8 143.6 219.8 144.1 217.9 145.5 217.7 143.7 217.6 141.7 217.6 140.8 218.4 139.5 217.7 140.0 216.4 141.8 216.4 142.1 215.5 140.5 214.7 140.2 213.3 141.0 212.1 142.0 211.0 143.1 211.4 144.4 210.4 146.3 210.9 147.4 210.1 148.8 209.4 149.6 209.5 150.8 209.4 152.4 209.2 152.6 208.0 150.8 208.0 149.2 208.5 147.6 208.0 147.3 206.3 146.5 206.0 147.6 205.7 148.7 204.9 150.3 205.0 151.5 205.2 153.4 204.5 155.0 205.2 156.2 204.6 157.4 203.9 155.4 203.6 156.5 202.3 155.4 202.8 154.4 201.6 155.9 201.5 157.3 200.9 158.8 199.7 160.4 200.6 161.1 199.9 162.2 198.7 164.1 198.7 165.4 197.6 166.2 197.9 168.1 197.8 169.0 197.7 170.1 198.1 171.8 196.7 172.8 197.1M148.6 219.1 150.0 220.0 148.8 220.5 147.3 221.0 146.7 220.2 148.6 219.1M137.2 209.6 138.8 210.0 139.7 210.1 139.3 209.4M135.9 215.2 137.0 215.7M172.8 219.1 173.3 220.7M174.8 220.2 174.6 218.6 172.8 219.1M175.3 219.3 174.7 221.4M271.2 212.3 269.6 212.7 268.9 211.2 267.7 211.6 266.7 211.6 265.6 210.8 264.5 210.3 263.9 209.3 262.4 209.2 261.5 208.0 259.8 208.5 258.7 207.4 257.5 208.3 257.6 207.1 259.3 206.5 260.1 206.6 261.4 205.9 262.9 206.6 263.7 205.6 264.7 204.7 265.3 203.2 266.8 202.3 264.6 201.8 263.5 201.5 263.5 199.9 261.7 199.1 260.6 199.9 259.7 200.0 258.0 199.3 257.1 199.6 255.7 199.0 254.6 199.1 253.1 198.3 251.6 198.4 251.7 196.8 252.6 195.5 252.6 194.6 253.5 194.2 254.6 195.1 256.1 194.4 257.1 193.1 258.3 194.3 259.2 193.5 260.6 193.9 261.5 192.9 262.9 193.5 263.7 193.5 263.4 195.3 264.9 195.7 266.2 195.2 267.0 195.0 268.3 196.0 269.5 196.4 270.7 196.3 272.4 197.3 273.6 197.4 274.4 198.7 275.2 200.2 274.4 201.6 273.3 201.5 274.8 202.2 276.3 202.6 277.8 203.5 279.3 203.9 279.5 204.7 278.9 205.1 277.1 205.6 276.6 206.5 275.7 207.1 275.1 206.6 273.7 206.3 272.6 205.9 271.2 206.3 272.5 207.0 273.0 208.8 272.8 210.4 271.8 210.1 270.2 210.4 268.9 209.3 269.2 211.2 270.0 212.1 271.2 212.3M229.1 201.0 230.3 200.8 231.9 200.4 233.2 200.6 234.3 199.9 235.2 198.4 234.5 197.9 233.0 197.6 233.2 196.3 234.7 195.3 233.8 194.5 232.4 194.3 231.7 194.1 230.3 195.0 228.9 193.9 228.1 193.9 226.9 194.1 225.7 194.1 224.9 194.3 223.5 193.9 221.6 194.1 221.1 195.9 219.8 195.3 217.7 195.8 216.9 196.8 217.5 198.4 218.3 198.8 219.9 199.5 220.2 200.4 218.8 201.0 217.6 201.2 216.3 200.7 216.8 201.7 218.5 201.5 219.7 202.0 221.0 202.0 222.2 200.8 222.6 201.2 224.2 201.2 225.4 200.3 226.5 201.0 227.8 200.4 229.1 201.0M210.2 196.1 210.9 197.4 212.2 196.9 213.2 196.2 214.0 197.5 215.3 196.7 216.8 196.9 217.7 196.6 218.6 195.4 219.9 195.2 221.4 195.6 222.0 194.3 222.8 193.9 224.4 193.8 223.0 192.6 221.5 193.2 220.3 192.8 219.5 192.3 218.5 192.8 217.2 192.5 215.7 192.6 214.3 194.0 213.2 194.6 211.7 194.6 210.8 195.5 210.2 196.1M226.0 191.2 227.1 192.5 228.8 192.5 229.7 192.7 231.4 192.6 232.8 192.5 233.5 191.6 235.2 191.7 236.2 192.2 237.3 191.1 238.6 190.4 239.6 190.4 238.7 189.4 237.3 189.6 235.8 189.6 234.5 189.5 233.3 190.1 231.3 190.1 230.3 189.6 229.5 189.9 227.5 189.9 227.4 190.7 226.0 191.2M240.2 191.3 241.1 190.8 242.4 191.1 243.8 191.0 245.6 191.7 246.5 191.6 248.0 191.1 249.2 189.7 248.0 189.7 247.1 189.7 245.9 189.3 244.8 190.3 243.2 189.0 241.6 190.2 240.2 191.3M253.1 192.2 254.4 192.3 255.2 192.9 256.5 192.0 257.8 192.2 259.0 192.5 260.5 193.2 261.0 193.0 262.7 191.5 263.7 192.9 264.5 192.3 266.1 192.0 267.4 190.6 265.7 190.8 264.5 190.0 263.7 189.8 262.4 191.2 260.8 190.6 259.6 190.2 258.7 189.2 257.5 189.4 256.6 189.4 255.2 190.2 253.9 190.9 253.1 192.2M258.4 189.7 259.7 188.9 261.0 189.2 261.6 189.9 262.6 189.0 264.1 189.8 264.7 188.9 266.3 189.6 267.1 189.3 268.0 189.7 269.5 189.1 270.6 189.4 272.1 189.6 273.0 189.0 273.3 187.6 274.8 187.3 276.2 187.8 276.5 186.6 278.2 186.5 278.9 186.2 280.3 186.0 281.9 185.9 282.1 185.0 283.7 184.8 284.8 185.1 286.5 184.9 287.2 184.2 288.6 184.6 289.8 183.5 290.9 183.6 292.1 182.1 293.4 181.7 294.3 181.7 293.4 181.7 291.9 182.0 290.3 181.2 289.5 182.0 287.8 181.7 287.0 181.2 286.2 181.8 284.7 181.9 283.1 180.5 281.8 180.8 281.1 180.5 279.4 181.7 278.9 180.8 277.3 181.2 276.3 181.0 275.2 181.6 274.4 182.0 273.0 182.0 272.0 180.9 270.8 181.1 269.2 182.2 268.4 181.5 267.3 183.0 266.1 182.3 264.7 183.0 264.0 183.5 262.6 183.5 263.2 184.4 265.3 184.2 266.2 184.7 266.0 186.7 265.1 186.4 264.2 187.9 262.6 186.7 261.0 187.4 260.2 188.0 259.7 188.9 258.4 189.7M255.2 186.9 256.4 187.7 257.5 186.4 258.3 186.5 259.8 185.9 260.8 187.4 261.8 186.7 263.0 186.9 264.0 185.1 266.1 185.4 266.6 184.3 265.5 184.2 264.1 183.7 262.9 183.2 261.8 182.8 260.2 183.4 259.0 183.6 258.2 184.2 256.9 184.7 256.4 185.9 255.2 186.9M238.9 194.6 239.8 194.8 241.3 193.4 241.9 193.3 243.5 193.4 244.3 194.9 243.5 196.5 241.9 196.8 240.2 196.8 239.4 196.4 238.9 194.6M247.2 193.1 248.7 193.7 249.1 192.7 250.6 192.4 251.7 193.1 251.4 194.2 251.9 195.3 250.7 196.0 249.0 195.6 247.8 196.1 246.0 194.9 247.2 193.1M236.7 199.9 238.2 200.1 238.7 199.9 240.1 199.4 240.1 201.2 239.1 200.6 237.9 201.2 236.7 201.3 236.7 199.9M246.9 206.3 248.1 206.5 249.5 205.4 251.2 205.5 252.6 206.5 252.5 207.6 253.4 208.8 252.0 209.6 251.4 209.7 249.7 209.9 248.9 210.8 248.0 209.5 245.9 209.6 246.3 208.2 247.2 207.2 246.9 206.3M264.6 193.8 265.9 193.3 267.1 193.6 268.5 194.6 267.1 193.9 266.0 194.9 264.6 193.8M237.7 187.3 238.8 188.1 240.0 188.0 241.5 186.9 242.1 188.1 243.7 187.5 244.6 186.9 245.6 186.7 247.1 186.9 248.0 187.6 249.4 187.3 250.2 186.2 251.8 186.8 253.2 186.0 252.3 186.3 250.9 185.4 250.1 186.6 248.7 185.9 247.9 185.5 246.5 185.6 245.1 186.3 244.3 186.0 242.5 186.3 241.6 186.4 240.5 186.4 238.8 185.7 238.0 186.4 237.7 187.3M224.1 190.2 225.3 189.9 226.8 190.5 228.5 190.2 229.5 188.4 231.0 188.3 229.7 188.5 228.5 188.6 228.0 188.5 226.6 188.5 225.8 190.0 224.1 190.2M252.5 211.3 253.3 212.1 251.6 212.8 252.5 211.3M278.6 186.7 280.2 186.5 280.8 185.3 282.0 185.5 282.9 184.8 284.8 185.0 285.6 184.7 286.6 183.7 288.5 184.4 288.7 183.3 290.9 183.9 291.1 183.1 292.8 183.4 293.8 182.3 295.1 182.9 295.8 182.8 297.0 182.6 298.6 181.9 299.2 182.6 300.4 181.5 301.5 182.0 302.5 181.3 304.2 182.2 305.0 181.0 306.1 181.7 306.9 182.1 308.2 182.1 309.7 181.5 310.6 181.5 312.0 181.0 313.2 180.9 314.2 180.8 315.4 180.0 316.6 180.7 317.6 180.7 319.2 181.1 319.9 180.6 321.1 180.6 322.5 180.0 323.8 180.0 324.6 180.7 326.2 180.7 327.1 181.0 328.9 181.5 329.5 181.2 331.0 181.4 332.0 182.3 333.6 181.7 335.2 182.5 336.2 182.5 337.7 181.7 338.8 182.3 339.2 183.1 341.1 183.1 342.0 182.0 343.2 182.9 342.3 182.7 341.0 182.9 340.1 183.4 338.5 184.5 337.8 184.7 337.3 185.7 336.0 185.9 335.6 187.2 334.0 187.3 334.9 189.0 334.4 190.2 333.2 191.3 332.9 192.3 332.1 193.9 331.4 194.8 329.9 195.3 329.0 195.8 327.6 196.4 327.1 197.6 328.4 198.4 329.2 198.7 328.1 199.9 327.2 199.2 326.1 199.3 324.7 199.5 324.1 200.7 322.6 201.3 321.8 201.4 320.5 201.2 318.9 202.0 317.9 201.9 316.4 202.9 315.6 203.3 314.8 203.9 314.2 204.5 313.1 205.4 311.4 204.9 310.0 205.7 309.2 206.0 308.3 206.9 306.8 206.4 305.1 207.1 305.1 208.6 304.2 209.6 302.8 210.4 302.3 211.7 301.3 211.8 300.3 212.8 299.9 214.5 298.9 214.7 297.3 215.5 296.3 215.4 295.1 214.3 293.6 214.7 292.6 213.8 292.2 212.0 291.0 211.3 290.4 210.3 290.1 208.8 289.1 207.7 289.9 206.7 289.6 205.5 290.1 204.5 290.9 203.3 290.4 202.3 291.5 201.2 292.1 200.4 293.2 200.5 294.5 199.9 292.5 199.7 291.7 198.4 290.8 197.2 291.7 196.1 292.6 195.0 292.2 193.1 291.3 192.1 291.4 190.9 290.0 190.5 289.3 189.8 287.7 189.9 286.7 190.2 285.1 190.7 284.1 189.5 282.9 190.9 282.0 189.7 280.9 190.2 280.4 189.0 279.2 188.3 278.6 186.7M324.7 206.3 325.3 205.5 326.4 205.1 328.1 204.9 329.5 204.7 330.8 205.4 331.5 205.4 333.0 205.2 334.1 205.3 335.4 205.7 336.7 205.2 337.8 206.0 338.2 207.1 337.0 206.9 336.3 208.3 335.3 207.9 334.3 209.4 332.3 209.1 331.7 209.8 330.4 209.1 328.6 209.1 326.5 209.0 327.6 207.5 326.6 206.7 325.1 207.3 324.7 206.3M368.0 220.3 369.4 219.5 369.2 221.4M384.2 220.0 385.6 219.5 387.0 220.7 388.0 220.2 387.8 218.4 386.5 217.7 386.4 216.9 388.2 216.4 389.4 216.9 390.7 215.5 392.2 216.4 393.6 215.9 395.0 215.7 393.8 214.5 392.8 214.7 391.4 215.5 390.1 214.3 389.3 214.8 388.2 215.0 386.4 214.9 385.5 215.7 384.2 214.7 383.4 214.7 382.8 213.0 382.5 212.1 382.7 210.4 383.7 209.5 384.3 208.8 385.9 207.5 386.9 206.5 385.2 205.8 383.8 206.6 382.6 206.3 382.0 208.0 380.8 208.0 380.1 209.4 379.4 210.1 378.8 210.7 377.7 211.6 377.6 213.8 377.9 214.7 379.2 214.8 379.9 215.5 379.3 216.7 377.6 217.9 377.4 219.8M371.1 219.8 371.1 218.5 370.1 217.6 369.2 216.4 368.7 217.2 367.8 218.6 366.6 218.6 364.6 219.0 364.1 218.0 362.7 217.6 362.2 216.2 361.8 215.5 361.7 213.8 361.7 212.1 363.0 212.0 363.5 210.8 364.8 210.1 366.0 209.6 367.8 208.8 368.2 207.8 369.6 207.1 370.7 205.5 371.2 204.0 372.3 203.4 373.9 202.0 375.6 200.7 376.6 199.8 377.7 199.4 379.1 199.0 380.6 198.8 381.3 197.8 383.3 197.6 384.3 198.4 385.6 197.6 386.9 196.9 388.0 197.6 388.8 198.4 390.5 198.4 391.8 198.7 390.8 198.9 389.6 199.4 390.4 199.5 392.0 199.6 393.8 199.1 394.5 200.1 395.7 200.8 397.0 200.4 397.9 200.7 399.0 201.4 400.3 201.2 401.4 202.4 402.8 202.8 403.8 202.6 404.6 202.8 405.5 204.2 404.6 205.2 403.7 205.7 402.2 205.3 401.2 205.9 399.3 204.8 398.3 204.7 396.6 204.6 395.8 204.4 395.0 203.9 395.1 204.9 396.5 205.6 397.5 206.3 398.9 208.0 399.3 208.3 401.4 209.0 402.9 208.3 402.1 207.1 404.1 206.9 405.1 207.8 406.1 207.8 404.9 206.0 405.8 205.0 407.0 204.9 408.6 205.3 409.6 205.2 409.5 203.9 409.1 202.6 408.2 201.5 409.2 201.6 410.8 202.0 410.6 203.7 411.6 204.0 412.0 203.3 413.6 202.9 414.5 202.2 415.8 202.3 417.4 202.7 417.7 202.5 419.1 201.6 421.1 202.0 422.7 202.1 423.8 201.3 425.4 201.4 426.0 201.0 427.1 199.6 428.3 200.7 429.2 199.8 431.3 200.8 432.2 200.2 434.3 200.7 435.6 201.0 436.5 201.6 437.9 201.8 437.8 200.7 436.7 200.1 435.6 200.5 434.7 199.4 433.6 197.6 433.4 196.5 434.1 194.9 435.0 194.6 436.3 194.7 438.2 195.0 439.1 195.4 439.1 196.6 440.4 197.6 440.5 199.0 441.4 200.7 443.5 201.0 444.2 202.3 444.5 203.9 443.9 204.7 445.8 203.9 446.3 202.3 445.5 201.5 444.3 201.2 443.2 200.2 443.4 198.6 442.3 198.4 441.3 197.5 440.3 196.4 441.3 195.3 442.6 196.2 444.2 196.1 444.9 196.8 446.4 197.6 447.4 195.8 447.0 193.8 447.9 193.3 449.7 193.9 451.2 192.8 452.2 193.4 451.7 191.6 452.6 190.9 453.6 190.4 455.1 190.6 456.3 191.0 457.5 189.6 458.8 190.0 460.3 189.5 461.5 189.0 462.7 188.8 463.6 189.4 464.7 189.0 465.8 187.8 467.1 188.0 468.7 188.3 469.6 188.1 471.3 188.8 471.9 189.2 473.4 190.2 474.4 188.7 475.3 190.2 477.0 189.7 478.0 190.6 479.6 190.9 479.5 192.1 481.2 193.1 479.3 193.4 480.3 193.9 481.3 192.8 482.9 193.5 484.0 194.1 485.2 193.1 486.4 193.7 487.2 194.5 488.3 194.2 490.1 193.8 490.9 194.6 492.1 194.8 493.3 193.7 495.1 194.3 496.5 194.4 497.7 193.8 499.4 194.1 500.7 194.8 501.7 195.6 502.9 195.0 504.2 196.1 504.8 197.1 506.1 197.6 507.1 197.7 508.7 196.8 509.7 197.4 511.3 197.4 511.7 196.8 513.3 196.8 514.9 196.7 515.9 195.3 516.4 194.9 517.3 195.6 519.0 194.6 519.6 195.0 521.1 195.1 522.2 194.6 523.2 195.6 524.6 195.6 526.1 195.2 527.4 196.5 528.5 196.1 529.9 196.3 531.1 196.8 532.6 196.7 533.2 197.7 534.4 198.5 535.7 197.8 536.4 197.9 537.8 198.6 538.9 197.3 540.5 197.9 542.1 198.1 542.9 198.0 543.9 199.5 545.5 199.8 546.8 198.9 547.9 199.9 548.7 200.1 550.3 199.8 551.9 200.3 552.8 198.8 554.6 199.4 555.6 199.8 556.5 199.6 557.5 200.1 558.8 200.7 557.6 199.1 559.2 199.4 560.3 198.7 561.2 199.7 563.1 200.0 564.1 199.4 565.2 199.5 566.3 200.5 568.0 200.1 568.5 200.8 569.8 200.2 571.0 200.9M580.0 206.8 579.8 208.0 577.8 207.5 579.2 208.0 579.9 209.1 580.9 209.6 582.2 208.8 582.9 210.8 583.9 210.4 585.0 210.5 585.9 211.5 584.8 211.4 583.9 211.8 582.3 212.1 581.6 213.1 580.6 213.8 579.5 215.5 578.4 216.2 576.7 214.4 575.6 214.4 574.3 215.0 572.7 215.1 572.0 215.9 571.9 217.0 573.3 218.1 573.4 219.3M566.1 221.0 566.0 219.3 567.1 218.0 566.7 216.4 566.7 214.7 567.2 213.0 566.2 212.4 565.8 211.3 564.8 211.5 563.8 212.6 562.1 212.5 560.9 213.0 559.7 213.1 558.2 213.0 559.2 214.3 558.9 215.9 557.5 216.1 557.1 217.2 555.7 216.8 554.2 217.2 553.2 216.5 552.0 216.2 550.6 216.2 549.5 216.8 547.9 216.7 546.7 217.3 545.4 217.1 544.3 217.1 544.6 218.4 543.3 219.5M352.5 219.6 351.1 219.7 349.8 219.5 350.9 217.9 349.9 217.1 348.5 217.9 347.6 219.1 347.1 219.8M345.8 218.6 346.9 218.1M350.8 217.2 351.5 216.9M353.2 215.5 353.6 214.5M346.2 212.1 346.5 211.6M379.8 220.7 380.7 219.1M384.6 218.4 385.9 217.9M366.6 185.4 368.3 185.9 368.9 185.0 370.6 184.7 372.0 185.3 373.5 185.0 374.3 185.1 375.6 184.3 376.6 183.8 378.0 184.5 379.0 184.0 380.5 184.8 382.1 184.4 382.8 184.7 382.0 184.8 380.4 185.9 379.4 186.5 378.3 186.7 377.6 188.0 375.5 187.6 374.6 188.7 373.2 188.6 371.4 189.2 370.4 188.2 369.5 187.3 368.2 186.9 367.2 185.7 366.6 185.4M415.1 196.8 415.5 195.8 415.6 194.6 415.5 193.5 417.0 193.1 417.3 191.6 417.8 190.6 419.7 190.3 420.5 189.9 421.9 189.9 422.3 188.9 423.8 189.9 424.9 189.6 425.8 188.5 427.5 188.2 428.3 188.7 430.2 189.7 429.1 189.9 427.9 190.4 426.4 191.5 424.9 190.9 424.0 191.4 422.9 191.6 422.5 192.6 420.3 193.3 420.2 194.6 420.2 196.1 419.7 196.8 420.9 197.9 422.7 198.1 420.9 197.8 419.5 197.9 418.5 197.9 417.3 198.0 416.6 196.9 415.1 196.8M406.0 184.1 407.4 183.6 408.6 183.9 409.2 183.4 410.7 183.7 411.7 183.4 413.0 184.4 414.1 183.7 415.6 183.5M454.1 186.0 455.3 185.1 456.7 184.1 457.5 184.1 459.3 184.1 459.9 184.6 461.1 184.6 462.0 184.9 463.2 186.0 464.5 186.0 463.4 187.1 462.6 187.5 461.0 187.3 460.3 186.6 458.4 186.9 457.9 186.2 456.2 186.7 454.8 186.4 454.1 186.0M506.0 190.9 507.7 190.2 508.5 190.6 509.8 190.3 511.4 190.2 512.4 190.6 513.8 191.1 514.8 190.3 515.9 190.8 516.9 191.4 518.5 190.9 519.9 190.7 520.8 191.2 519.6 191.6 518.8 191.4 517.9 191.8 516.5 191.9 515.1 192.4 514.1 192.2 513.1 192.6 512.0 192.1 511.3 192.2 510.0 192.2 508.7 191.9 507.0 191.9 506.0 190.9M515.4 193.4 516.5 193.2 517.7 194.6 518.8 194.1 516.8 193.5 515.6 194.3 515.4 193.4M563.8 197.3 564.5 196.8 566.0 197.7 565.2 197.7 563.8 197.3M412.5 200.2 413.6 199.7 415.0 200.4 414.1 201.2 412.5 200.2M344.9 197.6 345.9 197.4M376.2 192.5 376.7 192.4M319.8 433.7 320.0 433.9M295.5 437.5 296.1 437.7M277.8 439.9 279.9 440.2M277.1 441.2 278.3 441.1M172.8 218.4 172.5 219.6 172.0 220.7M173.9 219.3 173.8 220.3M175.5 219.8 175.0 221.0M175.7 218.6 175.2 220.0 174.1 220.7M173.2 219.0 172.9 220.2 171.5 221.0M362.5 216.4 363.8 215.5 362.4 214.7 364.3 213.8 362.7 212.8 364.5 211.8 366.1 210.4 367.9 209.4 369.0 208.0 370.8 206.6 371.9 205.0 372.3 204.2 373.5 203.6 374.6 202.3 373.2 201.3 374.4 201.9 376.3 201.3 377.2 199.9 378.7 199.8 379.5 199.4 381.1 198.4 382.5 197.8 384.0 198.2 385.3 198.7 386.3 198.2 387.2 198.0 388.7 198.4M370.9 202.3 372.7 201.8 373.8 200.9M249.0 190.9 250.0 190.7 251.1 191.1 252.4 190.7 251.0 192.0 249.7 192.0 248.6 191.7 249.0 190.9M263.7 193.5 264.7 194.0 266.0 193.3 266.8 194.2 268.2 193.5 268.3 194.9 266.8 194.2 265.7 195.3 264.6 195.2 263.7 193.5M261.3 202.3 262.2 202.0 263.7 202.3 262.4 203.4 261.3 202.3M245.9 186.0 246.9 186.4 248.1 185.9 249.5 186.5 250.4 185.0 251.5 185.7 250.4 187.3 249.3 187.5 248.1 187.0 246.5 187.7 245.7 187.8 245.9 186.0M222.0 189.7 223.1 189.4 224.6 189.2 225.8 189.2 226.3 188.6 228.0 188.7 229.1 188.2 229.6 189.3 228.1 189.1 227.6 190.3 225.9 190.7 225.4 190.8 223.7 190.4 222.0 189.7M266.0 186.7 267.2 186.9 268.2 185.5 269.4 186.4 270.4 185.0 271.6 185.4 272.6 185.4 274.3 185.9 275.0 185.5 276.5 184.3 278.0 183.4 279.1 184.1 280.0 183.6 281.2 183.5 282.7 184.2 283.7 183.4 285.0 183.2M263.1 184.7 264.0 183.8 265.8 185.0 266.5 184.9 267.4 183.6 269.0 184.0 270.2 183.7 271.4 183.8 272.7 183.5 273.7 183.9 275.2 183.8 276.0 182.2 277.3 182.9 278.5 182.8 280.0 182.1 281.0 182.3 282.3 181.9 283.5 182.7 285.0 182.0 286.1 182.0 286.9 181.3 288.2 182.0M260.3 189.0 261.1 189.1 262.5 189.3 263.7 188.7 265.4 189.1 266.5 188.7 267.7 188.0 269.1 188.5 270.1 187.9 271.6 188.5M216.3 198.4 217.3 198.9 218.6 199.0 220.0 198.2 221.4 197.7 223.2 198.5M217.9 197.0 219.6 197.3 220.5 196.7 222.5 197.0M224.8 201.8 223.5 203.0 222.3 203.9 223.4 204.0 224.5 202.6 225.6 202.3M249.6 201.0 248.7 202.9 249.7 203.2 251.0 202.3M270.1 207.1 271.0 207.1 272.1 205.5 273.3 205.8 274.1 204.4 275.2 204.5 274.1 205.1 272.5 205.0 270.4 205.5M269.0 204.7 267.5 203.1 268.5 202.5 269.7 201.5 270.5 201.7 271.9 201.8M263.2 198.7 264.2 199.4 265.3 199.3 266.7 198.7 268.7 198.7 269.6 197.9 271.6 198.4M258.2 196.1 259.2 195.6 261.1 195.3 262.5 196.4 264.5 196.8M228.9 195.3 230.1 196.4 231.7 195.8 233.1 195.8M222.3 199.4 223.7 198.7 225.3 198.8 227.2 199.3M246.9 194.6 247.0 195.6 246.0 196.6 244.6 196.4M244.0 191.9 245.4 192.0 246.5 191.8 248.1 191.2 249.7 191.7M237.4 192.8 238.4 193.2 240.4 193.2 241.2 193.2 242.4 192.3 243.8 193.1M227.7 191.6 228.8 191.1 230.4 191.7 231.4 191.8 233.0 190.9 234.6 191.0 235.6 191.3 236.9 191.3M245.5 188.7 246.4 187.9 248.4 188.0 249.2 188.8 250.6 188.0 251.5 188.9 253.4 188.5M257.4 186.0 259.1 185.9 260.2 185.3 260.8 185.7 262.5 185.2 263.6 186.0M265.9 189.9 267.1 189.4 268.6 189.0 269.7 189.3 271.2 190.0M290.1 199.1 291.5 198.2 292.3 198.3 294.1 198.2 292.2 197.3 293.3 197.0 295.0 196.4 293.5 195.4 292.3 194.9 293.8 194.4 295.2 193.7 293.9 193.9 292.8 193.2 292.2 192.2M294.0 202.3 292.8 201.0 294.9 200.4M325.8 198.4 324.4 198.5 323.6 197.6 324.7 197.0 326.0 197.1 327.4 196.4 325.8 196.0 325.4 195.2 326.8 194.6 327.9 195.3 328.5 194.0 330.2 194.3 329.9 193.2 328.3 192.8 329.5 192.4 330.5 191.4 331.7 191.1 333.1 191.3 332.3 190.4 331.4 189.4 332.3 188.5 333.3 188.1 334.9 188.0M301.3 211.3 300.6 209.8 300.8 208.8 302.2 207.8 302.9 206.3 304.2 206.3M316.7 201.5 318.3 200.6 319.5 199.9 320.9 199.9 322.1 199.1 323.2 199.4M307.7 182.3 308.6 181.6 309.9 181.4 311.0 182.1 312.1 182.7 313.4 182.1 315.0 182.0 315.9 181.7 316.7 182.1 318.3 181.2 319.0 182.4 320.7 181.7 321.5 182.0 322.8 182.0 323.9 181.4 324.6 182.2 326.0 182.4 326.9 181.6 328.6 181.4 329.1 182.2 330.5 182.1M290.3 182.9 291.2 182.5 292.5 182.2 294.4 182.3 295.6 183.3 296.5 182.4 297.8 182.3 299.3 182.8 300.2 182.8 301.4 181.9 302.6 183.1 303.6 182.5" fill="none" stroke="#b4b4b4" stroke-width="1.45" stroke-linejoin="round" stroke-linecap="round"/>
<path d="M185.0 463.5 186.2 462.3 187.1 462.5 188.8 462.2 190.3 462.8 191.0 462.2 193.0 462.0 194.1 461.9 195.0 461.0 196.6 461.4 197.5 460.9 199.1 461.1 199.9 461.1 201.2 460.2 202.6 461.0 203.5 460.9 205.3 460.8 206.5 459.4 207.5 459.8 208.4 459.2 209.8 459.5 211.6 459.4 212.7 459.7 213.8 459.2 215.2 458.9 216.5 459.5 217.9 459.6 218.4 458.5 220.0 458.5 221.5 458.9 222.6 458.4 224.0 459.4 225.0 457.9 226.0 458.0 227.5 459.0 228.8 459.4 230.0 458.9 231.0 458.2 232.8 458.0 233.6 458.4 235.0 458.0 235.7 456.8 237.6 457.0 238.8 456.0 240.3 456.4 241.5 455.5 242.9 455.5 243.6 455.8 245.0 456.5 243.7 457.3 243.8 459.0 245.3 458.3 246.6 458.7 247.5 458.2 248.9 459.0 250.0 458.0 251.1 458.8 252.3 458.4 253.3 457.7 255.3 456.9 256.5 457.3 257.5 457.2 258.6 456.7 260.0 456.2 261.3 457.4 262.9 456.4 263.8 456.5 265.4 456.5 266.0 454.6 267.5 454.8 268.5 453.3 269.1 452.3 270.0 451.5 271.1 452.2 272.6 452.6 273.8 453.0 275.2 452.4 275.5 450.3 276.2 449.8 277.3 448.1 279.0 448.3 280.0 447.2 281.2 448.2 281.7 449.6 283.0 449.8 282.9 450.8 284.2 451.8 284.5 453.5 284.6 455.4 286.4 455.8 286.5 457.2 286.0 458.4 285.5 460.5 284.0 461.2 282.9 461.1 281.4 461.3 280.0 462.2 278.8 462.5 277.2 462.1 276.0 462.7 275.0 463.5 273.4 463.9 272.3 463.4 271.6 464.2 270.0 464.0 268.2 464.8 267.0 465.5 268.1 466.5 270.1 465.9 271.2 467.0 272.2 467.7 273.4 467.5 274.6 466.8 276.2 466.8 277.5 467.2 279.0 468.4 279.9 467.2 280.8 468.7 282.5 467.9 283.8 468.5 284.7 467.7 286.1 468.1 287.4 469.0 289.1 467.5 290.0 468.0 291.6 468.2 292.7 468.8 293.5 468.4 295.0 469.0 296.2 469.6 297.6 469.5 298.5 470.0 300.0 469.8 301.4 468.5 302.4 468.2 303.8 467.2 305.0 466.7 306.2 465.5 306.9 466.4 308.6 467.2 310.0 467.2 311.6 466.7 312.2 466.5 313.7 465.9 315.0 466.5 316.5 466.7 317.7 465.8 318.4 465.1 320.0 465.5 321.7 464.9 322.8 464.4 323.9 464.1 325.0 463.0 326.7 463.2 327.3 461.8 328.8 462.1 330.0 461.0 331.4 459.9 332.5 460.2 333.8 459.8 335.6 459.7 336.3 458.6 338.0 459.0M185.0 463.5 186.7 464.1 187.5 466.0 189.1 466.4 190.0 466.9 191.4 466.8 192.5 467.2 191.1 468.2 189.5 467.7 188.8 468.5 190.3 468.2 191.2 469.4 192.7 470.0 193.9 470.0 195.0 469.8 196.6 470.2 197.7 469.4 198.8 470.5 199.7 469.8 201.5 470.6 202.5 470.5 201.3 470.4 200.1 469.9 198.5 468.2 197.5 468.0 198.7 468.4 199.7 468.1 201.2 468.2 202.5 466.6 203.5 466.7 205.0 467.2M187.5 473.0 188.7 472.2 190.3 473.1 191.5 472.2 192.3 472.3 193.6 473.2 195.1 472.7 196.5 472.5 197.8 472.5 198.8 473.6 200.3 472.2 201.3 472.2 202.1 472.9 204.0 473.2 204.9 473.2 206.3 473.0 207.5 473.0M185.5 464.0 187.5 464.1 188.5 465.9 190.0 465.5 188.5 465.5 187.5 467.0 188.4 467.8 189.7 466.8 191.4 466.6 192.5 467.0 193.8 466.5 192.9 467.8 191.2 469.0 192.3 468.8 193.9 468.3 194.9 468.8 196.4 468.1 197.3 468.1 198.8 468.5 197.3 469.8 196.2 471.0 197.9 471.5 199.3 471.2 200.3 470.6 200.8 469.3 202.6 468.8 203.8 469.5 202.5 470.3 202.0 471.5 203.2 471.0 204.8 470.6 206.0 472.0 207.5 471.0M275.0 443.0 276.1 442.3 277.9 443.2 278.6 444.1 279.8 443.0 281.2 444.0M268.8 453.5 269.9 452.0 271.6 451.5 272.5 451.0 271.3 452.3 271.6 453.8 271.2 454.8 271.9 453.6 273.8 453.3 275.0 452.5 275.2 453.6 274.9 455.5 273.8 456.0M237.5 457.0 239.2 456.9 240.2 457.1 241.3 456.3 242.5 455.5 241.2 457.1 241.2 458.5 241.9 457.6 243.7 457.2 244.5 457.3 246.2 457.0M338.0 459.0 339.5 458.0 339.4 457.0 340.5 455.5 341.9 455.9 342.7 454.3 344.6 454.9 345.6 454.4 346.4 453.8 348.0 454.0 349.1 454.7 350.6 453.3 351.5 453.3 353.1 453.9 354.4 454.2 355.1 453.9 356.3 454.4 358.0 454.0 359.2 453.9 360.7 454.2 361.9 453.3 363.0 454.1 364.6 453.0 365.1 453.8 367.2 453.1 368.0 453.5 369.2 453.1 370.8 454.2 372.0 453.9 372.7 452.9 374.5 454.7 375.1 453.0 377.2 453.5 378.0 454.0 379.4 453.4 380.7 454.6 381.6 454.6 382.5 453.1 383.9 454.2 385.7 454.5 387.0 453.0 388.0 453.5 389.1 452.5 390.5 451.9 392.3 452.8 393.0 450.9 394.6 451.4 395.5 451.0 396.9 450.8 398.3 450.7 398.7 449.7 400.3 450.3 401.3 449.8 403.0 449.8 403.9 450.0 405.9 449.7 406.4 448.9 407.8 448.9 408.9 448.2 410.5 448.0 412.0 448.6 412.6 447.3 414.6 447.6 415.3 447.7 416.5 446.6 418.0 446.5 419.0 446.9 420.9 446.5 421.3 446.7 422.6 445.4 424.2 446.0 425.4 447.2 426.7 447.7 428.0 448.5 429.4 449.0 430.7 450.1 431.8 450.8 433.0 451.7 434.2 451.5 434.2 452.5 434.9 454.6 435.5 455.5 434.0 456.6 433.0 457.9 431.8 458.0 432.9 456.9 433.5 456.0 434.6 455.3 436.0 454.5 436.6 453.0 438.9 453.0 439.2 451.5 440.9 451.8 442.3 451.2 442.9 450.9 444.1 449.7 445.0 449.0 447.3 449.9 448.0 449.0 449.4 448.4 450.9 449.0 451.9 448.9 453.2 447.4 454.3 447.6 455.5 447.4 456.6 448.3 458.0 447.2 459.4 447.1 460.9 447.0 462.1 446.6 463.5 446.9 463.9 445.8 465.8 445.9 466.4 445.3 468.0 446.0 469.7 446.3 470.4 445.3 471.9 446.1 473.2 446.2 474.0 445.2 475.6 444.8 476.5 445.1 478.0 445.5 479.4 446.2 480.7 445.5 481.9 445.4 482.6 444.8 483.8 444.3 485.2 444.7 486.7 444.1 488.0 444.8 489.2 445.9 490.8 445.0 491.5 445.0 493.0 445.6 494.1 446.6 495.0 446.9 496.4 447.7 498.0 447.2 499.0 447.8 500.5 447.6 502.3 447.5 503.2 447.1 504.3 445.8 506.0 446.5M484.0 446.2 484.8 447.1 486.5 447.0 487.4 447.1 488.8 446.4 490.0 448.2 491.5 447.8 492.5 447.2 494.0 448.0 495.5 447.0 496.9 447.1 497.9 447.5 499.2 447.0 500.1 447.1 501.5 447.5 502.4 447.5 504.2 446.8 505.1 446.8 506.3 447.5 507.4 446.4 508.9 446.6 510.3 446.9 511.2 447.2 513.1 446.6 514.0 446.2 514.9 445.9 516.2 446.4 517.9 446.7 518.8 446.2 520.0 447.0 521.5 446.8 522.5 446.7 524.0 447.4 525.2 448.6 526.5 448.0 527.7 447.4 529.0 448.9 530.5 449.5 531.0 449.6 532.6 450.0 533.8 449.0 534.9 450.3 536.5 450.0 537.7 449.5 538.8 451.2 539.8 451.1 541.4 450.9 543.0 450.8 543.7 451.2 545.1 452.6 546.5 452.0 547.4 451.7 548.8 453.1 550.3 452.4 551.1 454.1 552.5 453.6 553.5 454.5 552.2 455.2 551.4 456.7 549.5 456.2 549.0 457.5 547.7 457.2 546.6 457.4 545.3 458.9 544.2 458.0 543.3 459.5 541.8 459.4 540.2 460.3 539.0 460.0 537.3 460.5 536.4 461.2 535.2 462.4 534.2 462.3 532.4 462.5 531.1 463.0 530.4 463.0 529.0 463.8 527.7 463.7 526.1 464.2 525.1 466.3 524.2 466.5 522.7 467.2 521.5 467.5 520.6 468.7 518.9 469.0 517.9 469.6 516.7 469.6 515.0 469.5 514.0 470.0 515.1 469.6 517.0 469.9 517.8 470.8 518.8 470.3 520.3 471.2 521.0 471.9 522.5 470.9 523.9 471.8 525.6 471.7 526.5 472.0" fill="none" stroke="#b8b8b8" stroke-width="1.25" stroke-linejoin="round" stroke-linecap="round"/>
</g>
<rect x="78.72" y="78.72" width="552.96" height="495.36" fill="none" stroke="#000" stroke-width="1"/>
<g stroke="#000" stroke-width="1" fill="none"><line x1="93.64" y1="574.08" x2="616.76" y2="574.08"/><line x1="93.64" y1="574.08" x2="93.64" y2="583.68"/><line x1="180.82" y1="574.08" x2="180.82" y2="583.68"/><line x1="268.01" y1="574.08" x2="268.01" y2="583.68"/><line x1="355.20" y1="574.08" x2="355.20" y2="583.68"/><line x1="442.39" y1="574.08" x2="442.39" y2="583.68"/><line x1="529.58" y1="574.08" x2="529.58" y2="583.68"/><line x1="616.76" y1="574.08" x2="616.76" y2="583.68"/><line x1="78.72" y1="500.38" x2="78.72" y2="151.62"/><line x1="78.72" y1="500.38" x2="69.12" y2="500.38"/><line x1="78.72" y1="413.19" x2="69.12" y2="413.19"/><line x1="78.72" y1="326.00" x2="69.12" y2="326.00"/><line x1="78.72" y1="238.81" x2="69.12" y2="238.81"/><line x1="78.72" y1="151.62" x2="69.12" y2="151.62"/></g>
<g font-family="Liberation Sans, sans-serif" font-size="15.6px" fill="#000" text-anchor="middle" opacity="0.999"><text x="93.64" y="608.60">-1.5e+07</text><text x="180.82" y="608.60">-1.0e+07</text><text x="268.01" y="608.60">-5.0e+06</text><text x="355.20" y="608.60">0.0e+00</text><text x="442.39" y="608.60">5.0e+06</text><text x="529.58" y="608.60">1.0e+07</text><text x="616.76" y="608.60">1.5e+07</text><text transform="translate(56.00,500.38) rotate(-90)">-1e+07</text><text transform="translate(56.00,413.19) rotate(-90)">-5e+06</text><text transform="translate(56.00,326.00) rotate(-90)">0e+00</text><text transform="translate(56.00,238.81) rotate(-90)">5e+06</text><text transform="translate(56.00,151.62) rotate(-90)">1e+07</text></g>
</svg>
</body></html>
